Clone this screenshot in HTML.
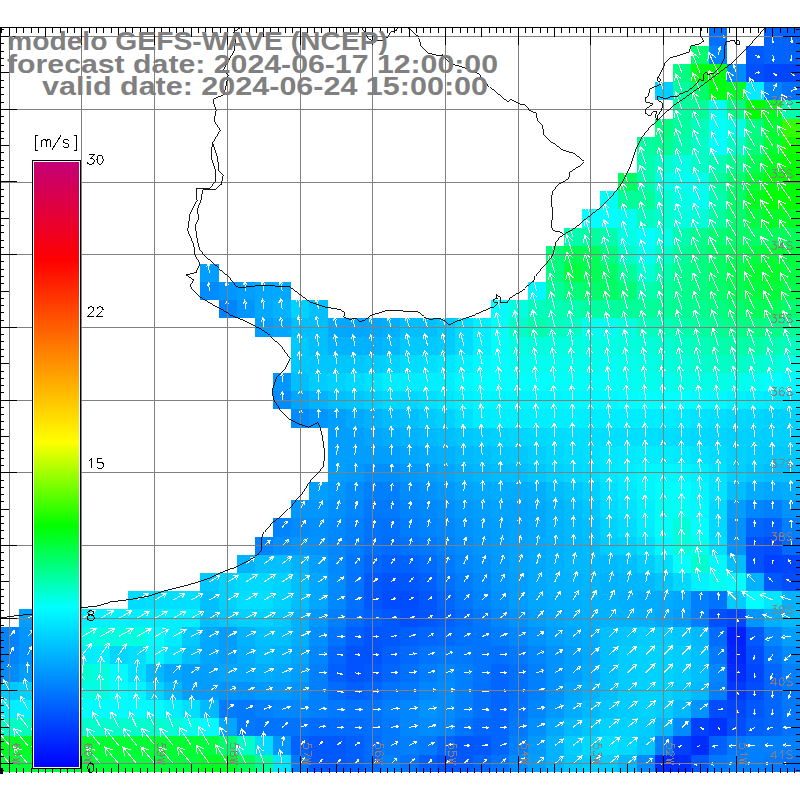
<!DOCTYPE html>
<html><head><meta charset="utf-8"><title>GEFS-WAVE wind</title>
<style>html,body{margin:0;padding:0;background:#fff;}body{width:800px;height:800px;position:relative;overflow:hidden;font-family:"Liberation Sans",sans-serif;}</style>
</head><body>
<svg width="800" height="800" viewBox="0 0 800 800" style="position:absolute;left:0;top:0">
<g shape-rendering="crispEdges">
<rect x="709" y="28" width="18" height="18" fill="#0070ff"/>
<rect x="764" y="28" width="36" height="18" fill="#0063ff"/>
<rect x="691" y="46" width="18" height="18" fill="#00ff6c"/>
<rect x="709" y="46" width="18" height="18" fill="#0083ff"/>
<rect x="746" y="46" width="18" height="18" fill="#0059ff"/>
<rect x="764" y="46" width="36" height="18" fill="#0063ff"/>
<rect x="673" y="64" width="18" height="18" fill="#00ff80"/>
<rect x="691" y="64" width="18" height="18" fill="#00ff13"/>
<rect x="709" y="64" width="18" height="18" fill="#00ff0d"/>
<rect x="727" y="64" width="19" height="18" fill="#008cff"/>
<rect x="746" y="64" width="18" height="18" fill="#0050ff"/>
<rect x="764" y="64" width="36" height="18" fill="#0046ff"/>
<rect x="655" y="82" width="18" height="18" fill="#00cfff"/>
<rect x="673" y="82" width="18" height="18" fill="#00ff9f"/>
<rect x="691" y="82" width="18" height="18" fill="#00ff6c"/>
<rect x="709" y="82" width="18" height="18" fill="#00ff13"/>
<rect x="727" y="82" width="19" height="18" fill="#00ff26"/>
<rect x="746" y="82" width="18" height="18" fill="#00ecff"/>
<rect x="764" y="82" width="18" height="18" fill="#0083ff"/>
<rect x="782" y="82" width="18" height="18" fill="#0070ff"/>
<rect x="673" y="100" width="18" height="19" fill="#00ff9f"/>
<rect x="691" y="100" width="18" height="19" fill="#00ff99"/>
<rect x="709" y="100" width="18" height="19" fill="#00fff2"/>
<rect x="727" y="100" width="19" height="19" fill="#00ff80"/>
<rect x="746" y="100" width="18" height="19" fill="#00ff00"/>
<rect x="764" y="100" width="18" height="19" fill="#00ff20"/>
<rect x="782" y="100" width="18" height="19" fill="#00ffac"/>
<rect x="655" y="119" width="18" height="18" fill="#00ff80"/>
<rect x="673" y="119" width="18" height="18" fill="#00ff9f"/>
<rect x="691" y="119" width="18" height="18" fill="#00ffb9"/>
<rect x="709" y="119" width="18" height="18" fill="#00fff9"/>
<rect x="727" y="119" width="19" height="18" fill="#00ffe5"/>
<rect x="746" y="119" width="18" height="18" fill="#00ff80"/>
<rect x="764" y="119" width="18" height="18" fill="#00ff33"/>
<rect x="782" y="119" width="18" height="18" fill="#33ff00"/>
<rect x="637" y="137" width="18" height="18" fill="#00ff9f"/>
<rect x="655" y="137" width="18" height="18" fill="#00ff93"/>
<rect x="673" y="137" width="18" height="18" fill="#00ffac"/>
<rect x="691" y="137" width="18" height="18" fill="#00ffc6"/>
<rect x="709" y="137" width="18" height="18" fill="#00ffff"/>
<rect x="727" y="137" width="19" height="18" fill="#00ffc6"/>
<rect x="746" y="137" width="18" height="18" fill="#00ff79"/>
<rect x="764" y="137" width="18" height="18" fill="#00ff33"/>
<rect x="782" y="137" width="18" height="18" fill="#13ff00"/>
<rect x="637" y="155" width="18" height="18" fill="#00ffac"/>
<rect x="655" y="155" width="18" height="18" fill="#00ffcc"/>
<rect x="673" y="155" width="18" height="18" fill="#00ffe5"/>
<rect x="691" y="155" width="18" height="18" fill="#00ffc6"/>
<rect x="709" y="155" width="18" height="18" fill="#00ffb3"/>
<rect x="727" y="155" width="19" height="18" fill="#00ff8c"/>
<rect x="746" y="155" width="18" height="18" fill="#00ff53"/>
<rect x="764" y="155" width="18" height="18" fill="#00ff20"/>
<rect x="782" y="155" width="18" height="18" fill="#00ff00"/>
<rect x="618" y="173" width="19" height="18" fill="#00ff60"/>
<rect x="637" y="173" width="18" height="18" fill="#00ffac"/>
<rect x="655" y="173" width="18" height="18" fill="#00ffe5"/>
<rect x="673" y="173" width="18" height="18" fill="#00fff2"/>
<rect x="691" y="173" width="18" height="18" fill="#00ffec"/>
<rect x="709" y="173" width="18" height="18" fill="#00ff9f"/>
<rect x="727" y="173" width="19" height="18" fill="#00ff6c"/>
<rect x="746" y="173" width="18" height="18" fill="#00ff33"/>
<rect x="764" y="173" width="18" height="18" fill="#00ff0d"/>
<rect x="782" y="173" width="18" height="18" fill="#00ff00"/>
<rect x="600" y="191" width="18" height="18" fill="#00fff2"/>
<rect x="618" y="191" width="37" height="18" fill="#00ff99"/>
<rect x="655" y="191" width="18" height="18" fill="#00ffcc"/>
<rect x="673" y="191" width="18" height="18" fill="#00ffe5"/>
<rect x="691" y="191" width="18" height="18" fill="#00fff2"/>
<rect x="709" y="191" width="18" height="18" fill="#00ffac"/>
<rect x="727" y="191" width="19" height="18" fill="#00ff66"/>
<rect x="746" y="191" width="18" height="18" fill="#00ff20"/>
<rect x="764" y="191" width="36" height="18" fill="#00ff00"/>
<rect x="582" y="209" width="36" height="19" fill="#00ffff"/>
<rect x="618" y="209" width="19" height="19" fill="#00fff2"/>
<rect x="637" y="209" width="18" height="19" fill="#00ffbf"/>
<rect x="655" y="209" width="18" height="19" fill="#00ffcc"/>
<rect x="673" y="209" width="18" height="19" fill="#00ffdf"/>
<rect x="691" y="209" width="18" height="19" fill="#00ffd9"/>
<rect x="709" y="209" width="18" height="19" fill="#00ff9f"/>
<rect x="727" y="209" width="19" height="19" fill="#00ff6c"/>
<rect x="746" y="209" width="18" height="19" fill="#00ff40"/>
<rect x="764" y="209" width="36" height="19" fill="#00ff26"/>
<rect x="564" y="228" width="18" height="18" fill="#00ffac"/>
<rect x="582" y="228" width="18" height="18" fill="#00ff9f"/>
<rect x="600" y="228" width="18" height="18" fill="#00ffac"/>
<rect x="618" y="228" width="19" height="18" fill="#00ffe5"/>
<rect x="637" y="228" width="18" height="18" fill="#00ffff"/>
<rect x="655" y="228" width="18" height="18" fill="#00ffe5"/>
<rect x="673" y="228" width="18" height="18" fill="#00ffac"/>
<rect x="691" y="228" width="18" height="18" fill="#00ff8c"/>
<rect x="709" y="228" width="18" height="18" fill="#00ff73"/>
<rect x="727" y="228" width="19" height="18" fill="#00ff66"/>
<rect x="746" y="228" width="18" height="18" fill="#00ff60"/>
<rect x="764" y="228" width="36" height="18" fill="#00ff59"/>
<rect x="546" y="246" width="18" height="18" fill="#00ff79"/>
<rect x="564" y="246" width="18" height="18" fill="#00ff53"/>
<rect x="582" y="246" width="18" height="18" fill="#00ff59"/>
<rect x="600" y="246" width="18" height="18" fill="#00ff80"/>
<rect x="618" y="246" width="19" height="18" fill="#00ffc6"/>
<rect x="637" y="246" width="18" height="18" fill="#00fff2"/>
<rect x="655" y="246" width="18" height="18" fill="#00ffc6"/>
<rect x="673" y="246" width="18" height="18" fill="#00ff99"/>
<rect x="691" y="246" width="18" height="18" fill="#00ff80"/>
<rect x="709" y="246" width="18" height="18" fill="#00ff66"/>
<rect x="727" y="246" width="19" height="18" fill="#00ff53"/>
<rect x="746" y="246" width="18" height="18" fill="#00ff40"/>
<rect x="764" y="246" width="18" height="18" fill="#00ff33"/>
<rect x="782" y="246" width="18" height="18" fill="#00ff40"/>
<rect x="200" y="264" width="19" height="18" fill="#009fff"/>
<rect x="546" y="264" width="18" height="18" fill="#00ff80"/>
<rect x="564" y="264" width="18" height="18" fill="#00ff40"/>
<rect x="582" y="264" width="18" height="18" fill="#00ff53"/>
<rect x="600" y="264" width="18" height="18" fill="#00ff66"/>
<rect x="618" y="264" width="19" height="18" fill="#00ff99"/>
<rect x="637" y="264" width="18" height="18" fill="#00ffd2"/>
<rect x="655" y="264" width="18" height="18" fill="#00ffac"/>
<rect x="673" y="264" width="18" height="18" fill="#00ff8c"/>
<rect x="691" y="264" width="18" height="18" fill="#00ff80"/>
<rect x="709" y="264" width="18" height="18" fill="#00ff66"/>
<rect x="727" y="264" width="19" height="18" fill="#00ff4c"/>
<rect x="746" y="264" width="18" height="18" fill="#00ff33"/>
<rect x="764" y="264" width="18" height="18" fill="#00ff2d"/>
<rect x="782" y="264" width="18" height="18" fill="#00ff40"/>
<rect x="200" y="282" width="19" height="18" fill="#008cff"/>
<rect x="219" y="282" width="18" height="18" fill="#0096ff"/>
<rect x="237" y="282" width="18" height="18" fill="#009fff"/>
<rect x="255" y="282" width="18" height="18" fill="#00a6ff"/>
<rect x="273" y="282" width="18" height="18" fill="#00a9ff"/>
<rect x="528" y="282" width="18" height="18" fill="#00f9ff"/>
<rect x="546" y="282" width="18" height="18" fill="#00ff99"/>
<rect x="564" y="282" width="18" height="18" fill="#00ff79"/>
<rect x="582" y="282" width="18" height="18" fill="#00ff6c"/>
<rect x="600" y="282" width="18" height="18" fill="#00ff66"/>
<rect x="618" y="282" width="19" height="18" fill="#00ff79"/>
<rect x="637" y="282" width="18" height="18" fill="#00ffac"/>
<rect x="655" y="282" width="18" height="18" fill="#00ff9f"/>
<rect x="673" y="282" width="18" height="18" fill="#00ff8c"/>
<rect x="691" y="282" width="18" height="18" fill="#00ff80"/>
<rect x="709" y="282" width="18" height="18" fill="#00ff6c"/>
<rect x="727" y="282" width="19" height="18" fill="#00ff53"/>
<rect x="746" y="282" width="18" height="18" fill="#00ff40"/>
<rect x="764" y="282" width="18" height="18" fill="#00ff39"/>
<rect x="782" y="282" width="18" height="18" fill="#00ff4c"/>
<rect x="219" y="300" width="18" height="18" fill="#0083ff"/>
<rect x="237" y="300" width="18" height="18" fill="#0096ff"/>
<rect x="255" y="300" width="18" height="18" fill="#00a9ff"/>
<rect x="273" y="300" width="18" height="18" fill="#00b2ff"/>
<rect x="291" y="300" width="18" height="18" fill="#00d2ff"/>
<rect x="309" y="300" width="19" height="18" fill="#00bfff"/>
<rect x="491" y="300" width="18" height="18" fill="#00fcff"/>
<rect x="509" y="300" width="19" height="18" fill="#00ffdf"/>
<rect x="528" y="300" width="18" height="18" fill="#00ffbf"/>
<rect x="546" y="300" width="18" height="18" fill="#00ffb3"/>
<rect x="564" y="300" width="18" height="18" fill="#00ffac"/>
<rect x="582" y="300" width="36" height="18" fill="#00ff9f"/>
<rect x="618" y="300" width="55" height="18" fill="#00ff99"/>
<rect x="673" y="300" width="18" height="18" fill="#00ff93"/>
<rect x="691" y="300" width="18" height="18" fill="#00ff8c"/>
<rect x="709" y="300" width="18" height="18" fill="#00ff80"/>
<rect x="727" y="300" width="19" height="18" fill="#00ff6c"/>
<rect x="746" y="300" width="36" height="18" fill="#00ff59"/>
<rect x="782" y="300" width="18" height="18" fill="#00ff6c"/>
<rect x="255" y="318" width="18" height="19" fill="#009fff"/>
<rect x="273" y="318" width="18" height="19" fill="#00a6ff"/>
<rect x="291" y="318" width="37" height="19" fill="#00bfff"/>
<rect x="328" y="318" width="18" height="19" fill="#00a9ff"/>
<rect x="346" y="318" width="18" height="19" fill="#00a6ff"/>
<rect x="364" y="318" width="18" height="19" fill="#00a9ff"/>
<rect x="382" y="318" width="18" height="19" fill="#00afff"/>
<rect x="400" y="318" width="37" height="19" fill="#00bfff"/>
<rect x="437" y="318" width="18" height="19" fill="#00c9ff"/>
<rect x="455" y="318" width="18" height="19" fill="#00dcff"/>
<rect x="473" y="318" width="18" height="19" fill="#00efff"/>
<rect x="491" y="318" width="18" height="19" fill="#00fff9"/>
<rect x="509" y="318" width="19" height="19" fill="#00ffc6"/>
<rect x="528" y="318" width="18" height="19" fill="#00ffac"/>
<rect x="546" y="318" width="18" height="19" fill="#00ffbf"/>
<rect x="564" y="318" width="18" height="19" fill="#00ffc6"/>
<rect x="582" y="318" width="18" height="19" fill="#00ffec"/>
<rect x="600" y="318" width="18" height="19" fill="#00fff2"/>
<rect x="618" y="318" width="19" height="19" fill="#00ffdf"/>
<rect x="637" y="318" width="18" height="19" fill="#00ffbf"/>
<rect x="655" y="318" width="18" height="19" fill="#00ffb9"/>
<rect x="673" y="318" width="18" height="19" fill="#00ffac"/>
<rect x="691" y="318" width="18" height="19" fill="#00ff9f"/>
<rect x="709" y="318" width="18" height="19" fill="#00ff93"/>
<rect x="727" y="318" width="19" height="19" fill="#00ff86"/>
<rect x="746" y="318" width="18" height="19" fill="#00ff80"/>
<rect x="764" y="318" width="18" height="19" fill="#00ff86"/>
<rect x="782" y="318" width="18" height="19" fill="#00ff99"/>
<rect x="291" y="337" width="18" height="18" fill="#00c9ff"/>
<rect x="309" y="337" width="19" height="18" fill="#00bfff"/>
<rect x="328" y="337" width="54" height="18" fill="#00b2ff"/>
<rect x="382" y="337" width="18" height="18" fill="#00b9ff"/>
<rect x="400" y="337" width="37" height="18" fill="#00c9ff"/>
<rect x="437" y="337" width="18" height="18" fill="#00ccff"/>
<rect x="455" y="337" width="18" height="18" fill="#00dcff"/>
<rect x="473" y="337" width="18" height="18" fill="#00efff"/>
<rect x="491" y="337" width="18" height="18" fill="#00fff9"/>
<rect x="509" y="337" width="19" height="18" fill="#00ffe5"/>
<rect x="528" y="337" width="54" height="18" fill="#00ffdf"/>
<rect x="582" y="337" width="36" height="18" fill="#00ffe5"/>
<rect x="618" y="337" width="19" height="18" fill="#00ffdf"/>
<rect x="637" y="337" width="18" height="18" fill="#00ffd9"/>
<rect x="655" y="337" width="18" height="18" fill="#00ffd2"/>
<rect x="673" y="337" width="18" height="18" fill="#00ffc6"/>
<rect x="691" y="337" width="18" height="18" fill="#00ffb9"/>
<rect x="709" y="337" width="18" height="18" fill="#00ffac"/>
<rect x="727" y="337" width="37" height="18" fill="#00ffa6"/>
<rect x="764" y="337" width="18" height="18" fill="#00ffb3"/>
<rect x="782" y="337" width="18" height="18" fill="#00ffbf"/>
<rect x="291" y="355" width="18" height="18" fill="#00c9ff"/>
<rect x="309" y="355" width="55" height="18" fill="#00c6ff"/>
<rect x="364" y="355" width="18" height="18" fill="#00ccff"/>
<rect x="382" y="355" width="18" height="18" fill="#00d2ff"/>
<rect x="400" y="355" width="19" height="18" fill="#00dcff"/>
<rect x="419" y="355" width="18" height="18" fill="#00dfff"/>
<rect x="437" y="355" width="18" height="18" fill="#00e6ff"/>
<rect x="455" y="355" width="18" height="18" fill="#00efff"/>
<rect x="473" y="355" width="18" height="18" fill="#00f9ff"/>
<rect x="491" y="355" width="18" height="18" fill="#00ffff"/>
<rect x="509" y="355" width="19" height="18" fill="#00fff2"/>
<rect x="528" y="355" width="72" height="18" fill="#00ffec"/>
<rect x="600" y="355" width="18" height="18" fill="#00fff2"/>
<rect x="618" y="355" width="19" height="18" fill="#00ffec"/>
<rect x="637" y="355" width="18" height="18" fill="#00ffe5"/>
<rect x="655" y="355" width="18" height="18" fill="#00ffdf"/>
<rect x="673" y="355" width="18" height="18" fill="#00ffd9"/>
<rect x="691" y="355" width="18" height="18" fill="#00ffcc"/>
<rect x="709" y="355" width="37" height="18" fill="#00ffc6"/>
<rect x="746" y="355" width="18" height="18" fill="#00ffcc"/>
<rect x="764" y="355" width="18" height="18" fill="#00ffd9"/>
<rect x="782" y="355" width="18" height="18" fill="#00ffe5"/>
<rect x="273" y="373" width="18" height="18" fill="#0096ff"/>
<rect x="291" y="373" width="18" height="18" fill="#00bfff"/>
<rect x="309" y="373" width="19" height="18" fill="#00ccff"/>
<rect x="328" y="373" width="18" height="18" fill="#00d2ff"/>
<rect x="346" y="373" width="18" height="18" fill="#00d9ff"/>
<rect x="364" y="373" width="18" height="18" fill="#00e2ff"/>
<rect x="382" y="373" width="37" height="18" fill="#00ecff"/>
<rect x="419" y="373" width="36" height="18" fill="#00efff"/>
<rect x="455" y="373" width="18" height="18" fill="#00f9ff"/>
<rect x="473" y="373" width="73" height="18" fill="#00ffff"/>
<rect x="546" y="373" width="72" height="18" fill="#00fff9"/>
<rect x="618" y="373" width="19" height="18" fill="#00fff2"/>
<rect x="637" y="373" width="36" height="18" fill="#00ffec"/>
<rect x="673" y="373" width="54" height="18" fill="#00ffe5"/>
<rect x="727" y="373" width="19" height="18" fill="#00ffec"/>
<rect x="746" y="373" width="18" height="18" fill="#00fff2"/>
<rect x="764" y="373" width="18" height="18" fill="#00ffff"/>
<rect x="782" y="373" width="18" height="18" fill="#00f9ff"/>
<rect x="273" y="391" width="18" height="18" fill="#008cff"/>
<rect x="291" y="391" width="18" height="18" fill="#00a6ff"/>
<rect x="309" y="391" width="19" height="18" fill="#00b2ff"/>
<rect x="328" y="391" width="18" height="18" fill="#00bfff"/>
<rect x="346" y="391" width="18" height="18" fill="#00c6ff"/>
<rect x="364" y="391" width="18" height="18" fill="#00cfff"/>
<rect x="382" y="391" width="18" height="18" fill="#00d9ff"/>
<rect x="400" y="391" width="19" height="18" fill="#00d6ff"/>
<rect x="419" y="391" width="18" height="18" fill="#00dfff"/>
<rect x="437" y="391" width="18" height="18" fill="#00e6ff"/>
<rect x="455" y="391" width="18" height="18" fill="#00efff"/>
<rect x="473" y="391" width="91" height="18" fill="#00f5ff"/>
<rect x="564" y="391" width="54" height="18" fill="#00f9ff"/>
<rect x="618" y="391" width="19" height="18" fill="#00fcff"/>
<rect x="637" y="391" width="54" height="18" fill="#00ffff"/>
<rect x="691" y="391" width="18" height="18" fill="#00fcff"/>
<rect x="709" y="391" width="18" height="18" fill="#00f9ff"/>
<rect x="727" y="391" width="19" height="18" fill="#00f2ff"/>
<rect x="746" y="391" width="18" height="18" fill="#00efff"/>
<rect x="764" y="391" width="18" height="18" fill="#00e9ff"/>
<rect x="782" y="391" width="18" height="18" fill="#00e6ff"/>
<rect x="291" y="409" width="18" height="19" fill="#008cff"/>
<rect x="309" y="409" width="19" height="19" fill="#0096ff"/>
<rect x="328" y="409" width="18" height="19" fill="#009fff"/>
<rect x="346" y="409" width="18" height="19" fill="#00a9ff"/>
<rect x="364" y="409" width="18" height="19" fill="#00b2ff"/>
<rect x="382" y="409" width="18" height="19" fill="#00bcff"/>
<rect x="400" y="409" width="19" height="19" fill="#00bfff"/>
<rect x="419" y="409" width="18" height="19" fill="#00c9ff"/>
<rect x="437" y="409" width="18" height="19" fill="#00d2ff"/>
<rect x="455" y="409" width="18" height="19" fill="#00dfff"/>
<rect x="473" y="409" width="18" height="19" fill="#00ecff"/>
<rect x="491" y="409" width="91" height="19" fill="#00efff"/>
<rect x="582" y="409" width="91" height="19" fill="#00ecff"/>
<rect x="673" y="409" width="18" height="19" fill="#00e9ff"/>
<rect x="691" y="409" width="18" height="19" fill="#00e2ff"/>
<rect x="709" y="409" width="18" height="19" fill="#00dfff"/>
<rect x="727" y="409" width="19" height="19" fill="#00d9ff"/>
<rect x="746" y="409" width="18" height="19" fill="#00d6ff"/>
<rect x="764" y="409" width="36" height="19" fill="#00d2ff"/>
<rect x="328" y="428" width="36" height="18" fill="#009fff"/>
<rect x="364" y="428" width="18" height="18" fill="#00a6ff"/>
<rect x="382" y="428" width="18" height="18" fill="#00acff"/>
<rect x="400" y="428" width="19" height="18" fill="#00b2ff"/>
<rect x="419" y="428" width="18" height="18" fill="#00b9ff"/>
<rect x="437" y="428" width="18" height="18" fill="#00bfff"/>
<rect x="455" y="428" width="18" height="18" fill="#00c6ff"/>
<rect x="473" y="428" width="18" height="18" fill="#00ccff"/>
<rect x="491" y="428" width="18" height="18" fill="#00d2ff"/>
<rect x="509" y="428" width="19" height="18" fill="#00d6ff"/>
<rect x="528" y="428" width="18" height="18" fill="#00d9ff"/>
<rect x="546" y="428" width="18" height="18" fill="#00dcff"/>
<rect x="564" y="428" width="109" height="18" fill="#00dfff"/>
<rect x="673" y="428" width="18" height="18" fill="#00dcff"/>
<rect x="691" y="428" width="18" height="18" fill="#00d9ff"/>
<rect x="709" y="428" width="18" height="18" fill="#00d6ff"/>
<rect x="727" y="428" width="19" height="18" fill="#00d2ff"/>
<rect x="746" y="428" width="54" height="18" fill="#00cfff"/>
<rect x="328" y="446" width="72" height="18" fill="#009fff"/>
<rect x="400" y="446" width="19" height="18" fill="#00a6ff"/>
<rect x="419" y="446" width="18" height="18" fill="#00acff"/>
<rect x="437" y="446" width="18" height="18" fill="#00b2ff"/>
<rect x="455" y="446" width="18" height="18" fill="#00b9ff"/>
<rect x="473" y="446" width="18" height="18" fill="#00bfff"/>
<rect x="491" y="446" width="18" height="18" fill="#00c6ff"/>
<rect x="509" y="446" width="19" height="18" fill="#00c9ff"/>
<rect x="528" y="446" width="18" height="18" fill="#00cfff"/>
<rect x="546" y="446" width="18" height="18" fill="#00d6ff"/>
<rect x="564" y="446" width="18" height="18" fill="#00dcff"/>
<rect x="582" y="446" width="18" height="18" fill="#00dfff"/>
<rect x="600" y="446" width="18" height="18" fill="#00e6ff"/>
<rect x="618" y="446" width="19" height="18" fill="#00e9ff"/>
<rect x="637" y="446" width="36" height="18" fill="#00ecff"/>
<rect x="673" y="446" width="18" height="18" fill="#00e9ff"/>
<rect x="691" y="446" width="18" height="18" fill="#00e2ff"/>
<rect x="709" y="446" width="18" height="18" fill="#00dcff"/>
<rect x="727" y="446" width="19" height="18" fill="#00d2ff"/>
<rect x="746" y="446" width="18" height="18" fill="#00ccff"/>
<rect x="764" y="446" width="36" height="18" fill="#00c9ff"/>
<rect x="328" y="464" width="18" height="18" fill="#009fff"/>
<rect x="346" y="464" width="18" height="18" fill="#0099ff"/>
<rect x="364" y="464" width="36" height="18" fill="#008fff"/>
<rect x="400" y="464" width="19" height="18" fill="#0099ff"/>
<rect x="419" y="464" width="18" height="18" fill="#009fff"/>
<rect x="437" y="464" width="18" height="18" fill="#00a6ff"/>
<rect x="455" y="464" width="18" height="18" fill="#00afff"/>
<rect x="473" y="464" width="18" height="18" fill="#00b6ff"/>
<rect x="491" y="464" width="18" height="18" fill="#00bcff"/>
<rect x="509" y="464" width="19" height="18" fill="#00bfff"/>
<rect x="528" y="464" width="18" height="18" fill="#00c6ff"/>
<rect x="546" y="464" width="18" height="18" fill="#00cfff"/>
<rect x="564" y="464" width="18" height="18" fill="#00d6ff"/>
<rect x="582" y="464" width="18" height="18" fill="#00dcff"/>
<rect x="600" y="464" width="18" height="18" fill="#00e6ff"/>
<rect x="618" y="464" width="19" height="18" fill="#00ecff"/>
<rect x="637" y="464" width="18" height="18" fill="#00f5ff"/>
<rect x="655" y="464" width="18" height="18" fill="#00f9ff"/>
<rect x="673" y="464" width="18" height="18" fill="#00f5ff"/>
<rect x="691" y="464" width="18" height="18" fill="#00efff"/>
<rect x="709" y="464" width="18" height="18" fill="#00e2ff"/>
<rect x="727" y="464" width="19" height="18" fill="#00cfff"/>
<rect x="746" y="464" width="18" height="18" fill="#00c6ff"/>
<rect x="764" y="464" width="36" height="18" fill="#00bfff"/>
<rect x="309" y="482" width="19" height="18" fill="#009fff"/>
<rect x="328" y="482" width="18" height="18" fill="#0096ff"/>
<rect x="346" y="482" width="18" height="18" fill="#008cff"/>
<rect x="364" y="482" width="36" height="18" fill="#0080ff"/>
<rect x="400" y="482" width="19" height="18" fill="#008cff"/>
<rect x="419" y="482" width="18" height="18" fill="#0093ff"/>
<rect x="437" y="482" width="18" height="18" fill="#0099ff"/>
<rect x="455" y="482" width="18" height="18" fill="#00a3ff"/>
<rect x="473" y="482" width="18" height="18" fill="#00a9ff"/>
<rect x="491" y="482" width="37" height="18" fill="#00acff"/>
<rect x="528" y="482" width="18" height="18" fill="#00afff"/>
<rect x="546" y="482" width="18" height="18" fill="#00bcff"/>
<rect x="564" y="482" width="18" height="18" fill="#00c6ff"/>
<rect x="582" y="482" width="18" height="18" fill="#00cfff"/>
<rect x="600" y="482" width="18" height="18" fill="#00dfff"/>
<rect x="618" y="482" width="19" height="18" fill="#00e9ff"/>
<rect x="637" y="482" width="18" height="18" fill="#00f5ff"/>
<rect x="655" y="482" width="18" height="18" fill="#00fff9"/>
<rect x="673" y="482" width="18" height="18" fill="#00ffff"/>
<rect x="691" y="482" width="18" height="18" fill="#00f5ff"/>
<rect x="709" y="482" width="18" height="18" fill="#00e2ff"/>
<rect x="727" y="482" width="19" height="18" fill="#00bfff"/>
<rect x="746" y="482" width="18" height="18" fill="#00acff"/>
<rect x="764" y="482" width="18" height="18" fill="#00a6ff"/>
<rect x="782" y="482" width="18" height="18" fill="#00acff"/>
<rect x="291" y="500" width="37" height="18" fill="#0096ff"/>
<rect x="328" y="500" width="18" height="18" fill="#008fff"/>
<rect x="346" y="500" width="18" height="18" fill="#0086ff"/>
<rect x="364" y="500" width="36" height="18" fill="#0079ff"/>
<rect x="400" y="500" width="19" height="18" fill="#0083ff"/>
<rect x="419" y="500" width="18" height="18" fill="#0089ff"/>
<rect x="437" y="500" width="18" height="18" fill="#008fff"/>
<rect x="455" y="500" width="18" height="18" fill="#0099ff"/>
<rect x="473" y="500" width="18" height="18" fill="#009fff"/>
<rect x="491" y="500" width="37" height="18" fill="#00a3ff"/>
<rect x="528" y="500" width="18" height="18" fill="#00a9ff"/>
<rect x="546" y="500" width="18" height="18" fill="#00b2ff"/>
<rect x="564" y="500" width="18" height="18" fill="#00bcff"/>
<rect x="582" y="500" width="18" height="18" fill="#00c6ff"/>
<rect x="600" y="500" width="18" height="18" fill="#00d9ff"/>
<rect x="618" y="500" width="19" height="18" fill="#00e2ff"/>
<rect x="637" y="500" width="18" height="18" fill="#00efff"/>
<rect x="655" y="500" width="36" height="18" fill="#00fff2"/>
<rect x="691" y="500" width="18" height="18" fill="#00f9ff"/>
<rect x="709" y="500" width="18" height="18" fill="#00d9ff"/>
<rect x="727" y="500" width="19" height="18" fill="#009fff"/>
<rect x="746" y="500" width="18" height="18" fill="#0086ff"/>
<rect x="764" y="500" width="18" height="18" fill="#0080ff"/>
<rect x="782" y="500" width="18" height="18" fill="#0093ff"/>
<rect x="273" y="518" width="18" height="19" fill="#0083ff"/>
<rect x="291" y="518" width="18" height="19" fill="#008cff"/>
<rect x="309" y="518" width="19" height="19" fill="#008fff"/>
<rect x="328" y="518" width="18" height="19" fill="#0089ff"/>
<rect x="346" y="518" width="18" height="19" fill="#0080ff"/>
<rect x="364" y="518" width="18" height="19" fill="#0073ff"/>
<rect x="382" y="518" width="18" height="19" fill="#0070ff"/>
<rect x="400" y="518" width="19" height="19" fill="#007cff"/>
<rect x="419" y="518" width="18" height="19" fill="#0083ff"/>
<rect x="437" y="518" width="18" height="19" fill="#0089ff"/>
<rect x="455" y="518" width="18" height="19" fill="#0093ff"/>
<rect x="473" y="518" width="18" height="19" fill="#0099ff"/>
<rect x="491" y="518" width="18" height="19" fill="#009fff"/>
<rect x="509" y="518" width="19" height="19" fill="#00a3ff"/>
<rect x="528" y="518" width="18" height="19" fill="#00a9ff"/>
<rect x="546" y="518" width="18" height="19" fill="#00b2ff"/>
<rect x="564" y="518" width="18" height="19" fill="#00b9ff"/>
<rect x="582" y="518" width="18" height="19" fill="#00bfff"/>
<rect x="600" y="518" width="18" height="19" fill="#00d2ff"/>
<rect x="618" y="518" width="19" height="19" fill="#00dcff"/>
<rect x="637" y="518" width="18" height="19" fill="#00ecff"/>
<rect x="655" y="518" width="18" height="19" fill="#00fff9"/>
<rect x="673" y="518" width="18" height="19" fill="#00ffd9"/>
<rect x="691" y="518" width="18" height="19" fill="#00ffff"/>
<rect x="709" y="518" width="18" height="19" fill="#00d9ff"/>
<rect x="727" y="518" width="19" height="19" fill="#0093ff"/>
<rect x="746" y="518" width="18" height="19" fill="#0066ff"/>
<rect x="764" y="518" width="18" height="19" fill="#0060ff"/>
<rect x="782" y="518" width="18" height="19" fill="#0080ff"/>
<rect x="255" y="537" width="18" height="18" fill="#0083ff"/>
<rect x="273" y="537" width="18" height="18" fill="#008fff"/>
<rect x="291" y="537" width="18" height="18" fill="#0096ff"/>
<rect x="309" y="537" width="19" height="18" fill="#0093ff"/>
<rect x="328" y="537" width="18" height="18" fill="#0086ff"/>
<rect x="346" y="537" width="18" height="18" fill="#007cff"/>
<rect x="364" y="537" width="18" height="18" fill="#0070ff"/>
<rect x="382" y="537" width="18" height="18" fill="#006cff"/>
<rect x="400" y="537" width="19" height="18" fill="#0073ff"/>
<rect x="419" y="537" width="18" height="18" fill="#0079ff"/>
<rect x="437" y="537" width="18" height="18" fill="#0083ff"/>
<rect x="455" y="537" width="18" height="18" fill="#008cff"/>
<rect x="473" y="537" width="18" height="18" fill="#0096ff"/>
<rect x="491" y="537" width="18" height="18" fill="#009cff"/>
<rect x="509" y="537" width="19" height="18" fill="#00a3ff"/>
<rect x="528" y="537" width="18" height="18" fill="#00a9ff"/>
<rect x="546" y="537" width="18" height="18" fill="#00afff"/>
<rect x="564" y="537" width="18" height="18" fill="#00b6ff"/>
<rect x="582" y="537" width="18" height="18" fill="#00bcff"/>
<rect x="600" y="537" width="18" height="18" fill="#00ccff"/>
<rect x="618" y="537" width="19" height="18" fill="#00d2ff"/>
<rect x="637" y="537" width="18" height="18" fill="#00dfff"/>
<rect x="655" y="537" width="18" height="18" fill="#00f9ff"/>
<rect x="673" y="537" width="18" height="18" fill="#00ffd9"/>
<rect x="691" y="537" width="18" height="18" fill="#00ffec"/>
<rect x="709" y="537" width="18" height="18" fill="#00dfff"/>
<rect x="727" y="537" width="19" height="18" fill="#0093ff"/>
<rect x="746" y="537" width="18" height="18" fill="#0053ff"/>
<rect x="764" y="537" width="18" height="18" fill="#004cff"/>
<rect x="782" y="537" width="18" height="18" fill="#006cff"/>
<rect x="237" y="555" width="18" height="18" fill="#00b2ff"/>
<rect x="255" y="555" width="36" height="18" fill="#00bfff"/>
<rect x="291" y="555" width="18" height="18" fill="#00b2ff"/>
<rect x="309" y="555" width="19" height="18" fill="#009fff"/>
<rect x="328" y="555" width="18" height="18" fill="#0089ff"/>
<rect x="346" y="555" width="18" height="18" fill="#0076ff"/>
<rect x="364" y="555" width="18" height="18" fill="#0066ff"/>
<rect x="382" y="555" width="18" height="18" fill="#0060ff"/>
<rect x="400" y="555" width="19" height="18" fill="#0063ff"/>
<rect x="419" y="555" width="18" height="18" fill="#006cff"/>
<rect x="437" y="555" width="18" height="18" fill="#0079ff"/>
<rect x="455" y="555" width="18" height="18" fill="#0086ff"/>
<rect x="473" y="555" width="18" height="18" fill="#008fff"/>
<rect x="491" y="555" width="18" height="18" fill="#0099ff"/>
<rect x="509" y="555" width="19" height="18" fill="#00a3ff"/>
<rect x="528" y="555" width="18" height="18" fill="#00a9ff"/>
<rect x="546" y="555" width="18" height="18" fill="#00afff"/>
<rect x="564" y="555" width="18" height="18" fill="#00b6ff"/>
<rect x="582" y="555" width="36" height="18" fill="#00b9ff"/>
<rect x="618" y="555" width="19" height="18" fill="#00bfff"/>
<rect x="637" y="555" width="18" height="18" fill="#00ccff"/>
<rect x="655" y="555" width="18" height="18" fill="#00dfff"/>
<rect x="673" y="555" width="18" height="18" fill="#00ffff"/>
<rect x="691" y="555" width="18" height="18" fill="#00ffcc"/>
<rect x="709" y="555" width="18" height="18" fill="#00f9ff"/>
<rect x="727" y="555" width="19" height="18" fill="#00bfff"/>
<rect x="746" y="555" width="18" height="18" fill="#0053ff"/>
<rect x="764" y="555" width="18" height="18" fill="#0040ff"/>
<rect x="782" y="555" width="18" height="18" fill="#0046ff"/>
<rect x="200" y="573" width="19" height="18" fill="#00c9ff"/>
<rect x="219" y="573" width="18" height="18" fill="#00d2ff"/>
<rect x="237" y="573" width="36" height="18" fill="#00d9ff"/>
<rect x="273" y="573" width="18" height="18" fill="#00d2ff"/>
<rect x="291" y="573" width="18" height="18" fill="#00bfff"/>
<rect x="309" y="573" width="19" height="18" fill="#00a6ff"/>
<rect x="328" y="573" width="18" height="18" fill="#008cff"/>
<rect x="346" y="573" width="18" height="18" fill="#0073ff"/>
<rect x="364" y="573" width="18" height="18" fill="#0059ff"/>
<rect x="382" y="573" width="18" height="18" fill="#0053ff"/>
<rect x="400" y="573" width="19" height="18" fill="#0056ff"/>
<rect x="419" y="573" width="18" height="18" fill="#0060ff"/>
<rect x="437" y="573" width="18" height="18" fill="#0070ff"/>
<rect x="455" y="573" width="18" height="18" fill="#007cff"/>
<rect x="473" y="573" width="18" height="18" fill="#0089ff"/>
<rect x="491" y="573" width="18" height="18" fill="#0096ff"/>
<rect x="509" y="573" width="19" height="18" fill="#009fff"/>
<rect x="528" y="573" width="18" height="18" fill="#00a9ff"/>
<rect x="546" y="573" width="18" height="18" fill="#00afff"/>
<rect x="564" y="573" width="18" height="18" fill="#00b2ff"/>
<rect x="582" y="573" width="18" height="18" fill="#00b6ff"/>
<rect x="600" y="573" width="18" height="18" fill="#00b2ff"/>
<rect x="618" y="573" width="19" height="18" fill="#00b6ff"/>
<rect x="637" y="573" width="18" height="18" fill="#00b9ff"/>
<rect x="655" y="573" width="18" height="18" fill="#00c6ff"/>
<rect x="673" y="573" width="18" height="18" fill="#00d9ff"/>
<rect x="691" y="573" width="18" height="18" fill="#00f2ff"/>
<rect x="709" y="573" width="18" height="18" fill="#00fff2"/>
<rect x="727" y="573" width="19" height="18" fill="#00ffff"/>
<rect x="746" y="573" width="18" height="18" fill="#00b2ff"/>
<rect x="764" y="573" width="18" height="18" fill="#0059ff"/>
<rect x="782" y="573" width="18" height="18" fill="#004cff"/>
<rect x="128" y="591" width="18" height="18" fill="#00dcff"/>
<rect x="146" y="591" width="54" height="18" fill="#00dfff"/>
<rect x="200" y="591" width="19" height="18" fill="#00bfff"/>
<rect x="219" y="591" width="18" height="18" fill="#00d2ff"/>
<rect x="237" y="591" width="36" height="18" fill="#00dfff"/>
<rect x="273" y="591" width="18" height="18" fill="#00d2ff"/>
<rect x="291" y="591" width="18" height="18" fill="#00bfff"/>
<rect x="309" y="591" width="19" height="18" fill="#00a6ff"/>
<rect x="328" y="591" width="18" height="18" fill="#0089ff"/>
<rect x="346" y="591" width="18" height="18" fill="#0070ff"/>
<rect x="364" y="591" width="18" height="18" fill="#0056ff"/>
<rect x="382" y="591" width="37" height="18" fill="#004cff"/>
<rect x="419" y="591" width="18" height="18" fill="#0056ff"/>
<rect x="437" y="591" width="18" height="18" fill="#0066ff"/>
<rect x="455" y="591" width="18" height="18" fill="#0076ff"/>
<rect x="473" y="591" width="18" height="18" fill="#0083ff"/>
<rect x="491" y="591" width="18" height="18" fill="#008fff"/>
<rect x="509" y="591" width="19" height="18" fill="#009cff"/>
<rect x="528" y="591" width="18" height="18" fill="#00a6ff"/>
<rect x="546" y="591" width="18" height="18" fill="#00acff"/>
<rect x="564" y="591" width="18" height="18" fill="#00afff"/>
<rect x="582" y="591" width="36" height="18" fill="#00b2ff"/>
<rect x="618" y="591" width="19" height="18" fill="#00afff"/>
<rect x="637" y="591" width="36" height="18" fill="#00acff"/>
<rect x="673" y="591" width="18" height="18" fill="#00a6ff"/>
<rect x="691" y="591" width="18" height="18" fill="#0080ff"/>
<rect x="709" y="591" width="18" height="18" fill="#0073ff"/>
<rect x="727" y="591" width="19" height="18" fill="#00ccff"/>
<rect x="746" y="591" width="18" height="18" fill="#00ffff"/>
<rect x="764" y="591" width="18" height="18" fill="#00e6ff"/>
<rect x="782" y="591" width="18" height="18" fill="#00b2ff"/>
<rect x="19" y="609" width="18" height="18" fill="#009fff"/>
<rect x="37" y="609" width="18" height="18" fill="#00bfff"/>
<rect x="55" y="609" width="18" height="18" fill="#00dfff"/>
<rect x="73" y="609" width="55" height="18" fill="#00f2ff"/>
<rect x="128" y="609" width="72" height="18" fill="#00efff"/>
<rect x="200" y="609" width="19" height="18" fill="#00bfff"/>
<rect x="219" y="609" width="18" height="18" fill="#00c9ff"/>
<rect x="237" y="609" width="18" height="18" fill="#00cfff"/>
<rect x="255" y="609" width="18" height="18" fill="#00d2ff"/>
<rect x="273" y="609" width="18" height="18" fill="#00c9ff"/>
<rect x="291" y="609" width="18" height="18" fill="#00b2ff"/>
<rect x="309" y="609" width="19" height="18" fill="#0099ff"/>
<rect x="328" y="609" width="18" height="18" fill="#0080ff"/>
<rect x="346" y="609" width="18" height="18" fill="#006cff"/>
<rect x="364" y="609" width="18" height="18" fill="#0060ff"/>
<rect x="382" y="609" width="18" height="18" fill="#0059ff"/>
<rect x="400" y="609" width="19" height="18" fill="#0050ff"/>
<rect x="419" y="609" width="18" height="18" fill="#0056ff"/>
<rect x="437" y="609" width="18" height="18" fill="#0060ff"/>
<rect x="455" y="609" width="18" height="18" fill="#006cff"/>
<rect x="473" y="609" width="18" height="18" fill="#0079ff"/>
<rect x="491" y="609" width="18" height="18" fill="#0086ff"/>
<rect x="509" y="609" width="19" height="18" fill="#0093ff"/>
<rect x="528" y="609" width="18" height="18" fill="#009fff"/>
<rect x="546" y="609" width="18" height="18" fill="#00a6ff"/>
<rect x="564" y="609" width="18" height="18" fill="#00acff"/>
<rect x="582" y="609" width="18" height="18" fill="#00afff"/>
<rect x="600" y="609" width="37" height="18" fill="#00b2ff"/>
<rect x="637" y="609" width="18" height="18" fill="#00afff"/>
<rect x="655" y="609" width="18" height="18" fill="#00a9ff"/>
<rect x="673" y="609" width="18" height="18" fill="#009cff"/>
<rect x="691" y="609" width="18" height="18" fill="#0080ff"/>
<rect x="709" y="609" width="18" height="18" fill="#0050ff"/>
<rect x="727" y="609" width="19" height="18" fill="#0046ff"/>
<rect x="746" y="609" width="18" height="18" fill="#0096ff"/>
<rect x="764" y="609" width="18" height="18" fill="#00afff"/>
<rect x="782" y="609" width="18" height="18" fill="#00b9ff"/>
<rect x="0" y="627" width="19" height="19" fill="#0083ff"/>
<rect x="19" y="627" width="18" height="19" fill="#0096ff"/>
<rect x="37" y="627" width="18" height="19" fill="#00bfff"/>
<rect x="55" y="627" width="18" height="19" fill="#00efff"/>
<rect x="73" y="627" width="18" height="19" fill="#00ffe5"/>
<rect x="91" y="627" width="55" height="19" fill="#00ffdf"/>
<rect x="146" y="627" width="18" height="19" fill="#00fcff"/>
<rect x="164" y="627" width="18" height="19" fill="#00ecff"/>
<rect x="182" y="627" width="18" height="19" fill="#00c9ff"/>
<rect x="200" y="627" width="19" height="19" fill="#00a9ff"/>
<rect x="219" y="627" width="18" height="19" fill="#009fff"/>
<rect x="237" y="627" width="18" height="19" fill="#00b2ff"/>
<rect x="255" y="627" width="36" height="19" fill="#00bfff"/>
<rect x="291" y="627" width="18" height="19" fill="#00afff"/>
<rect x="309" y="627" width="19" height="19" fill="#008fff"/>
<rect x="328" y="627" width="18" height="19" fill="#0073ff"/>
<rect x="346" y="627" width="18" height="19" fill="#0060ff"/>
<rect x="364" y="627" width="18" height="19" fill="#0053ff"/>
<rect x="382" y="627" width="18" height="19" fill="#0059ff"/>
<rect x="400" y="627" width="19" height="19" fill="#0060ff"/>
<rect x="419" y="627" width="18" height="19" fill="#0066ff"/>
<rect x="437" y="627" width="18" height="19" fill="#0069ff"/>
<rect x="455" y="627" width="18" height="19" fill="#0070ff"/>
<rect x="473" y="627" width="18" height="19" fill="#0076ff"/>
<rect x="491" y="627" width="18" height="19" fill="#007cff"/>
<rect x="509" y="627" width="19" height="19" fill="#0086ff"/>
<rect x="528" y="627" width="18" height="19" fill="#0093ff"/>
<rect x="546" y="627" width="18" height="19" fill="#009fff"/>
<rect x="564" y="627" width="18" height="19" fill="#00a6ff"/>
<rect x="582" y="627" width="18" height="19" fill="#00acff"/>
<rect x="600" y="627" width="18" height="19" fill="#00bfff"/>
<rect x="618" y="627" width="19" height="19" fill="#00c6ff"/>
<rect x="637" y="627" width="36" height="19" fill="#00ccff"/>
<rect x="673" y="627" width="18" height="19" fill="#00c6ff"/>
<rect x="691" y="627" width="18" height="19" fill="#00b9ff"/>
<rect x="709" y="627" width="18" height="19" fill="#006cff"/>
<rect x="727" y="627" width="19" height="19" fill="#0020ff"/>
<rect x="746" y="627" width="18" height="19" fill="#0059ff"/>
<rect x="764" y="627" width="18" height="19" fill="#0086ff"/>
<rect x="782" y="627" width="18" height="19" fill="#009fff"/>
<rect x="0" y="646" width="19" height="18" fill="#0083ff"/>
<rect x="19" y="646" width="18" height="18" fill="#0093ff"/>
<rect x="37" y="646" width="18" height="18" fill="#00afff"/>
<rect x="55" y="646" width="18" height="18" fill="#00cfff"/>
<rect x="73" y="646" width="18" height="18" fill="#00ecff"/>
<rect x="91" y="646" width="19" height="18" fill="#00efff"/>
<rect x="110" y="646" width="18" height="18" fill="#00d6ff"/>
<rect x="128" y="646" width="18" height="18" fill="#00dfff"/>
<rect x="146" y="646" width="18" height="18" fill="#00f5ff"/>
<rect x="164" y="646" width="18" height="18" fill="#00dfff"/>
<rect x="182" y="646" width="18" height="18" fill="#00bfff"/>
<rect x="200" y="646" width="19" height="18" fill="#00a6ff"/>
<rect x="219" y="646" width="18" height="18" fill="#009fff"/>
<rect x="237" y="646" width="18" height="18" fill="#00acff"/>
<rect x="255" y="646" width="18" height="18" fill="#00b9ff"/>
<rect x="273" y="646" width="18" height="18" fill="#00b2ff"/>
<rect x="291" y="646" width="18" height="18" fill="#00a6ff"/>
<rect x="309" y="646" width="19" height="18" fill="#0086ff"/>
<rect x="328" y="646" width="18" height="18" fill="#0066ff"/>
<rect x="346" y="646" width="36" height="18" fill="#0053ff"/>
<rect x="382" y="646" width="18" height="18" fill="#0060ff"/>
<rect x="400" y="646" width="19" height="18" fill="#0069ff"/>
<rect x="419" y="646" width="18" height="18" fill="#0073ff"/>
<rect x="437" y="646" width="36" height="18" fill="#0079ff"/>
<rect x="473" y="646" width="18" height="18" fill="#0073ff"/>
<rect x="491" y="646" width="18" height="18" fill="#0070ff"/>
<rect x="509" y="646" width="19" height="18" fill="#0079ff"/>
<rect x="528" y="646" width="18" height="18" fill="#0086ff"/>
<rect x="546" y="646" width="18" height="18" fill="#0093ff"/>
<rect x="564" y="646" width="18" height="18" fill="#009fff"/>
<rect x="582" y="646" width="18" height="18" fill="#00a9ff"/>
<rect x="600" y="646" width="18" height="18" fill="#00bfff"/>
<rect x="618" y="646" width="19" height="18" fill="#00ccff"/>
<rect x="637" y="646" width="36" height="18" fill="#00d2ff"/>
<rect x="673" y="646" width="18" height="18" fill="#00ccff"/>
<rect x="691" y="646" width="18" height="18" fill="#00bfff"/>
<rect x="709" y="646" width="18" height="18" fill="#0079ff"/>
<rect x="727" y="646" width="19" height="18" fill="#0026ff"/>
<rect x="746" y="646" width="18" height="18" fill="#004cff"/>
<rect x="764" y="646" width="18" height="18" fill="#0073ff"/>
<rect x="782" y="646" width="18" height="18" fill="#008cff"/>
<rect x="0" y="664" width="19" height="18" fill="#008cff"/>
<rect x="19" y="664" width="18" height="18" fill="#009fff"/>
<rect x="37" y="664" width="18" height="18" fill="#00bfff"/>
<rect x="55" y="664" width="18" height="18" fill="#00efff"/>
<rect x="73" y="664" width="18" height="18" fill="#00ffd2"/>
<rect x="91" y="664" width="19" height="18" fill="#00ffdf"/>
<rect x="110" y="664" width="18" height="18" fill="#00fcff"/>
<rect x="128" y="664" width="18" height="18" fill="#00dfff"/>
<rect x="146" y="664" width="18" height="18" fill="#00b9ff"/>
<rect x="164" y="664" width="18" height="18" fill="#00a6ff"/>
<rect x="182" y="664" width="37" height="18" fill="#009fff"/>
<rect x="219" y="664" width="36" height="18" fill="#00a6ff"/>
<rect x="255" y="664" width="18" height="18" fill="#00acff"/>
<rect x="273" y="664" width="18" height="18" fill="#00a9ff"/>
<rect x="291" y="664" width="18" height="18" fill="#009fff"/>
<rect x="309" y="664" width="19" height="18" fill="#0080ff"/>
<rect x="328" y="664" width="18" height="18" fill="#0060ff"/>
<rect x="346" y="664" width="18" height="18" fill="#0053ff"/>
<rect x="364" y="664" width="18" height="18" fill="#0059ff"/>
<rect x="382" y="664" width="18" height="18" fill="#0066ff"/>
<rect x="400" y="664" width="19" height="18" fill="#0070ff"/>
<rect x="419" y="664" width="18" height="18" fill="#007cff"/>
<rect x="437" y="664" width="18" height="18" fill="#0086ff"/>
<rect x="455" y="664" width="18" height="18" fill="#0080ff"/>
<rect x="473" y="664" width="18" height="18" fill="#0073ff"/>
<rect x="491" y="664" width="18" height="18" fill="#0066ff"/>
<rect x="509" y="664" width="19" height="18" fill="#0070ff"/>
<rect x="528" y="664" width="18" height="18" fill="#0080ff"/>
<rect x="546" y="664" width="18" height="18" fill="#0093ff"/>
<rect x="564" y="664" width="18" height="18" fill="#009fff"/>
<rect x="582" y="664" width="18" height="18" fill="#00acff"/>
<rect x="600" y="664" width="18" height="18" fill="#00bfff"/>
<rect x="618" y="664" width="19" height="18" fill="#00ccff"/>
<rect x="637" y="664" width="36" height="18" fill="#00d2ff"/>
<rect x="673" y="664" width="18" height="18" fill="#00ccff"/>
<rect x="691" y="664" width="18" height="18" fill="#00bfff"/>
<rect x="709" y="664" width="18" height="18" fill="#0086ff"/>
<rect x="727" y="664" width="19" height="18" fill="#002dff"/>
<rect x="746" y="664" width="18" height="18" fill="#0046ff"/>
<rect x="764" y="664" width="18" height="18" fill="#0066ff"/>
<rect x="782" y="664" width="18" height="18" fill="#0080ff"/>
<rect x="0" y="682" width="19" height="18" fill="#00c9ff"/>
<rect x="19" y="682" width="18" height="18" fill="#00d2ff"/>
<rect x="37" y="682" width="18" height="18" fill="#00dfff"/>
<rect x="55" y="682" width="18" height="18" fill="#00f2ff"/>
<rect x="73" y="682" width="18" height="18" fill="#00ffe5"/>
<rect x="91" y="682" width="19" height="18" fill="#00ffdf"/>
<rect x="110" y="682" width="18" height="18" fill="#00ffff"/>
<rect x="128" y="682" width="18" height="18" fill="#00f5ff"/>
<rect x="146" y="682" width="18" height="18" fill="#00d6ff"/>
<rect x="164" y="682" width="18" height="18" fill="#00b9ff"/>
<rect x="182" y="682" width="18" height="18" fill="#009fff"/>
<rect x="200" y="682" width="19" height="18" fill="#009cff"/>
<rect x="219" y="682" width="18" height="18" fill="#0096ff"/>
<rect x="237" y="682" width="18" height="18" fill="#0093ff"/>
<rect x="255" y="682" width="36" height="18" fill="#0099ff"/>
<rect x="291" y="682" width="18" height="18" fill="#0093ff"/>
<rect x="309" y="682" width="19" height="18" fill="#0080ff"/>
<rect x="328" y="682" width="18" height="18" fill="#006cff"/>
<rect x="346" y="682" width="18" height="18" fill="#0060ff"/>
<rect x="364" y="682" width="18" height="18" fill="#0066ff"/>
<rect x="382" y="682" width="18" height="18" fill="#0073ff"/>
<rect x="400" y="682" width="19" height="18" fill="#0079ff"/>
<rect x="419" y="682" width="18" height="18" fill="#0086ff"/>
<rect x="437" y="682" width="18" height="18" fill="#008cff"/>
<rect x="455" y="682" width="18" height="18" fill="#0080ff"/>
<rect x="473" y="682" width="18" height="18" fill="#0070ff"/>
<rect x="491" y="682" width="18" height="18" fill="#0066ff"/>
<rect x="509" y="682" width="19" height="18" fill="#0070ff"/>
<rect x="528" y="682" width="18" height="18" fill="#0080ff"/>
<rect x="546" y="682" width="18" height="18" fill="#0093ff"/>
<rect x="564" y="682" width="18" height="18" fill="#00a6ff"/>
<rect x="582" y="682" width="18" height="18" fill="#00b2ff"/>
<rect x="600" y="682" width="18" height="18" fill="#00bfff"/>
<rect x="618" y="682" width="19" height="18" fill="#00ccff"/>
<rect x="637" y="682" width="36" height="18" fill="#00d2ff"/>
<rect x="673" y="682" width="18" height="18" fill="#00c9ff"/>
<rect x="691" y="682" width="18" height="18" fill="#00b9ff"/>
<rect x="709" y="682" width="18" height="18" fill="#0080ff"/>
<rect x="727" y="682" width="19" height="18" fill="#0039ff"/>
<rect x="746" y="682" width="18" height="18" fill="#004cff"/>
<rect x="764" y="682" width="18" height="18" fill="#0066ff"/>
<rect x="782" y="682" width="18" height="18" fill="#0079ff"/>
<rect x="0" y="700" width="19" height="18" fill="#00efff"/>
<rect x="19" y="700" width="18" height="18" fill="#00f2ff"/>
<rect x="37" y="700" width="18" height="18" fill="#00f9ff"/>
<rect x="55" y="700" width="36" height="18" fill="#00ffff"/>
<rect x="91" y="700" width="73" height="18" fill="#00fcff"/>
<rect x="164" y="700" width="18" height="18" fill="#00efff"/>
<rect x="182" y="700" width="18" height="18" fill="#00dfff"/>
<rect x="200" y="700" width="19" height="18" fill="#00b9ff"/>
<rect x="219" y="700" width="18" height="18" fill="#007cff"/>
<rect x="237" y="700" width="18" height="18" fill="#0079ff"/>
<rect x="255" y="700" width="18" height="18" fill="#0080ff"/>
<rect x="273" y="700" width="36" height="18" fill="#0086ff"/>
<rect x="309" y="700" width="19" height="18" fill="#0080ff"/>
<rect x="328" y="700" width="18" height="18" fill="#0079ff"/>
<rect x="346" y="700" width="36" height="18" fill="#0073ff"/>
<rect x="382" y="700" width="18" height="18" fill="#0080ff"/>
<rect x="400" y="700" width="19" height="18" fill="#0086ff"/>
<rect x="419" y="700" width="18" height="18" fill="#0093ff"/>
<rect x="437" y="700" width="18" height="18" fill="#008cff"/>
<rect x="455" y="700" width="18" height="18" fill="#0080ff"/>
<rect x="473" y="700" width="18" height="18" fill="#0070ff"/>
<rect x="491" y="700" width="18" height="18" fill="#0066ff"/>
<rect x="509" y="700" width="19" height="18" fill="#0073ff"/>
<rect x="528" y="700" width="18" height="18" fill="#0086ff"/>
<rect x="546" y="700" width="18" height="18" fill="#0099ff"/>
<rect x="564" y="700" width="18" height="18" fill="#00acff"/>
<rect x="582" y="700" width="18" height="18" fill="#00b9ff"/>
<rect x="600" y="700" width="18" height="18" fill="#00c6ff"/>
<rect x="618" y="700" width="19" height="18" fill="#00ccff"/>
<rect x="637" y="700" width="18" height="18" fill="#00d2ff"/>
<rect x="655" y="700" width="18" height="18" fill="#00ccff"/>
<rect x="673" y="700" width="18" height="18" fill="#00b9ff"/>
<rect x="691" y="700" width="18" height="18" fill="#0093ff"/>
<rect x="709" y="700" width="18" height="18" fill="#004cff"/>
<rect x="727" y="700" width="19" height="18" fill="#0046ff"/>
<rect x="746" y="700" width="18" height="18" fill="#0059ff"/>
<rect x="764" y="700" width="18" height="18" fill="#0066ff"/>
<rect x="782" y="700" width="18" height="18" fill="#0079ff"/>
<rect x="0" y="718" width="19" height="18" fill="#00ffc6"/>
<rect x="19" y="718" width="36" height="18" fill="#00ffbf"/>
<rect x="55" y="718" width="18" height="18" fill="#00ffc6"/>
<rect x="73" y="718" width="91" height="18" fill="#00ffcc"/>
<rect x="164" y="718" width="18" height="18" fill="#00ffd9"/>
<rect x="182" y="718" width="18" height="18" fill="#00ffec"/>
<rect x="200" y="718" width="19" height="18" fill="#00fcff"/>
<rect x="219" y="718" width="18" height="18" fill="#00a6ff"/>
<rect x="237" y="718" width="18" height="18" fill="#0079ff"/>
<rect x="255" y="718" width="54" height="18" fill="#0073ff"/>
<rect x="309" y="718" width="55" height="18" fill="#006cff"/>
<rect x="364" y="718" width="18" height="18" fill="#0070ff"/>
<rect x="382" y="718" width="18" height="18" fill="#0079ff"/>
<rect x="400" y="718" width="19" height="18" fill="#0086ff"/>
<rect x="419" y="718" width="18" height="18" fill="#008cff"/>
<rect x="437" y="718" width="18" height="18" fill="#0086ff"/>
<rect x="455" y="718" width="18" height="18" fill="#0073ff"/>
<rect x="473" y="718" width="36" height="18" fill="#0066ff"/>
<rect x="509" y="718" width="19" height="18" fill="#0079ff"/>
<rect x="528" y="718" width="18" height="18" fill="#008fff"/>
<rect x="546" y="718" width="18" height="18" fill="#00a6ff"/>
<rect x="564" y="718" width="18" height="18" fill="#00b9ff"/>
<rect x="582" y="718" width="18" height="18" fill="#00c6ff"/>
<rect x="600" y="718" width="37" height="18" fill="#00d2ff"/>
<rect x="637" y="718" width="18" height="18" fill="#00ccff"/>
<rect x="655" y="718" width="18" height="18" fill="#00b9ff"/>
<rect x="673" y="718" width="18" height="18" fill="#008cff"/>
<rect x="691" y="718" width="18" height="18" fill="#0040ff"/>
<rect x="709" y="718" width="18" height="18" fill="#0033ff"/>
<rect x="727" y="718" width="19" height="18" fill="#004cff"/>
<rect x="746" y="718" width="18" height="18" fill="#0060ff"/>
<rect x="764" y="718" width="18" height="18" fill="#0066ff"/>
<rect x="782" y="718" width="18" height="18" fill="#0073ff"/>
<rect x="0" y="736" width="55" height="19" fill="#00ff26"/>
<rect x="55" y="736" width="36" height="19" fill="#00ff2d"/>
<rect x="91" y="736" width="109" height="19" fill="#00ff33"/>
<rect x="200" y="736" width="19" height="19" fill="#00ff40"/>
<rect x="219" y="736" width="18" height="19" fill="#00ff6c"/>
<rect x="237" y="736" width="18" height="19" fill="#00ffc6"/>
<rect x="255" y="736" width="18" height="19" fill="#00dcff"/>
<rect x="273" y="736" width="18" height="19" fill="#0096ff"/>
<rect x="291" y="736" width="18" height="19" fill="#0063ff"/>
<rect x="309" y="736" width="37" height="19" fill="#0059ff"/>
<rect x="346" y="736" width="18" height="19" fill="#0060ff"/>
<rect x="364" y="736" width="18" height="19" fill="#006cff"/>
<rect x="382" y="736" width="18" height="19" fill="#0079ff"/>
<rect x="400" y="736" width="19" height="19" fill="#0080ff"/>
<rect x="419" y="736" width="18" height="19" fill="#0079ff"/>
<rect x="437" y="736" width="18" height="19" fill="#0066ff"/>
<rect x="455" y="736" width="36" height="19" fill="#0059ff"/>
<rect x="491" y="736" width="18" height="19" fill="#0066ff"/>
<rect x="509" y="736" width="19" height="19" fill="#0080ff"/>
<rect x="528" y="736" width="18" height="19" fill="#0099ff"/>
<rect x="546" y="736" width="18" height="19" fill="#00b2ff"/>
<rect x="564" y="736" width="18" height="19" fill="#00ccff"/>
<rect x="582" y="736" width="18" height="19" fill="#00d9ff"/>
<rect x="600" y="736" width="18" height="19" fill="#00dfff"/>
<rect x="618" y="736" width="19" height="19" fill="#00d9ff"/>
<rect x="637" y="736" width="18" height="19" fill="#00c6ff"/>
<rect x="655" y="736" width="18" height="19" fill="#0080ff"/>
<rect x="673" y="736" width="18" height="19" fill="#0040ff"/>
<rect x="691" y="736" width="18" height="19" fill="#002dff"/>
<rect x="709" y="736" width="18" height="19" fill="#0060ff"/>
<rect x="727" y="736" width="19" height="19" fill="#0079ff"/>
<rect x="746" y="736" width="54" height="19" fill="#0080ff"/>
<rect x="0" y="755" width="19" height="17" fill="#00ff33"/>
<rect x="19" y="755" width="181" height="17" fill="#00ff39"/>
<rect x="200" y="755" width="19" height="17" fill="#00ff20"/>
<rect x="219" y="755" width="18" height="17" fill="#00ff26"/>
<rect x="237" y="755" width="18" height="17" fill="#00ff59"/>
<rect x="255" y="755" width="18" height="17" fill="#00ff99"/>
<rect x="273" y="755" width="18" height="17" fill="#00e6ff"/>
<rect x="291" y="755" width="18" height="17" fill="#0079ff"/>
<rect x="309" y="755" width="37" height="17" fill="#0059ff"/>
<rect x="346" y="755" width="18" height="17" fill="#0060ff"/>
<rect x="364" y="755" width="18" height="17" fill="#006cff"/>
<rect x="382" y="755" width="18" height="17" fill="#0080ff"/>
<rect x="400" y="755" width="19" height="17" fill="#0073ff"/>
<rect x="419" y="755" width="18" height="17" fill="#0060ff"/>
<rect x="437" y="755" width="18" height="17" fill="#0053ff"/>
<rect x="455" y="755" width="18" height="17" fill="#0059ff"/>
<rect x="473" y="755" width="18" height="17" fill="#0066ff"/>
<rect x="491" y="755" width="18" height="17" fill="#0073ff"/>
<rect x="509" y="755" width="19" height="17" fill="#008cff"/>
<rect x="528" y="755" width="18" height="17" fill="#009fff"/>
<rect x="546" y="755" width="18" height="17" fill="#00b2ff"/>
<rect x="564" y="755" width="18" height="17" fill="#00c6ff"/>
<rect x="582" y="755" width="36" height="17" fill="#00ccff"/>
<rect x="618" y="755" width="19" height="17" fill="#00b9ff"/>
<rect x="637" y="755" width="18" height="17" fill="#008cff"/>
<rect x="655" y="755" width="36" height="17" fill="#002dff"/>
<rect x="691" y="755" width="18" height="17" fill="#0059ff"/>
<rect x="709" y="755" width="18" height="17" fill="#0079ff"/>
<rect x="727" y="755" width="37" height="17" fill="#0080ff"/>
<rect x="764" y="755" width="18" height="17" fill="#0079ff"/>
<rect x="782" y="755" width="18" height="17" fill="#0073ff"/>
</g>
<clipPath id="pc"><rect x="0" y="28" width="800" height="744"/></clipPath>
<path clip-path="url(#pc)" d="M718.3 36.8L725.2 36.8M722.8 35.4L725.2 36.8L722.8 38.2M772.9 36.8L772.9 42.9M774.1 40.8L772.9 42.9L771.7 40.8M791.0 36.8L792.1 42.8M792.9 40.5L792.1 42.8L790.5 40.9M700.2 55.0L693.3 36.1M691.9 44.0L693.3 36.1L699.5 41.3M718.3 55.0L720.4 47.3M718.2 49.5L720.4 47.3L721.2 50.3M754.7 55.0L759.6 57.3M758.4 55.5L759.6 57.3L757.5 57.5M772.9 55.0L773.4 61.0M774.4 58.8L773.4 61.0L772.0 59.0M791.0 55.0L791.0 61.0M792.2 58.9L791.0 61.0L789.8 58.9M682.0 73.2L675.3 54.8M674.0 62.5L675.3 54.8L681.3 59.8M700.2 73.2L691.6 52.0M690.4 61.0L691.6 52.0L698.8 57.6M718.3 73.2L708.6 52.3M707.8 61.5L708.6 52.3L716.2 57.6M736.5 73.2L733.6 65.1M733.0 68.5L733.6 65.1L736.2 67.3M754.7 73.2L759.5 72.3M757.7 71.6L759.5 72.3L758.0 73.6M772.9 73.2L776.7 75.0M775.8 73.6L776.7 75.0L775.0 75.1M791.0 73.2L794.3 75.9M793.7 74.3L794.3 75.9L792.6 75.6M663.8 91.3L659.5 79.4M658.6 84.4L659.5 79.4L663.4 82.7M682.0 91.3L675.7 73.9M674.4 81.2L675.7 73.9L681.3 78.7M700.2 91.3L692.6 72.7M691.5 80.7L692.6 72.7L699.0 77.6M718.3 91.3L709.1 70.5M708.1 79.6L709.1 70.5L716.4 75.8M736.5 91.3L727.1 71.2M726.3 80.0L727.1 71.2L734.4 76.3M754.7 91.3L749.8 77.8M748.8 83.4L749.8 77.8L754.2 81.5M772.9 91.3L776.2 84.1M773.6 85.9L776.2 84.1L776.5 87.3M791.0 91.3L796.9 87.9M794.2 87.9L796.9 87.9L795.6 90.3M682.0 109.5L675.5 92.1M674.3 99.4L675.5 92.1L681.2 96.9M700.2 109.5L692.9 92.3M691.9 99.7L692.9 92.3L698.8 96.8M718.3 109.5L711.5 95.1M711.0 101.4L711.5 95.1L716.7 98.7M736.5 109.5L727.4 92.3M727.1 100.1L727.4 92.3L734.0 96.4M754.7 109.5L743.1 89.2M743.0 98.5L743.1 89.2L751.2 93.9M772.9 109.5L761.1 90.4M761.4 99.3L761.1 90.4L769.0 94.7M791.0 109.5L781.1 94.3M781.5 101.6L781.1 94.3L787.6 97.6M663.8 127.7L657.8 109.1M656.2 116.7L657.8 109.1L663.6 114.3M682.0 127.7L675.5 110.3M674.3 117.6L675.5 110.3L681.2 115.0M700.2 127.7L693.2 111.4M692.3 118.4L693.2 111.4L698.9 115.6M718.3 127.7L711.4 113.5M711.0 119.8L711.4 113.5L716.7 117.0M736.5 127.7L728.7 113.3M728.5 119.8L728.7 113.3L734.3 116.7M754.7 127.7L744.9 110.8M744.9 118.6L744.9 110.8L751.6 114.7M772.9 127.7L761.3 109.1M761.6 117.9L761.3 109.1L769.0 113.2M791.0 127.7L777.2 106.9M777.8 116.9L777.2 106.9L786.1 111.3M645.7 145.8L639.9 128.2M638.4 135.5L639.9 128.2L645.4 133.2M663.8 145.8L658.0 127.8M656.4 135.2L658.0 127.8L663.6 132.9M682.0 145.8L675.6 128.9M674.4 136.0L675.6 128.9L681.2 133.5M700.2 145.8L693.3 129.9M692.5 136.8L693.3 129.9L698.8 134.1M718.3 145.8L711.4 131.8M711.0 138.1L711.4 131.8L716.6 135.3M736.5 145.8L728.1 130.7M728.0 137.6L728.1 130.7L734.1 134.2M754.7 145.8L744.6 128.9M744.7 136.8L744.6 128.9L751.5 132.8M772.9 145.8L761.1 127.4M761.5 136.1L761.1 127.4L768.9 131.5M791.0 145.8L777.5 126.0M778.2 135.6L777.5 126.0L786.2 130.2M645.7 164.0L640.1 146.8M638.5 153.9L640.1 146.8L645.4 151.6M663.8 164.0L658.5 147.7M657.1 154.4L658.5 147.7L663.6 152.3M682.0 164.0L676.2 148.7M675.1 155.2L676.2 148.7L681.2 152.8M700.2 164.0L693.2 148.1M692.4 155.0L693.2 148.1L698.8 152.2M718.3 164.0L710.3 148.0M709.9 155.1L710.3 148.0L716.3 151.9M736.5 164.0L727.1 147.4M727.0 155.0L727.1 147.4L733.7 151.3M754.7 164.0L743.9 146.2M744.0 154.5L743.9 146.2L751.2 150.2M772.9 164.0L760.6 145.2M761.1 154.2L760.6 145.2L768.6 149.3M791.0 164.0L777.7 144.8M778.5 154.1L777.7 144.8L786.2 148.8M627.5 182.2L621.2 162.7M619.5 170.7L621.2 162.7L627.2 168.2M645.7 182.2L640.1 164.9M638.5 172.0L640.1 164.9L645.4 169.8M663.8 182.2L658.8 166.6M657.4 173.0L658.8 166.6L663.6 171.0M682.0 182.2L676.3 167.3M675.3 173.6L676.3 167.3L681.2 171.3M700.2 182.2L693.6 167.4M692.9 173.8L693.6 167.4L698.8 171.2M718.3 182.2L709.9 165.7M709.5 173.1L709.9 165.7L716.1 169.7M736.5 182.2L726.5 164.8M726.5 172.8L726.5 164.8L733.4 168.8M754.7 182.2L743.2 163.6M743.5 172.3L743.2 163.6L750.9 167.7M772.9 182.2L760.2 163.0M760.7 172.2L760.2 163.0L768.4 167.1M791.0 182.2L777.5 163.1M778.4 172.4L777.5 163.1L786.0 167.0M609.3 200.4L604.4 185.1M603.0 191.4L604.4 185.1L609.1 189.4M627.5 200.4L621.7 182.6M620.1 189.9L621.7 182.6L627.3 187.6M645.7 200.4L639.9 182.6M638.3 189.9L639.9 182.6L645.4 187.6M663.8 200.4L658.5 184.0M657.1 190.7L658.5 184.0L663.6 188.6M682.0 200.4L676.1 185.1M675.1 191.5L676.1 185.1L681.2 189.2M700.2 200.4L693.7 185.7M693.0 192.1L693.7 185.7L698.8 189.5M718.3 200.4L710.1 184.2M709.7 191.4L710.1 184.2L716.2 188.1M736.5 200.4L726.4 182.8M726.4 190.9L726.4 182.8L733.4 186.8M754.7 200.4L742.9 181.3M743.2 190.3L742.9 181.3L750.8 185.5M772.9 200.4L759.9 180.8M760.5 190.2L759.9 180.8L768.3 185.0M791.0 200.4L777.5 181.2M778.4 190.6L777.5 181.2L786.0 185.2M591.1 218.5L586.3 203.7M585.0 209.8L586.3 203.7L591.0 207.9M609.3 218.5L604.5 203.7M603.2 209.8L604.5 203.7L609.1 207.9M627.5 218.5L622.5 203.3M621.2 209.6L622.5 203.3L627.3 207.6M645.7 218.5L640.2 201.8M638.8 208.7L640.2 201.8L645.4 206.5M663.8 218.5L658.5 202.2M657.1 208.9L658.5 202.2L663.6 206.8M682.0 218.5L676.1 203.1M675.0 209.6L676.1 203.1L681.2 207.2M700.2 218.5L693.4 203.2M692.6 209.9L693.4 203.2L698.8 207.1M718.3 218.5L709.9 202.0M709.5 209.4L709.9 202.0L716.1 206.1M736.5 218.5L726.5 201.1M726.5 209.2L726.5 201.1L733.4 205.1M754.7 218.5L743.4 200.3M743.7 208.9L743.4 200.3L751.0 204.3M772.9 218.5L760.6 200.0M761.1 208.9L760.6 200.0L768.5 204.0M791.0 218.5L778.2 200.4M779.0 209.2L778.2 200.4L786.3 204.1M573.0 236.7L567.4 219.4M565.9 226.5L567.4 219.4L572.8 224.3M591.1 236.7L585.4 219.1M583.9 226.3L585.4 219.1L590.9 224.0M609.3 236.7L603.7 219.5M602.2 226.5L603.7 219.5L609.1 224.3M627.5 236.7L622.4 221.1M621.1 227.5L622.4 221.1L627.3 225.5M645.7 236.7L640.8 221.9M639.5 228.0L640.8 221.9L645.5 226.0M663.8 236.7L658.8 221.1M657.4 227.5L658.8 221.1L663.6 225.5M682.0 236.7L675.5 219.8M674.4 226.9L675.5 219.8L681.1 224.3M700.2 236.7L692.4 219.2M691.6 226.8L692.4 219.2L698.6 223.7M718.3 236.7L709.3 219.0M708.9 226.9L709.3 219.0L716.0 223.3M736.5 236.7L726.4 219.1M726.4 227.2L726.4 219.1L733.4 223.2M754.7 236.7L743.9 219.3M744.2 227.5L743.9 219.3L751.1 223.2M772.9 236.7L761.5 219.5M762.0 227.7L761.5 219.5L768.9 223.2M791.0 236.7L779.1 219.8M779.9 228.1L779.1 219.8L786.6 223.3M554.8 254.9L549.0 236.0M547.3 243.7L549.0 236.0L554.8 241.4M573.0 254.9L566.7 235.0M564.9 243.1L566.7 235.0L572.8 240.6M591.1 254.9L584.8 235.2M583.0 243.3L584.8 235.2L590.9 240.7M609.3 254.9L603.3 236.3M601.7 244.0L603.3 236.3L609.1 241.5M627.5 254.9L622.1 238.4M620.7 245.2L622.1 238.4L627.3 243.0M645.7 254.9L640.7 239.7M639.4 245.9L640.7 239.7L645.5 243.9M663.8 254.9L658.5 238.4M657.0 245.2L658.5 238.4L663.6 243.0M682.0 254.9L675.3 237.4M674.1 244.8L675.3 237.4L681.1 242.1M700.2 254.9L692.2 237.1M691.4 244.8L692.2 237.1L698.6 241.6M718.3 254.9L709.1 236.8M708.7 244.9L709.1 236.8L715.9 241.2M736.5 254.9L726.1 236.8M726.1 245.1L726.1 236.8L733.3 241.0M754.7 254.9L743.4 236.6M743.7 245.2L743.4 236.6L751.0 240.7M772.9 254.9L760.8 236.7M761.3 245.4L760.8 236.7L768.6 240.6M791.0 254.9L778.7 237.4M779.4 245.9L778.7 237.4L786.4 240.9M209.5 273.0L208.0 263.4M206.6 267.0L208.0 263.4L210.5 266.4M554.8 273.0L549.4 254.3M547.5 261.9L549.4 254.3L555.0 259.7M573.0 273.0L567.0 252.4M564.9 260.8L567.0 252.4L573.2 258.4M591.1 273.0L585.2 253.0M583.3 261.2L585.2 253.0L591.3 258.8M609.3 273.0L603.5 253.6M601.6 261.5L603.5 253.6L609.4 259.2M627.5 273.0L622.0 255.1M620.3 262.4L622.0 255.1L627.5 260.2M645.7 273.0L640.7 256.8M639.2 263.4L640.7 256.8L645.6 261.4M663.8 273.0L658.5 255.7M656.8 262.8L658.5 255.7L663.8 260.6M682.0 273.0L675.5 255.1M674.1 262.6L675.5 255.1L681.3 260.0M700.2 273.0L692.7 255.0M691.7 262.8L692.7 255.0L698.9 259.8M718.3 273.0L709.7 254.7M709.0 262.8L709.7 254.7L716.3 259.3M736.5 273.0L726.6 254.4M726.3 262.9L726.6 254.4L733.8 258.9M754.7 273.0L743.9 254.0M743.8 262.8L743.9 254.0L751.4 258.5M772.9 273.0L761.5 254.2M761.6 263.0L761.5 254.2L769.2 258.4M791.0 273.0L779.4 255.0M779.8 263.6L779.4 255.0L787.1 258.9M209.5 291.2L208.4 282.7M207.1 285.9L208.4 282.7L210.5 285.4M227.7 291.2L226.5 282.1M225.1 285.5L226.5 282.1L228.7 285.0M245.9 291.2L244.5 281.6M243.0 285.2L244.5 281.6L246.9 284.6M264.0 291.2L262.5 281.2M261.0 285.0L262.5 281.2L265.0 284.4M282.2 291.2L280.5 281.0M279.1 284.9L280.5 281.0L283.2 284.2M536.6 291.2L532.7 276.5M531.1 282.4L532.7 276.5L537.0 280.8M554.8 291.2L550.0 273.1M548.0 280.4L550.0 273.1L555.2 278.4M573.0 291.2L567.9 272.2M565.8 279.8L567.9 272.2L573.4 277.8M591.1 291.2L585.9 271.8M583.9 279.6L585.9 271.8L591.6 277.5M609.3 291.2L603.9 271.7M601.9 279.5L603.9 271.7L609.7 277.4M627.5 291.2L622.1 272.3M620.2 279.9L622.1 272.3L627.8 277.8M645.7 291.2L640.6 273.8M638.9 280.8L640.6 273.8L645.8 278.8M663.8 291.2L658.6 273.5M656.8 280.7L658.6 273.5L663.9 278.6M682.0 291.2L675.8 273.1M674.3 280.6L675.8 273.1L681.6 278.2M700.2 291.2L693.1 273.0M691.9 280.7L693.1 273.0L699.2 277.9M718.3 291.2L710.3 272.8M709.4 280.8L710.3 272.8L716.8 277.6M736.5 291.2L727.4 272.5M726.8 280.8L727.4 272.5L734.3 277.1M754.7 291.2L744.8 272.2M744.4 280.7L744.8 272.2L752.1 276.8M772.9 291.2L762.4 272.2M762.3 280.9L762.4 272.2L769.9 276.7M791.0 291.2L780.5 273.0M780.5 281.4L780.5 273.0L787.8 277.2M227.7 309.4L226.8 301.4M225.5 304.4L226.8 301.4L228.7 304.0M245.9 309.4L244.7 300.3M243.3 303.7L244.7 300.3L246.9 303.2M264.0 309.4L262.6 299.2M261.0 303.0L262.6 299.2L265.1 302.4M282.2 309.4L280.5 298.6M278.9 302.7L280.5 298.6L283.2 302.0M300.4 309.4L298.2 296.7M296.4 301.5L298.2 296.7L301.5 300.7M318.6 309.4L316.3 297.9M314.8 302.3L316.3 297.9L319.4 301.4M500.3 309.4L496.3 294.5M494.7 300.5L496.3 294.5L500.6 298.9M518.5 309.4L514.3 293.3M512.5 299.7L514.3 293.3L518.9 298.1M536.6 309.4L532.3 292.4M530.4 299.1L532.3 292.4L537.2 297.4M554.8 309.4L550.5 292.0M548.5 298.9L550.5 292.0L555.4 297.1M573.0 309.4L568.7 291.8M566.6 298.7L568.7 291.8L573.7 297.0M591.1 309.4L586.8 291.4M584.7 298.5L586.8 291.4L591.9 296.7M609.3 309.4L604.8 291.4M602.8 298.5L604.8 291.4L610.0 296.7M627.5 309.4L622.8 291.3M620.8 298.5L622.8 291.3L628.0 296.6M645.7 309.4L640.8 291.3M638.8 298.6L640.8 291.3L646.1 296.6M663.8 309.4L658.7 291.4M656.9 298.6L658.7 291.4L664.1 296.6M682.0 309.4L676.2 291.4M674.6 298.8L676.2 291.4L681.8 296.5M700.2 309.4L693.7 291.4M692.3 298.9L693.7 291.4L699.5 296.3M718.3 309.4L711.1 291.3M710.0 299.0L711.1 291.3L717.2 296.1M736.5 309.4L728.3 291.0M727.5 299.0L728.3 291.0L734.8 295.8M754.7 309.4L745.9 290.7M745.2 298.9L745.9 290.7L752.7 295.4M772.9 309.4L763.7 290.9M763.2 299.1L763.7 290.9L770.6 295.4M791.0 309.4L781.7 291.6M781.4 299.6L781.7 291.6L788.5 295.9M264.0 327.6L262.8 317.9M261.3 321.5L262.8 317.9L265.1 321.0M282.2 327.6L280.7 317.5M279.2 321.3L280.7 317.5L283.2 320.7M300.4 327.6L298.4 316.0M296.8 320.4L298.4 316.0L301.4 319.6M318.6 327.6L316.3 316.1M314.8 320.5L316.3 316.1L319.4 319.6M336.7 327.6L334.5 317.5M333.3 321.4L334.5 317.5L337.3 320.5M354.9 327.6L352.5 317.7M351.4 321.6L352.5 317.7L355.3 320.6M373.1 327.6L370.4 317.6M369.3 321.6L370.4 317.6L373.3 320.5M391.2 327.6L388.3 317.2M387.3 321.4L388.3 317.2L391.4 320.2M409.4 327.6L406.1 316.3M405.0 320.9L406.1 316.3L409.5 319.6M427.6 327.6L424.1 316.4M423.1 320.9L424.1 316.4L427.6 319.6M445.8 327.6L442.0 315.9M440.9 320.7L442.0 315.9L445.6 319.2M463.9 327.6L460.0 314.7M458.8 319.9L460.0 314.7L463.9 318.4M482.1 327.6L478.1 313.5M476.7 319.2L478.1 313.5L482.3 317.6M500.3 327.6L496.2 312.3M494.6 318.4L496.2 312.3L500.7 316.8M518.5 327.6L514.3 310.7M512.3 317.4L514.3 310.7L519.1 315.7M536.6 327.6L532.4 309.9M530.3 316.9L532.4 309.9L537.4 315.2M554.8 327.6L550.8 310.5M548.8 317.2L550.8 310.5L555.6 315.6M573.0 327.6L569.2 310.6M567.1 317.2L569.2 310.6L573.9 315.7M591.1 327.6L587.8 311.7M585.8 317.9L587.8 311.7L592.1 316.5M609.3 327.6L605.8 312.0M603.9 318.1L605.8 312.0L610.1 316.7M627.5 327.6L623.6 311.4M621.7 317.8L623.6 311.4L628.2 316.3M645.7 327.6L641.3 310.5M639.4 317.3L641.3 310.5L646.2 315.6M663.8 327.6L659.2 310.4M657.4 317.3L659.2 310.4L664.3 315.4M682.0 327.6L676.8 310.2M675.1 317.3L676.8 310.2L682.1 315.2M700.2 327.6L694.3 310.0M692.8 317.3L694.3 310.0L699.8 314.9M718.3 327.6L711.8 309.8M710.5 317.3L711.8 309.8L717.6 314.7M736.5 327.6L729.3 309.7M728.2 317.3L729.3 309.7L735.4 314.4M754.7 327.6L747.1 309.6M746.1 317.3L747.1 309.6L753.3 314.3M772.9 327.6L765.0 309.9M764.2 317.6L765.0 309.9L771.3 314.5M791.0 327.6L783.1 310.6M782.5 318.1L783.1 310.6L789.3 314.9M300.4 345.7L298.8 333.6M296.9 338.1L298.8 333.6L301.8 337.4M318.6 345.7L316.8 334.2M315.1 338.5L316.8 334.2L319.7 337.8M336.7 345.7L334.8 335.0M333.3 339.1L334.8 335.0L337.6 338.3M354.9 345.7L352.8 335.0M351.4 339.2L352.8 335.0L355.7 338.3M373.1 345.7L370.7 335.1M369.4 339.2L370.7 335.1L373.7 338.3M391.2 345.7L388.6 334.7M387.3 339.1L388.6 334.7L391.7 338.0M409.4 345.7L406.4 333.8M405.1 338.6L406.4 333.8L409.8 337.3M427.6 345.7L424.4 333.9M423.1 338.6L424.4 333.9L427.9 337.3M445.8 345.7L442.3 333.7M441.1 338.6L442.3 333.7L445.9 337.2M463.9 345.7L460.5 332.7M459.1 337.9L460.5 332.7L464.3 336.5M482.1 345.7L478.6 331.5M477.0 337.2L478.6 331.5L482.6 335.7M500.3 345.7L496.7 330.3M494.9 336.4L496.7 330.3L501.0 335.0M518.5 345.7L515.0 329.7M513.0 335.9L515.0 329.7L519.4 334.6M536.6 345.7L533.3 329.5M531.2 335.8L533.3 329.5L537.7 334.5M554.8 345.7L551.6 329.5M549.5 335.7L551.6 329.5L556.0 334.5M573.0 345.7L569.9 329.4M567.7 335.7L569.9 329.4L574.2 334.5M591.1 345.7L588.2 329.6M586.0 335.8L588.2 329.6L592.5 334.6M609.3 345.7L606.2 329.6M604.1 335.8L606.2 329.6L610.5 334.6M627.5 345.7L624.2 329.5M622.1 335.8L624.2 329.5L628.6 334.5M645.7 345.7L642.1 329.3M640.1 335.7L642.1 329.3L646.6 334.3M663.8 345.7L660.1 329.2M658.1 335.7L660.1 329.2L664.7 334.2M682.0 345.7L677.7 328.9M675.8 335.6L677.7 328.9L682.6 333.9M700.2 345.7L695.3 328.7M693.6 335.5L695.3 328.7L700.4 333.6M718.3 345.7L712.9 328.4M711.3 335.5L712.9 328.4L718.3 333.3M736.5 345.7L730.5 328.4M729.1 335.6L730.5 328.4L736.1 333.2M754.7 345.7L748.5 328.5M747.2 335.7L748.5 328.5L754.1 333.2M772.9 345.7L766.5 329.0M765.3 336.0L766.5 329.0L772.1 333.5M791.0 345.7L784.6 329.4M783.5 336.4L784.6 329.4L790.1 333.8M300.4 363.9L299.3 351.7M297.2 356.1L299.3 351.7L302.1 355.7M318.6 363.9L317.2 351.9M315.3 356.3L317.2 351.9L320.1 355.8M336.7 363.9L335.2 351.9M333.3 356.4L335.2 351.9L338.1 355.8M354.9 363.9L353.1 352.0M351.3 356.5L353.1 352.0L356.1 355.7M373.1 363.9L370.9 351.6M369.2 356.3L370.9 351.6L374.1 355.4M391.2 363.9L388.8 351.3M387.1 356.1L388.8 351.3L392.2 355.2M409.4 363.9L406.6 350.7M405.0 355.9L406.6 350.7L410.2 354.7M427.6 363.9L424.5 350.6M422.9 355.8L424.5 350.6L428.2 354.6M445.8 363.9L442.4 350.3M440.8 355.7L442.4 350.3L446.3 354.3M463.9 363.9L460.6 349.7M458.9 355.2L460.6 349.7L464.6 353.9M482.1 363.9L478.9 349.0M477.1 354.8L478.9 349.0L483.0 353.5M500.3 363.9L497.3 348.6M495.3 354.5L497.3 348.6L501.4 353.3M518.5 363.9L515.7 348.2M513.5 354.2L515.7 348.2L519.8 353.1M536.6 363.9L533.9 347.9M531.7 354.0L533.9 347.9L538.0 352.9M554.8 363.9L552.2 347.9M549.9 354.0L552.2 347.9L556.3 352.9M573.0 363.9L570.5 347.9M568.1 353.9L570.5 347.9L574.5 353.0M591.1 363.9L588.7 347.9M586.4 353.9L588.7 347.9L592.8 353.0M609.3 363.9L606.8 348.1M604.5 354.1L606.8 348.1L610.8 353.1M627.5 363.9L624.8 347.9M622.5 354.0L624.8 347.9L628.9 352.9M645.7 363.9L642.8 347.8M640.6 353.9L642.8 347.8L647.0 352.8M663.8 363.9L660.8 347.6M658.6 353.9L660.8 347.6L665.1 352.6M682.0 363.9L678.6 347.5M676.5 353.9L678.6 347.5L683.0 352.5M700.2 363.9L696.2 347.2M694.3 353.8L696.2 347.2L700.9 352.2M718.3 363.9L714.0 347.1M712.1 353.8L714.0 347.1L718.8 352.1M736.5 363.9L731.7 347.2M730.1 354.0L731.7 347.2L736.7 352.0M754.7 363.9L749.7 347.5M748.2 354.2L749.7 347.5L754.7 352.2M772.9 363.9L767.8 347.9M766.4 354.5L767.8 347.9L772.8 352.4M791.0 363.9L785.9 348.3M784.6 354.8L785.9 348.3L790.8 352.7M282.2 382.1L281.9 372.9M280.2 376.2L281.9 372.9L283.8 376.0M300.4 382.1L299.9 370.4M297.7 374.5L299.9 370.4L302.4 374.3M318.6 382.1L317.7 369.6M315.5 374.1L317.7 369.6L320.5 373.8M336.7 382.1L335.6 369.3M333.4 373.9L335.6 369.3L338.6 373.5M354.9 382.1L353.5 368.9M351.3 373.7L353.5 368.9L356.6 373.2M373.1 382.1L371.3 368.3M369.2 373.5L371.3 368.3L374.6 372.7M391.2 382.1L389.1 367.8M387.0 373.2L389.1 367.8L392.7 372.3M409.4 382.1L407.0 367.9M405.0 373.3L407.0 367.9L410.7 372.3M427.6 382.1L424.8 367.7M422.9 373.2L424.8 367.7L428.7 372.1M445.8 382.1L442.7 367.8M440.9 373.3L442.7 367.8L446.6 372.1M463.9 382.1L461.0 367.1M459.1 372.9L461.0 367.1L465.0 371.7M482.1 382.1L479.4 366.7M477.3 372.6L479.4 366.7L483.4 371.5M500.3 382.1L497.8 366.7M495.6 372.5L497.8 366.7L501.8 371.5M518.5 382.1L516.3 366.6M513.9 372.4L516.3 366.6L520.1 371.5M536.6 382.1L534.5 366.6M532.2 372.4L534.5 366.6L538.4 371.6M554.8 382.1L552.8 366.4M550.3 372.2L552.8 366.4L556.6 371.4M573.0 382.1L571.0 366.4M568.6 372.2L571.0 366.4L574.8 371.4M591.1 382.1L589.3 366.4M586.8 372.2L589.3 366.4L593.1 371.5M609.3 382.1L607.4 366.4M604.9 372.2L607.4 366.4L611.2 371.4M627.5 382.1L625.4 366.2M622.9 372.1L625.4 366.2L629.3 371.3M645.7 382.1L643.4 366.0M641.0 372.0L643.4 366.0L647.4 371.2M663.8 382.1L661.5 366.1M659.1 372.1L661.5 366.1L665.5 371.1M682.0 382.1L679.3 365.9M677.0 372.0L679.3 365.9L683.5 371.0M700.2 382.1L697.2 366.0M695.0 372.2L697.2 366.0L701.4 370.9M718.3 382.1L715.0 366.0M712.9 372.3L715.0 366.0L719.4 370.9M736.5 382.1L732.9 366.3M731.0 372.5L732.9 366.3L737.3 371.0M754.7 382.1L750.9 366.5M749.1 372.7L750.9 366.5L755.3 371.2M772.9 382.1L769.0 367.0M767.3 373.0L769.0 367.0L773.4 371.4M791.0 382.1L787.1 367.4M785.5 373.2L787.1 367.4L791.4 371.7M282.2 400.2L282.2 391.7M280.5 394.6L282.2 391.7L283.9 394.6M300.4 400.2L300.4 390.1M298.4 393.6L300.4 390.1L302.4 393.6M318.6 400.2L318.3 389.3M316.2 393.2L318.3 389.3L320.6 393.1M336.7 400.2L336.2 388.6M334.1 392.7L336.2 388.6L338.7 392.5M354.9 400.2L354.1 388.2M352.0 392.5L354.1 388.2L356.8 392.2M373.1 400.2L372.0 387.6M369.8 392.2L372.0 387.6L374.9 391.8M391.2 400.2L389.8 387.1M387.7 391.9L389.8 387.1L392.9 391.3M409.4 400.2L407.7 387.3M405.7 392.1L407.7 387.3L410.9 391.4M427.6 400.2L425.5 386.8M423.5 391.8L425.5 386.8L428.9 391.0M445.8 400.2L443.3 386.4M441.4 391.7L443.3 386.4L446.9 390.7M463.9 400.2L461.6 385.8M459.6 391.3L461.6 385.8L465.3 390.3M482.1 400.2L480.0 385.4M477.8 390.9L480.0 385.4L483.7 390.1M500.3 400.2L498.5 385.3M496.1 390.9L498.5 385.3L502.1 390.1M518.5 400.2L516.9 385.3M514.4 390.8L516.9 385.3L520.4 390.2M536.6 400.2L535.1 385.3M532.7 390.8L535.1 385.3L538.6 390.2M554.8 400.2L553.4 385.3M550.9 390.8L553.4 385.3L556.8 390.2M573.0 400.2L571.6 385.1M569.0 390.6L571.6 385.1L575.1 390.1M591.1 400.2L589.8 385.1M587.2 390.6L589.8 385.1L593.3 390.1M609.3 400.2L607.9 385.1M605.4 390.6L607.9 385.1L611.4 390.1M627.5 400.2L626.0 384.9M623.5 390.5L626.0 384.9L629.6 389.9M645.7 400.2L644.1 384.7M641.5 390.4L644.1 384.7L647.7 389.8M663.8 400.2L662.2 384.7M659.7 390.4L662.2 384.7L665.9 389.8M682.0 400.2L680.1 384.8M677.7 390.5L680.1 384.8L683.9 389.7M700.2 400.2L698.0 385.0M695.7 390.7L698.0 385.0L701.8 389.8M718.3 400.2L716.0 385.2M713.8 390.9L716.0 385.2L719.8 390.0M736.5 400.2L733.9 385.7M731.9 391.2L733.9 385.7L737.8 390.2M754.7 400.2L752.0 385.9M750.1 391.4L752.0 385.9L755.8 390.3M772.9 400.2L770.1 386.3M768.3 391.7L770.1 386.3L773.9 390.6M791.0 400.2L788.2 386.5M786.5 391.8L788.2 386.5L792.0 390.7M300.4 418.4L300.8 409.8M298.9 412.7L300.8 409.8L302.3 412.9M318.6 418.4L318.8 409.3M316.9 412.4L318.8 409.3L320.5 412.5M336.7 418.4L336.7 408.7M334.8 412.0L336.7 408.7L338.7 412.0M354.9 418.4L354.7 408.1M352.7 411.7L354.7 408.1L356.8 411.6M373.1 418.4L372.6 407.5M370.6 411.4L372.6 407.5L374.9 411.2M391.2 418.4L390.5 406.9M388.5 411.1L390.5 406.9L393.1 410.8M409.4 418.4L408.4 406.8M406.4 411.0L408.4 406.8L411.1 410.6M427.6 418.4L426.3 406.2M424.3 410.7L426.3 406.2L429.2 410.2M445.8 418.4L444.1 405.7M442.1 410.4L444.1 405.7L447.2 409.7M463.9 418.4L462.3 404.9M460.2 409.9L462.3 404.9L465.6 409.2M482.1 418.4L480.6 404.1M478.3 409.3L480.6 404.1L484.0 408.7M500.3 418.4L498.9 403.9M496.5 409.2L498.9 403.9L502.3 408.6M518.5 418.4L517.3 403.8M514.8 409.1L517.3 403.8L520.6 408.7M536.6 418.4L535.5 403.8M533.0 409.1L535.5 403.8L538.8 408.7M554.8 418.4L553.7 403.8M551.2 409.1L553.7 403.8L557.0 408.7M573.0 418.4L572.0 403.8M569.4 409.1L572.0 403.8L575.2 408.7M591.1 418.4L590.2 404.0M587.6 409.2L590.2 404.0L593.4 408.8M609.3 418.4L608.3 404.0M605.8 409.2L608.3 404.0L611.5 408.8M627.5 418.4L626.4 404.0M623.9 409.2L626.4 404.0L629.6 408.8M645.7 418.4L644.5 404.0M642.0 409.3L644.5 404.0L647.8 408.8M663.8 418.4L662.6 404.0M660.1 409.3L662.6 404.0L665.9 408.8M682.0 418.4L680.6 404.3M678.2 409.4L680.6 404.3L683.9 408.9M700.2 418.4L698.6 404.7M696.4 409.7L698.6 404.7L701.9 409.1M718.3 418.4L716.6 404.9M714.5 409.9L716.6 404.9L719.9 409.2M736.5 418.4L734.7 405.3M732.7 410.2L734.7 405.3L737.9 409.5M754.7 418.4L752.8 405.5M750.9 410.4L752.8 405.5L756.0 409.6M772.9 418.4L770.9 405.7M769.0 410.5L770.9 405.7L774.1 409.7M791.0 418.4L789.0 405.7M787.2 410.5L789.0 405.7L792.2 409.7M336.7 436.6L337.2 426.8M335.1 430.1L337.2 426.8L339.0 430.3M354.9 436.6L355.1 426.8M353.1 430.2L355.1 426.8L357.0 430.3M373.1 436.6L373.1 426.5M371.0 430.0L373.1 426.5L375.1 430.0M391.2 436.6L391.0 426.1M389.0 429.8L391.0 426.1L393.2 429.7M409.4 436.6L408.9 425.7M406.9 429.6L408.9 425.7L411.3 429.4M427.6 436.6L426.9 425.3M424.9 429.4L426.9 425.3L429.4 429.1M445.8 436.6L444.7 424.9M442.8 429.2L444.7 424.9L447.4 428.8M463.9 436.6L463.0 424.5M460.9 428.9L463.0 424.5L465.7 428.5M482.1 436.6L481.2 424.1M479.0 428.6L481.2 424.1L484.0 428.3M500.3 436.6L499.5 423.7M497.2 428.4L499.5 423.7L502.3 428.0M518.5 436.6L517.8 423.5M515.4 428.2L517.8 423.5L520.6 427.9M536.6 436.6L536.0 423.3M533.5 428.1L536.0 423.3L538.8 427.8M554.8 436.6L554.2 423.2M551.7 427.9L554.2 423.2L557.1 427.7M573.0 436.6L572.3 423.0M569.8 427.8L572.3 423.0L575.3 427.6M591.1 436.6L590.5 423.0M588.0 427.8L590.5 423.0L593.5 427.6M609.3 436.6L608.6 423.0M606.1 427.8L608.6 423.0L611.6 427.5M627.5 436.6L626.7 423.0M624.3 427.8L626.7 423.0L629.7 427.5M645.7 436.6L644.8 423.0M642.4 427.9L644.8 423.0L647.8 427.5M663.8 436.6L662.9 423.0M660.5 427.9L662.9 423.0L665.9 427.5M682.0 436.6L680.9 423.2M678.6 428.0L680.9 423.2L684.0 427.6M700.2 436.6L699.0 423.4M696.8 428.2L699.0 423.4L702.1 427.7M718.3 436.6L717.1 423.6M714.9 428.3L717.1 423.6L720.1 427.8M736.5 436.6L735.2 423.8M733.1 428.5L735.2 423.8L738.2 428.0M754.7 436.6L753.3 424.0M751.3 428.6L753.3 424.0L756.3 428.1M772.9 436.6L771.4 424.0M769.4 428.6L771.4 424.0L774.4 428.1M791.0 436.6L789.5 424.0M787.5 428.7L789.5 424.0L792.6 428.1M336.7 454.8L337.6 445.0M335.3 448.2L337.6 445.0L339.2 448.6M354.9 454.8L355.5 445.0M353.4 448.3L355.5 445.0L357.3 448.5M373.1 454.8L373.5 445.0M371.4 448.3L373.5 445.0L375.3 448.5M391.2 454.8L391.5 445.0M389.4 448.3L391.5 445.0L393.3 448.4M409.4 454.8L409.4 444.6M407.4 448.1L409.4 444.6L411.4 448.1M427.6 454.8L427.4 444.2M425.3 447.9L427.4 444.2L429.5 447.8M445.8 454.8L445.3 443.9M443.3 447.7L445.3 443.9L447.6 447.5M463.9 454.8L463.5 443.5M461.4 447.5L463.5 443.5L465.9 447.3M482.1 454.8L481.7 443.1M479.5 447.2L481.7 443.1L484.2 447.0M500.3 454.8L499.9 442.7M497.6 446.9L499.9 442.7L502.5 446.8M518.5 454.8L518.1 442.5M515.8 446.8L518.1 442.5L520.7 446.7M536.6 454.8L536.3 442.1M533.9 446.5L536.3 442.1L539.0 446.4M554.8 454.8L554.5 441.7M552.0 446.3L554.5 441.7L557.2 446.2M573.0 454.8L572.7 441.3M570.1 446.0L572.7 441.3L575.5 445.9M591.1 454.8L590.8 441.1M588.2 445.9L590.8 441.1L593.7 445.8M609.3 454.8L608.9 440.7M606.2 445.7L608.9 440.7L611.8 445.5M627.5 454.8L627.0 440.5M624.3 445.6L627.0 440.5L630.0 445.4M645.7 454.8L645.0 440.3M642.4 445.5L645.0 440.3L648.1 445.2M663.8 454.8L663.1 440.4M660.5 445.5L663.1 440.4L666.2 445.2M682.0 454.8L681.2 440.5M678.6 445.6L681.2 440.5L684.3 445.3M700.2 454.8L699.3 440.9M696.9 445.9L699.3 440.9L702.4 445.6M718.3 454.8L717.5 441.3M715.1 446.2L717.5 441.3L720.5 445.8M736.5 454.8L735.6 441.9M733.4 446.6L735.6 441.9L738.5 446.2M754.7 454.8L753.8 442.3M751.6 446.8L753.8 442.3L756.6 446.4M772.9 454.8L772.0 442.5M769.8 446.9L772.0 442.5L774.7 446.6M791.0 454.8L790.1 442.5M788.0 446.9L790.1 442.5L792.9 446.6M336.7 472.9L338.0 463.3M335.6 466.4L338.0 463.3L339.5 466.9M354.9 472.9L355.9 463.6M353.7 466.6L355.9 463.6L357.4 467.1M373.1 472.9L373.8 464.2M371.8 467.1L373.8 464.2L375.3 467.4M391.2 472.9L391.8 464.2M389.9 467.1L391.8 464.2L393.4 467.3M409.4 472.9L409.8 463.6M407.8 466.7L409.8 463.6L411.6 466.9M427.6 472.9L427.8 463.2M425.8 466.5L427.8 463.2L429.7 466.6M445.8 472.9L445.8 462.8M443.7 466.3L445.8 462.8L447.8 466.3M463.9 472.9L463.9 462.2M461.8 465.9L463.9 462.2L466.1 465.9M482.1 472.9L482.1 461.8M479.9 465.7L482.1 461.8L484.3 465.7M500.3 472.9L500.3 461.4M498.0 465.4L500.3 461.4L502.6 465.4M518.5 472.9L518.5 461.2M516.1 465.3L518.5 461.2L520.8 465.3M536.6 472.9L536.6 460.8M534.2 465.0L536.6 460.8L539.0 465.0M554.8 472.9L554.8 460.3M552.3 464.6L554.8 460.3L557.3 464.6M573.0 472.9L573.0 459.9M570.4 464.4L573.0 459.9L575.6 464.4M591.1 472.9L591.1 459.5M588.4 464.1L591.1 459.5L593.8 464.1M609.3 472.9L609.2 458.9M606.4 463.8L609.2 458.9L612.0 463.7M627.5 472.9L627.2 458.5M624.4 463.6L627.2 458.5L630.2 463.5M645.7 472.9L645.3 457.9M642.4 463.2L645.3 457.9L648.4 463.0M663.8 472.9L663.3 457.7M660.4 463.1L663.3 457.7L666.5 462.9M682.0 472.9L681.5 457.9M678.7 463.2L681.5 457.9L684.7 463.0M700.2 472.9L699.7 458.3M696.9 463.5L699.7 458.3L702.8 463.3M718.3 472.9L717.9 459.1M715.3 464.0L717.9 459.1L720.8 463.8M736.5 472.9L736.1 460.3M733.7 464.7L736.1 460.3L738.8 464.6M754.7 472.9L754.3 460.9M752.0 465.1L754.3 460.9L756.8 465.0M772.9 472.9L772.5 461.2M770.3 465.4L772.5 461.2L774.9 465.2M791.0 472.9L790.6 461.2M788.4 465.4L790.6 461.2L793.1 465.2M318.6 491.1L321.3 481.7M318.4 484.4L321.3 481.7L322.2 485.5M336.7 491.1L338.9 482.2M336.4 484.9L338.9 482.2L339.9 485.7M354.9 491.1L356.6 482.7M354.3 485.3L356.6 482.7L357.7 485.9M373.1 491.1L374.3 483.4M372.3 485.8L374.3 483.4L375.4 486.3M391.2 491.1L392.3 483.4M390.4 485.8L392.3 483.4L393.5 486.3M409.4 491.1L410.4 482.6M408.3 485.3L410.4 482.6L411.7 485.7M427.6 491.1L428.4 482.2M426.3 485.1L428.4 482.2L429.9 485.4M445.8 491.1L446.4 481.8M444.3 484.9L446.4 481.8L448.0 485.1M463.9 491.1L464.6 481.2M462.4 484.5L464.6 481.2L466.3 484.7M482.1 491.1L482.7 480.8M480.4 484.2L482.7 480.8L484.6 484.5M500.3 491.1L500.9 480.6M498.6 484.1L500.9 480.6L502.8 484.4M518.5 491.1L519.0 480.6M516.7 484.1L519.0 480.6L520.9 484.3M536.6 491.1L537.1 480.4M534.8 484.0L537.1 480.4L539.1 484.2M554.8 491.1L555.1 479.6M552.7 483.5L555.1 479.6L557.3 483.7M573.0 491.1L573.2 479.0M570.7 483.2L573.2 479.0L575.5 483.3M591.1 491.1L591.3 478.4M588.7 482.8L591.3 478.4L593.7 482.8M609.3 491.1L609.2 477.5M606.5 482.2L609.2 477.5L612.0 482.2M627.5 491.1L627.2 476.9M624.5 481.9L627.2 476.9L630.1 481.7M645.7 491.1L645.1 476.1M642.3 481.4L645.1 476.1L648.3 481.2M663.8 491.1L663.1 475.3M660.2 480.9L663.1 475.3L666.5 480.6M682.0 491.1L681.3 475.5M678.4 481.1L681.3 475.5L684.7 480.8M700.2 491.1L699.6 476.1M696.8 481.4L699.6 476.1L702.8 481.2M718.3 491.1L717.9 477.3M715.3 482.1L717.9 477.3L720.8 482.0M736.5 491.1L736.2 479.4M734.0 483.5L736.2 479.4L738.7 483.4M754.7 491.1L754.4 480.6M752.4 484.3L754.4 480.6L756.6 484.2M772.9 491.1L772.6 481.0M770.7 484.5L772.6 481.0L774.7 484.4M791.0 491.1L790.8 480.6M788.7 484.3L790.8 480.6L793.0 484.2M300.4 509.3L304.6 501.1M301.5 503.1L304.6 501.1L304.8 504.8M318.6 509.3L322.2 500.9M319.3 503.1L322.2 500.9L322.6 504.5M336.7 509.3L339.7 501.0M337.0 503.3L339.7 501.0L340.3 504.5M354.9 509.3L357.2 501.4M354.8 503.7L357.2 501.4L358.0 504.6M373.1 509.3L374.7 502.0M372.7 504.2L374.7 502.0L375.6 504.9M391.2 509.3L392.7 502.0M390.7 504.2L392.7 502.0L393.6 504.8M409.4 509.3L410.8 501.4M408.8 503.9L410.8 501.4L411.9 504.4M427.6 509.3L428.9 501.0M426.8 503.6L428.9 501.0L430.1 504.1M445.8 509.3L446.9 500.6M444.8 503.4L446.9 500.6L448.3 503.8M463.9 509.3L465.1 500.0M462.8 503.0L465.1 500.0L466.6 503.4M482.1 509.3L483.3 499.6M480.9 502.7L483.3 499.6L484.8 503.2M500.3 509.3L501.4 499.4M499.0 502.6L501.4 499.4L503.0 503.0M518.5 509.3L519.5 499.4M517.2 502.6L519.5 499.4L521.1 503.0M536.6 509.3L537.5 499.0M535.1 502.4L537.5 499.0L539.2 502.7M554.8 509.3L555.5 498.4M553.1 502.0L555.5 498.4L557.4 502.3M573.0 509.3L573.4 497.8M571.0 501.7L573.4 497.8L575.6 501.9M591.1 509.3L591.4 497.2M588.9 501.3L591.4 497.2L593.7 501.4M609.3 509.3L609.3 496.0M606.6 500.6L609.3 496.0L611.9 500.6M627.5 509.3L627.2 495.4M624.5 500.3L627.2 495.4L630.1 500.2M645.7 509.3L645.0 494.7M642.3 499.8L645.0 494.7L648.2 499.6M663.8 509.3L662.9 493.3M660.0 499.0L662.9 493.3L666.4 498.7M682.0 509.3L681.2 493.3M678.3 499.0L681.2 493.3L684.7 498.7M700.2 509.3L699.6 494.1M696.7 499.5L699.6 494.1L702.8 499.2M718.3 509.3L718.0 496.0M715.4 500.7L718.0 496.0L720.7 500.5M736.5 509.3L736.3 499.5M734.5 502.9L736.3 499.5L738.4 502.9M754.7 509.3L754.5 501.1M753.0 504.0L754.5 501.1L756.2 503.9M772.9 509.3L772.7 501.5M771.2 504.2L772.7 501.5L774.3 504.2M791.0 509.3L790.9 500.3M789.1 503.4L790.9 500.3L792.7 503.4M282.2 527.5L287.3 521.3M284.3 522.4L287.3 521.3L286.8 524.4M300.4 527.5L305.5 520.5M302.3 521.9L305.5 520.5L305.1 524.0M318.6 527.5L323.1 520.0M320.0 521.6L323.1 520.0L323.0 523.5M336.7 527.5L340.4 519.9M337.6 521.8L340.4 519.9L340.7 523.3M354.9 527.5L357.7 520.2M355.3 522.1L357.7 520.2L358.2 523.3M373.1 527.5L375.0 520.7M373.0 522.7L375.0 520.7L375.7 523.4M391.2 527.5L393.0 520.9M391.1 522.8L393.0 520.9L393.7 523.5M409.4 527.5L411.2 520.1M409.1 522.3L411.2 520.1L412.1 523.0M427.6 527.5L429.3 519.6M427.2 522.0L429.3 519.6L430.3 522.7M445.8 527.5L447.4 519.2M445.2 521.7L447.4 519.2L448.5 522.4M463.9 527.5L465.6 518.6M463.3 521.4L465.6 518.6L466.8 522.0M482.1 527.5L483.8 518.2M481.3 521.1L483.8 518.2L485.0 521.8M500.3 527.5L501.9 517.8M499.4 520.8L501.9 517.8L503.3 521.5M518.5 527.5L520.0 517.6M517.5 520.7L520.0 517.6L521.4 521.3M536.6 527.5L537.9 517.2M535.4 520.5L537.9 517.2L539.5 521.0M554.8 527.5L555.8 516.6M553.3 520.1L555.8 516.6L557.6 520.5M573.0 527.5L573.6 516.2M571.1 519.9L573.6 516.2L575.7 520.2M591.1 527.5L591.4 515.8M589.0 519.7L591.4 515.8L593.7 519.9M609.3 527.5L609.3 514.6M606.7 519.0L609.3 514.6L611.9 519.0M627.5 527.5L627.2 514.0M624.6 518.7L627.2 514.0L630.0 518.6M645.7 527.5L644.9 513.0M642.3 518.2L644.9 513.0L648.1 517.9M663.8 527.5L662.7 511.7M659.9 517.4L662.7 511.7L666.2 516.9M682.0 527.5L681.0 510.7M678.0 516.7L681.0 510.7L684.7 516.3M700.2 527.5L699.5 511.9M696.6 517.4L699.5 511.9L702.9 517.1M718.3 527.5L718.0 514.2M715.5 518.9L718.0 514.2L720.8 518.7M736.5 527.5L736.4 518.5M734.7 521.6L736.4 518.5L738.3 521.6M754.7 527.5L754.6 521.2M753.4 523.4L754.6 521.2L755.9 523.4M772.9 527.5L772.8 521.6M771.7 523.6L772.8 521.6L774.0 523.6M791.0 527.5L791.0 519.7M789.4 522.4L791.0 519.7L792.5 522.3M264.0 545.6L270.2 540.5M267.0 541.0L270.2 540.5L269.1 543.5M282.2 545.6L288.7 539.7M285.3 540.5L288.7 539.7L287.6 543.0M300.4 545.6L306.9 539.1M303.3 540.1L306.9 539.1L305.9 542.7M318.6 545.6L324.2 538.6M320.8 539.9L324.2 538.6L323.6 542.2M336.7 545.6L341.1 538.7M338.2 540.2L341.1 538.7L341.0 542.0M354.9 545.6L358.3 538.8M355.7 540.5L358.3 538.8L358.5 541.8M373.1 545.6L375.4 539.2M373.3 541.0L375.4 539.2L375.9 541.9M391.2 545.6L393.4 539.3M391.4 541.1L393.4 539.3L393.9 541.9M409.4 545.6L411.5 538.9M409.5 540.8L411.5 538.9L412.1 541.7M427.6 545.6L429.7 538.5M427.5 540.6L429.7 538.5L430.4 541.4M445.8 545.6L447.8 537.9M445.6 540.2L447.8 537.9L448.7 541.0M463.9 545.6L466.0 537.3M463.7 539.8L466.0 537.3L467.0 540.6M482.1 545.6L484.2 536.7M481.7 539.4L484.2 536.7L485.3 540.2M500.3 545.6L502.4 536.3M499.8 539.1L502.4 536.3L503.5 540.0M518.5 545.6L520.5 535.9M517.9 538.9L520.5 535.9L521.7 539.7M536.6 545.6L538.3 535.4M535.7 538.6L538.3 535.4L539.8 539.3M554.8 545.6L556.1 535.0M553.5 538.4L556.1 535.0L557.8 538.9M573.0 545.6L573.8 534.5M571.3 538.2L573.8 534.5L575.8 538.6M591.1 545.6L591.5 534.1M589.1 538.0L591.5 534.1L593.7 538.2M609.3 545.6L609.4 533.1M606.9 537.5L609.4 533.1L611.8 537.5M627.5 545.6L627.1 532.8M624.7 537.3L627.1 532.8L629.8 537.1M645.7 545.6L644.9 532.0M642.4 536.9L644.9 532.0L647.9 536.6M663.8 545.6L662.5 530.5M659.9 536.0L662.5 530.5L666.0 535.5M682.0 545.6L680.9 528.9M677.9 534.9L680.9 528.9L684.6 534.5M700.2 545.6L699.5 529.5M696.5 535.2L699.5 529.5L702.9 534.9M718.3 545.6L718.0 532.0M715.4 536.8L718.0 532.0L720.9 536.6M736.5 545.6L736.5 536.7M734.7 539.8L736.5 536.7L738.3 539.8M754.7 545.6L754.7 540.6M753.7 542.3L754.7 540.6L755.7 542.3M772.9 545.6L772.9 540.9M771.9 542.6L772.9 540.9L773.8 542.6M791.0 545.6L791.0 539.0M789.7 541.3L791.0 539.0L792.4 541.3M245.9 563.8L254.8 557.5M250.4 557.9L254.8 557.5L253.0 561.5M264.0 563.8L273.4 556.8M268.8 557.3L273.4 556.8L271.6 561.1M282.2 563.8L291.4 556.5M286.7 557.2L291.4 556.5L289.7 560.9M300.4 563.8L308.7 556.8M304.4 557.5L308.7 556.8L307.3 560.9M318.6 563.8L325.6 557.1M321.8 558.0L325.6 557.1L324.5 560.8M336.7 563.8L342.4 557.6M339.2 558.6L342.4 557.6L341.7 560.9M354.9 563.8L359.4 558.2M356.7 559.2L359.4 558.2L359.0 561.0M373.1 563.8L376.6 558.7M374.4 559.7L376.6 558.7L376.4 561.2M391.2 563.8L394.4 558.8M392.3 559.9L394.4 558.8L394.3 561.2M409.4 563.8L412.4 558.5M410.3 559.8L412.4 558.5L412.4 561.0M427.6 563.8L430.6 557.9M428.4 559.3L430.6 557.9L430.7 560.5M445.8 563.8L448.9 557.1M446.4 558.8L448.9 557.1L449.1 560.0M463.9 563.8L467.2 556.3M464.6 558.2L467.2 556.3L467.6 559.5M482.1 563.8L485.4 555.7M482.7 557.8L485.4 555.7L485.9 559.2M500.3 563.8L503.7 555.1M500.7 557.4L503.7 555.1L504.2 558.8M518.5 563.8L521.9 554.5M518.8 557.0L521.9 554.5L522.6 558.4M536.6 563.8L539.7 553.9M536.7 556.7L539.7 553.9L540.6 558.0M554.8 563.8L557.6 553.4M554.5 556.5L557.6 553.4L558.7 557.6M573.0 563.8L575.4 552.9M572.4 556.2L575.4 552.9L576.7 557.2M591.1 563.8L593.1 552.7M590.2 556.1L593.1 552.7L594.7 556.9M609.3 563.8L610.9 552.6M608.1 556.2L610.9 552.6L612.6 556.8M627.5 563.8L628.8 552.2M626.0 555.9L628.8 552.2L630.7 556.5M645.7 563.8L646.7 551.4M643.9 555.5L646.7 551.4L648.8 555.9M663.8 563.8L664.6 550.2M661.6 554.7L664.6 550.2L667.0 555.0M682.0 563.8L681.7 548.2M678.7 553.7L681.7 548.2L684.9 553.5M700.2 563.8L697.2 546.9M694.8 553.3L697.2 546.9L701.6 552.2M718.3 563.8L713.1 549.5M712.1 555.5L713.1 549.5L717.8 553.4M736.5 563.8L731.0 553.5M730.9 558.1L731.0 553.5L735.0 555.9M754.7 563.8L754.2 558.7M753.4 560.6L754.2 558.7L755.4 560.4M772.9 563.8L772.9 559.9M772.1 561.2L772.9 559.9L773.6 561.2M791.0 563.8L788.9 560.1M788.9 561.8L788.9 560.1L790.4 560.9M209.5 582.0L219.9 575.4M215.0 575.6L219.9 575.4L217.6 579.7M227.7 582.0L238.6 575.1M233.4 575.3L238.6 575.1L236.2 579.6M245.9 582.0L257.0 574.7M251.7 575.0L257.0 574.7L254.6 579.5M264.0 582.0L275.1 574.6M269.8 574.9L275.1 574.6L272.7 579.4M282.2 582.0L292.8 574.7M287.7 575.1L292.8 574.7L290.6 579.3M300.4 582.0L310.0 575.3M305.3 575.7L310.0 575.3L308.0 579.5M318.6 582.0L326.8 576.1M322.8 576.5L326.8 576.1L325.1 579.8M336.7 582.0L343.7 576.9M340.2 577.3L343.7 576.9L342.3 580.0M354.9 582.0L360.5 577.8M357.7 578.1L360.5 577.8L359.4 580.3M373.1 582.0L377.4 578.6M375.2 578.9L377.4 578.6L376.6 580.7M391.2 582.0L395.0 578.6M393.0 579.0L395.0 578.6L394.4 580.5M409.4 582.0L413.0 578.1M411.0 578.7L413.0 578.1L412.5 580.2M427.6 582.0L431.3 577.4M429.1 578.3L431.3 577.4L430.9 579.7M445.8 582.0L449.7 576.4M447.2 577.5L449.7 576.4L449.4 579.1M463.9 582.0L468.1 575.6M465.4 577.0L468.1 575.6L467.9 578.7M482.1 582.0L486.5 574.8M483.6 576.4L486.5 574.8L486.4 578.2M500.3 582.0L504.9 574.0M501.7 575.9L504.9 574.0L504.9 577.7M518.5 582.0L523.1 573.4M519.8 575.4L523.1 573.4L523.2 577.3M536.6 582.0L541.2 572.7M537.7 575.0L541.2 572.7L541.4 576.8M554.8 582.0L559.1 572.1M555.6 574.7L559.1 572.1L559.6 576.4M573.0 582.0L576.9 571.8M573.5 574.5L576.9 571.8L577.6 576.1M591.1 582.0L594.7 571.4M591.3 574.4L594.7 571.4L595.6 575.8M609.3 582.0L612.5 571.5M609.3 574.5L612.5 571.5L613.5 575.8M627.5 582.0L630.4 571.2M627.2 574.4L630.4 571.2L631.5 575.5M645.7 582.0L648.2 571.0M645.1 574.3L648.2 571.0L649.6 575.3M663.8 582.0L666.2 570.1M663.0 573.7L666.2 570.1L667.8 574.7M682.0 582.0L682.5 568.7M679.6 573.2L682.5 568.7L684.9 573.4M700.2 582.0L696.3 567.7M694.8 573.4L696.3 567.7L700.5 571.8M718.3 582.0L710.8 567.8M710.6 574.2L710.8 567.8L716.3 571.2M736.5 582.0L726.9 569.7M727.8 575.9L726.9 569.7L732.7 572.0M754.7 582.0L747.0 574.2M748.1 578.5L747.0 574.2L751.2 575.4M772.9 582.0L769.0 578.1M769.6 580.2L769.0 578.1L771.1 578.7M791.0 582.0L787.0 579.6M787.9 581.2L787.0 579.6L788.9 579.6M136.8 600.1L148.3 593.2M143.0 593.3L148.3 593.2L145.8 597.9M155.0 600.1L166.7 593.1M161.2 593.2L166.7 593.1L164.1 597.8M173.2 600.1L184.9 593.1M179.4 593.2L184.9 593.1L182.2 597.8M191.4 600.1L203.0 593.1M197.6 593.2L203.0 593.1L200.4 597.8M209.5 600.1L219.5 594.1M214.9 594.2L219.5 594.1L217.3 598.2M227.7 600.1L238.7 593.5M233.6 593.6L238.7 593.5L236.2 598.0M245.9 600.1L257.6 593.1M252.1 593.2L257.6 593.1L254.9 597.9M264.0 600.1L275.8 593.2M270.3 593.2L275.8 593.2L273.1 597.9M282.2 600.1L293.3 593.6M288.2 593.7L293.3 593.6L290.8 598.1M300.4 600.1L310.5 594.3M305.8 594.3L310.5 594.3L308.2 598.3M318.6 600.1L327.5 595.4M323.5 595.3L327.5 595.4L325.4 598.9M336.7 600.1L344.3 596.6M341.0 596.3L344.3 596.6L342.4 599.3M354.9 600.1L361.2 597.5M358.5 597.2L361.2 597.5L359.5 599.7M373.1 600.1L378.0 598.4M376.0 598.0L378.0 598.4L376.7 600.0M391.2 600.1L395.4 598.1M393.6 597.9L395.4 598.1L394.4 599.6M409.4 600.1L413.4 597.6M411.5 597.7L413.4 597.6L412.5 599.3M427.6 600.1L431.7 596.8M429.6 597.2L431.7 596.8L430.9 598.8M445.8 600.1L450.2 595.7M447.8 596.4L450.2 595.7L449.5 598.2M463.9 600.1L468.9 594.9M466.1 595.7L468.9 594.9L468.2 597.7M482.1 600.1L487.4 594.1M484.3 595.1L487.4 594.1L486.7 597.3M500.3 600.1L505.8 593.3M502.5 594.6L505.8 593.3L505.3 596.8M518.5 600.1L524.2 592.5M520.7 594.0L524.2 592.5L523.7 596.3M536.6 600.1L542.4 591.8M538.7 593.5L542.4 591.8L542.0 595.8M554.8 600.1L560.4 591.2M556.6 593.2L560.4 591.2L560.2 595.4M573.0 600.1L578.2 590.8M574.5 593.0L578.2 590.8L578.3 595.1M591.1 600.1L596.1 590.4M592.4 592.8L596.1 590.4L596.3 594.8M609.3 600.1L614.0 590.3M610.4 592.7L614.0 590.3L614.3 594.6M627.5 600.1L631.7 590.3M628.3 592.9L631.7 590.3L632.2 594.6M645.7 600.1L649.5 590.4M646.2 593.0L649.5 590.4L650.2 594.5M663.8 600.1L667.4 590.2M664.2 592.9L667.4 590.2L668.2 594.4M682.0 600.1L683.0 590.0M680.6 593.3L683.0 590.0L684.6 593.7M700.2 600.1L701.5 592.5M699.5 594.8L701.5 592.5L702.6 595.4M718.3 600.1L718.3 593.1M716.9 595.5L718.3 593.1L719.7 595.5M736.5 600.1L727.7 591.3M729.0 596.1L727.7 591.3L732.5 592.6M754.7 600.1L741.9 591.2M744.5 596.8L741.9 591.2L748.1 591.7M772.9 600.1L760.1 594.2M763.4 598.8L760.1 594.2L765.7 593.7M791.0 600.1L780.8 596.4M783.6 599.7L780.8 596.4L785.1 595.6M27.8 618.3L36.3 613.4M32.4 613.4L36.3 613.4L34.3 616.8M46.0 618.3L56.1 612.5M51.4 612.5L56.1 612.5L53.8 616.5M64.2 618.3L76.0 611.5M70.5 611.5L76.0 611.5L73.2 616.2M82.3 618.3L95.2 610.9M89.2 610.9L95.2 610.9L92.2 616.0M100.5 618.3L113.3 610.9M107.4 610.9L113.3 610.9L110.4 616.0M118.7 618.3L131.5 610.9M125.6 610.9L131.5 610.9L128.5 616.0M136.8 618.3L149.5 611.0M143.7 611.0L149.5 611.0L146.6 616.1M155.0 618.3L167.7 611.0M161.8 611.0L167.7 611.0L164.8 616.1M173.2 618.3L185.8 611.0M180.0 611.0L185.8 611.0L182.9 616.1M191.4 618.3L204.0 611.0M198.2 611.0L204.0 611.0L201.1 616.1M209.5 618.3L219.7 612.5M215.0 612.5L219.7 612.5L217.3 616.5M227.7 618.3L238.3 612.2M233.4 612.2L238.3 612.2L235.9 616.4M245.9 618.3L257.0 612.2M251.9 612.1L257.0 612.2L254.4 616.5M264.0 618.3L275.5 612.4M270.3 612.1L275.5 612.4L272.7 616.7M282.2 618.3L293.2 612.9M288.3 612.6L293.2 612.9L290.5 617.0M300.4 618.3L310.3 613.7M305.9 613.3L310.3 613.7L307.8 617.3M318.6 618.3L327.4 615.1M323.7 614.5L327.4 615.1L324.9 618.0M336.7 618.3L344.3 616.3M341.3 615.5L344.3 616.3L342.1 618.5M354.9 618.3L361.4 617.2M358.9 616.3L361.4 617.2L359.4 618.9M373.1 618.3L378.9 617.8M376.8 616.8L378.9 617.8L377.0 619.1M391.2 618.3L396.6 617.1M394.5 616.5L396.6 617.1L395.0 618.6M409.4 618.3L414.0 616.6M412.1 616.3L414.0 616.6L412.7 618.1M427.6 618.3L432.3 615.9M430.2 615.8L432.3 615.9L431.1 617.6M445.8 618.3L450.6 615.0M448.2 615.2L450.6 615.0L449.6 617.1M463.9 618.3L469.2 614.3M466.6 614.6L469.2 614.3L468.2 616.7M482.1 618.3L487.8 613.5M484.9 614.1L487.8 613.5L486.8 616.3M500.3 618.3L506.3 612.8M503.1 613.5L506.3 612.8L505.3 615.9M518.5 618.3L524.8 612.0M521.3 612.9L524.8 612.0L523.9 615.4M536.6 618.3L543.2 611.1M539.5 612.3L543.2 611.1L542.4 614.9M554.8 618.3L561.3 610.5M557.5 611.9L561.3 610.5L560.6 614.5M573.0 618.3L579.4 610.0M575.5 611.6L579.4 610.0L578.8 614.1M591.1 618.3L597.3 609.5M593.4 611.3L597.3 609.5L596.9 613.8M609.3 618.3L615.3 609.2M611.4 611.1L615.3 609.2L615.1 613.5M627.5 618.3L633.2 609.0M629.4 611.1L633.2 609.0L633.1 613.4M645.7 618.3L651.0 609.0M647.3 611.2L651.0 609.0L651.0 613.3M663.8 618.3L668.7 609.2M665.2 611.4L668.7 609.2L668.8 613.3M682.0 618.3L683.5 608.9M681.1 611.8L683.5 608.9L684.9 612.5M700.2 618.3L702.8 611.0M700.4 613.0L702.8 611.0L703.4 614.1M718.3 618.3L718.3 613.4M717.4 615.1L718.3 613.4L719.3 615.1M736.5 618.3L738.7 622.0M738.7 620.3L738.7 622.0L737.2 621.2M754.7 618.3L745.7 616.7M748.5 619.1L745.7 616.7L749.1 615.5M772.9 618.3L762.8 614.6M765.5 617.9L762.8 614.6L767.0 613.9M791.0 618.3L780.8 613.5M783.4 617.2L780.8 613.5L785.3 613.1M9.6 636.5L14.8 630.4M11.8 631.5L14.8 630.4L14.2 633.5M27.8 636.5L33.7 629.5M30.3 630.7L33.7 629.5L33.1 633.1M46.0 636.5L54.5 628.5M49.9 629.5L54.5 628.5L53.1 632.9M64.2 636.5L75.9 627.7M70.1 628.4L75.9 627.7L73.6 633.1M82.3 636.5L96.5 628.3M90.0 628.3L96.5 628.3L93.2 634.0M100.5 636.5L114.9 628.3M108.3 628.2L114.9 628.3L111.5 634.0M118.7 636.5L133.1 628.4M126.5 628.3L133.1 628.4L129.7 634.1M136.8 636.5L151.3 628.4M144.7 628.3L151.3 628.4L147.9 634.1M155.0 636.5L168.5 629.1M162.4 628.9L168.5 629.1L165.3 634.4M173.2 636.5L185.9 629.6M180.1 629.5L185.9 629.6L182.9 634.5M191.4 636.5L202.2 630.7M197.3 630.5L202.2 630.7L199.6 634.9M209.5 636.5L218.7 631.7M214.6 631.5L218.7 631.7L216.5 635.2M227.7 636.5L236.4 632.0M232.5 631.8L236.4 632.0L234.3 635.3M245.9 636.5L255.6 631.5M251.2 631.3L255.6 631.5L253.2 635.2M264.0 636.5L274.5 631.2M269.8 631.0L274.5 631.2L271.9 635.1M282.2 636.5L292.7 631.3M288.0 631.0L292.7 631.3L290.1 635.2M300.4 636.5L310.0 631.8M305.7 631.5L310.0 631.8L307.6 635.3M318.6 636.5L327.2 635.0M323.9 633.8L327.2 635.0L324.5 637.2M336.7 636.5L343.8 636.5M341.3 635.1L343.8 636.5L341.3 637.9M354.9 636.5L360.7 637.0M358.8 635.6L360.7 637.0L358.6 638.0M373.1 636.5L378.1 636.5M376.4 635.5L378.1 636.5L376.4 637.5M391.2 636.5L396.6 635.5M394.6 634.8L396.6 635.5L395.0 636.9M409.4 636.5L414.9 634.5M412.6 634.1L414.9 634.5L413.4 636.3M427.6 636.5L433.3 633.9M430.8 633.7L433.3 633.9L431.8 636.0M445.8 636.5L451.4 633.5M448.9 633.4L451.4 633.5L450.1 635.6M463.9 636.5L470.2 633.7M467.5 633.4L470.2 633.7L468.6 635.9M482.1 636.5L488.9 634.0M486.0 633.5L488.9 634.0L487.0 636.2M500.3 636.5L507.2 633.3M504.1 633.0L507.2 633.3L505.4 635.8M518.5 636.5L525.5 632.4M522.3 632.4L525.5 632.4L523.9 635.2M536.6 636.5L544.0 631.3M540.4 631.6L544.0 631.3L542.5 634.6M554.8 636.5L562.3 630.2M558.4 630.9L562.3 630.2L560.9 633.9M573.0 636.5L580.6 629.8M576.7 630.6L580.6 629.8L579.3 633.7M591.1 636.5L599.0 629.5M594.9 630.3L599.0 629.5L597.7 633.5M609.3 636.5L617.9 628.6M613.4 629.6L617.9 628.6L616.5 633.0M627.5 636.5L636.3 628.2M631.6 629.3L636.3 628.2L634.9 632.8M645.7 636.5L654.6 627.8M649.8 629.0L654.6 627.8L653.2 632.6M663.8 636.5L672.6 627.6M667.8 628.9L672.6 627.6L671.4 632.5M682.0 636.5L690.4 627.8M685.7 629.1L690.4 627.8L689.2 632.5M700.2 636.5L707.4 627.8M703.2 629.4L707.4 627.8L706.7 632.3M718.3 636.5L723.0 631.8M720.5 632.5L723.0 631.8L722.3 634.4M736.5 636.5L739.5 636.5M738.5 635.9L739.5 636.5L738.5 637.1M754.7 636.5L750.2 639.6M752.4 639.4L750.2 639.6L751.1 637.6M772.9 636.5L765.4 639.9M768.7 640.2L765.4 639.9L767.3 637.3M791.0 636.5L781.3 637.3M784.9 639.0L781.3 637.3L784.5 635.1M9.6 654.7L13.0 647.4M10.4 649.2L13.0 647.4L13.3 650.6M27.8 654.7L31.6 646.5M28.7 648.6L31.6 646.5L31.9 650.1M46.0 654.7L51.3 645.4M47.6 647.5L51.3 645.4L51.3 649.7M64.2 654.7L71.4 644.3M66.8 646.4L71.4 644.3L71.0 649.3M82.3 654.7L91.6 643.6M86.2 645.6L91.6 643.6L90.6 649.3M100.5 654.7L109.4 643.1M104.0 645.3L109.4 643.1L108.6 648.9M118.7 654.7L126.2 644.0M121.4 646.2L126.2 644.0L125.7 649.2M136.8 654.7L148.0 646.8M142.6 647.3L148.0 646.8L145.7 651.8M155.0 654.7L168.0 647.1M162.0 647.1L168.0 647.1L165.0 652.3M173.2 654.7L185.2 648.2M179.8 648.1L185.2 648.2L182.3 652.9M191.4 654.7L201.9 649.5M197.2 649.2L201.9 649.5L199.3 653.4M209.5 654.7L218.7 650.2M214.6 649.9L218.7 650.2L216.4 653.6M227.7 654.7L236.5 650.4M232.6 650.1L236.5 650.4L234.3 653.7M245.9 654.7L255.4 650.1M251.2 649.8L255.4 650.1L253.0 653.6M264.0 654.7L274.3 649.8M269.8 649.4L274.3 649.8L271.7 653.5M282.2 654.7L292.1 650.0M287.7 649.6L292.1 650.0L289.6 653.6M300.4 654.7L309.6 650.4M305.5 650.0L309.6 650.4L307.3 653.7M318.6 654.7L326.7 653.9M323.7 652.6L326.7 653.9L324.0 655.8M336.7 654.7L342.9 655.2M340.9 653.8L342.9 655.2L340.7 656.3M354.9 654.7L360.0 654.9M358.3 653.8L360.0 654.9L358.2 655.8M373.1 654.7L378.1 654.7M376.4 653.6L378.1 654.7L376.4 655.7M391.2 654.7L397.1 654.1M395.0 653.2L397.1 654.1L395.2 655.5M409.4 654.7L415.8 653.5M413.3 652.7L415.8 653.5L413.8 655.2M427.6 654.7L434.4 652.8M431.7 652.1L434.4 652.8L432.4 654.8M445.8 654.7L452.7 652.1M449.8 651.6L452.7 652.1L450.8 654.4M463.9 654.7L471.2 653.1M468.3 652.2L471.2 653.1L469.0 655.1M482.1 654.7L489.1 654.0M486.6 652.9L489.1 654.0L486.8 655.7M500.3 654.7L507.1 654.1M504.6 652.9L507.1 654.1L504.8 655.6M518.5 654.7L525.6 652.7M522.7 652.0L525.6 652.7L523.5 654.8M536.6 654.7L544.0 651.2M540.8 650.9L544.0 651.2L542.2 653.9M554.8 654.7L562.4 649.8M558.8 650.0L562.4 649.8L560.7 653.0M573.0 654.7L580.4 648.4M576.6 649.1L580.4 648.4L579.1 652.1M591.1 654.7L598.9 647.9M594.9 648.7L598.9 647.9L597.6 651.8M609.3 654.7L618.0 646.8M613.4 647.8L618.0 646.8L616.6 651.3M627.5 654.7L636.6 646.1M631.7 647.3L636.6 646.1L635.2 650.9M645.7 654.7L654.9 645.7M649.9 647.0L654.9 645.7L653.5 650.7M663.8 654.7L672.9 645.6M668.0 646.9L672.9 645.6L671.6 650.5M682.0 654.7L690.7 645.7M685.9 647.1L690.7 645.7L689.5 650.5M700.2 654.7L708.0 646.0M703.5 647.4L708.0 646.0L707.0 650.5M718.3 654.7L723.6 649.4M720.7 650.2L723.6 649.4L722.8 652.3M736.5 654.7L739.5 654.7M738.5 654.1L739.5 654.7L738.5 655.3M754.7 654.7L753.9 659.3M755.1 657.8L753.9 659.3L753.2 657.5M772.9 654.7L768.8 660.4M771.4 659.2L768.8 660.4L769.1 657.6M791.0 654.7L784.5 660.2M787.8 659.6L784.5 660.2L785.6 656.9M9.6 672.8L8.9 664.3M7.4 667.4L8.9 664.3L10.9 667.1M27.8 672.8L27.5 663.1M25.6 666.5L27.5 663.1L29.5 666.4M46.0 672.8L46.0 661.1M43.7 665.2L46.0 661.1L48.4 665.2M64.2 672.8L64.8 658.2M61.7 663.1L64.8 658.2L67.5 663.4M82.3 672.8L83.8 655.9M79.9 661.5L83.8 655.9L86.7 662.1M100.5 672.8L101.2 656.3M97.7 661.9L101.2 656.3L104.3 662.1M118.7 672.8L118.7 657.4M115.6 662.8L118.7 657.4L121.7 662.8M136.8 672.8L137.3 659.2M134.4 663.8L137.3 659.2L139.9 664.0M155.0 672.8L159.8 662.6M156.1 665.2L159.8 662.6L160.2 667.1M173.2 672.8L180.4 665.7M176.4 666.7L180.4 665.7L179.3 669.6M191.4 672.8L199.3 667.2M195.5 667.6L199.3 667.2L197.7 670.8M209.5 672.8L218.0 668.0M214.1 668.0L218.0 668.0L216.0 671.3M227.7 672.8L236.9 668.5M232.8 668.2L236.9 668.5L234.6 671.9M245.9 672.8L255.1 668.7M251.1 668.3L255.1 668.7L252.7 672.0M264.0 672.8L273.7 668.6M269.5 668.2L273.7 668.6L271.2 672.0M282.2 672.8L291.7 668.8M287.6 668.3L291.7 668.8L289.2 672.1M300.4 672.8L309.4 669.2M305.6 668.6L309.4 669.2L307.0 672.2M318.6 672.8L326.4 672.8M323.7 671.3L326.4 672.8L323.7 674.4M336.7 672.8L342.4 674.3M340.7 672.7L342.4 674.3L340.1 674.9M354.9 672.8L359.9 673.5M358.3 672.3L359.9 673.5L358.1 674.3M373.1 672.8L378.5 672.8M376.6 671.7L378.5 672.8L376.6 673.9M391.2 672.8L397.5 672.3M395.2 671.2L397.5 672.3L395.4 673.7M409.4 672.8L416.1 671.6M413.6 670.7L416.1 671.6L414.1 673.4M427.6 672.8L434.9 670.9M432.0 670.1L434.9 670.9L432.8 673.0M445.8 672.8L453.5 670.0M450.2 669.5L453.5 670.0L451.4 672.5M463.9 672.8L471.6 671.5M468.7 670.4L471.6 671.5L469.2 673.5M482.1 672.8L489.1 672.8M486.7 671.4L489.1 672.8L486.7 674.2M500.3 672.8L506.5 672.8M504.4 671.6L506.5 672.8L504.4 674.1M518.5 672.8L525.2 671.6M522.6 670.7L525.2 671.6L523.1 673.4M536.6 672.8L544.0 670.2M540.9 669.6L544.0 670.2L541.9 672.5M554.8 672.8L562.6 668.3M559.0 668.3L562.6 668.3L560.8 671.4M573.0 672.8L580.4 666.6M576.6 667.2L580.4 666.6L579.1 670.2M591.1 672.8L599.1 665.9M595.0 666.7L599.1 665.9L597.7 669.9M609.3 672.8L618.0 665.0M613.4 666.0L618.0 665.0L616.6 669.4M627.5 672.8L636.6 664.3M631.7 665.4L636.6 664.3L635.2 669.1M645.7 672.8L654.9 663.9M649.9 665.1L654.9 663.9L653.5 668.8M663.8 672.8L672.9 663.7M668.0 665.1L672.9 663.7L671.6 668.7M682.0 672.8L690.7 663.8M685.9 665.2L690.7 663.8L689.5 668.7M700.2 672.8L708.3 664.4M703.8 665.7L708.3 664.4L707.2 669.0M718.3 672.8L724.4 667.3M721.2 668.0L724.4 667.3L723.4 670.5M736.5 672.8L739.5 672.3M738.3 671.9L739.5 672.3L738.6 673.1M754.7 672.8L754.7 677.1M755.5 675.6L754.7 677.1L753.8 675.6M772.9 672.8L770.7 678.7M772.6 677.1L770.7 678.7L770.3 676.2M791.0 672.8L786.0 678.8M789.0 677.7L786.0 678.8L786.6 675.7M9.6 691.0L3.9 680.2M3.7 685.1L3.9 680.2L8.0 682.8M27.8 691.0L24.5 678.6M23.1 683.5L24.5 678.6L28.1 682.2M46.0 691.0L43.2 677.6M41.5 682.8L43.2 677.6L46.8 681.7M64.2 691.0L62.0 676.3M59.8 681.8L62.0 676.3L65.7 681.0M82.3 691.0L80.9 674.7M78.1 680.6L80.9 674.7L84.7 680.0M100.5 691.0L99.8 674.4M96.7 680.3L99.8 674.4L103.3 680.0M118.7 691.0L118.7 675.4M115.5 680.8L118.7 675.4L121.8 680.8M136.8 691.0L136.8 676.0M133.8 681.2L136.8 676.0L139.8 681.2M155.0 691.0L156.2 678.0M153.2 682.3L156.2 678.0L158.4 682.7M173.2 691.0L176.1 680.1M172.9 683.3L176.1 680.1L177.3 684.4M191.4 691.0L196.2 682.6M192.9 684.5L196.2 682.6L196.2 686.5M209.5 691.0L217.4 685.5M213.5 685.9L217.4 685.5L215.7 689.0M227.7 691.0L236.0 687.1M232.4 686.8L236.0 687.1L233.9 690.1M245.9 691.0L254.1 687.4M250.5 687.0L254.1 687.4L252.0 690.3M264.0 691.0L272.7 687.4M269.0 686.9L272.7 687.4L270.4 690.4M282.2 691.0L290.9 687.6M287.2 687.0L290.9 687.6L288.6 690.5M300.4 691.0L308.8 687.9M305.3 687.3L308.8 687.9L306.5 690.7M318.6 691.0L326.3 690.3M323.5 689.0L326.3 690.3L323.8 692.1M336.7 691.0L343.3 692.1M341.2 690.4L343.3 692.1L340.8 693.1M354.9 691.0L360.7 691.5M358.8 690.2L360.7 691.5L358.6 692.5M373.1 691.0L379.3 691.0M377.2 689.8L379.3 691.0L377.2 692.2M391.2 691.0L398.3 690.7M395.8 689.4L398.3 690.7L395.9 692.2M409.4 691.0L416.8 690.4M414.1 689.1L416.8 690.4L414.4 692.1M427.6 691.0L435.7 689.9M432.7 688.7L435.7 689.9L433.1 691.9M445.8 691.0L454.2 689.5M451.0 688.3L454.2 689.5L451.6 691.7M463.9 691.0L471.7 690.3M468.9 689.0L471.7 690.3L469.2 692.1M482.1 691.0L488.9 691.0M486.6 689.6L488.9 691.0L486.6 692.4M500.3 691.0L506.5 690.6M504.3 689.5L506.5 690.6L504.4 692.0M518.5 691.0L525.2 690.0M522.7 689.0L525.2 690.0L523.1 691.7M536.6 691.0L544.0 688.5M540.9 687.9L544.0 688.5L542.0 690.8M554.8 691.0L562.6 686.5M559.0 686.5L562.6 686.5L560.8 689.6M573.0 691.0L581.3 685.2M577.2 685.5L581.3 685.2L579.6 688.9M591.1 691.0L599.5 684.0M595.2 684.7L599.5 684.0L598.0 688.1M609.3 691.0L618.2 683.4M613.6 684.2L618.2 683.4L616.6 687.8M627.5 691.0L636.8 682.7M631.9 683.7L636.8 682.7L635.2 687.4M645.7 691.0L655.2 682.3M650.1 683.4L655.2 682.3L653.6 687.2M663.8 691.0L673.2 682.2M668.2 683.4L673.2 682.2L671.7 687.1M682.0 691.0L690.8 682.5M686.1 683.7L690.8 682.5L689.5 687.2M700.2 691.0L708.8 683.7M704.4 684.5L708.8 683.7L707.3 688.0M718.3 691.0L725.1 687.1M722.0 687.1L725.1 687.1L723.5 689.8M736.5 691.0L738.3 694.0M738.3 692.6L738.3 694.0L737.1 693.3M754.7 691.0L754.7 695.7M755.6 694.1L754.7 695.7L753.8 694.1M772.9 691.0L772.3 697.2M773.7 695.2L772.3 697.2L771.3 695.0M791.0 691.0L788.5 698.0M790.8 696.1L788.5 698.0L788.0 695.0M9.6 709.2L1.2 697.2M1.8 703.0L1.2 697.2L6.5 699.7M27.8 709.2L20.4 696.3M20.4 702.3L20.4 696.3L25.5 699.3M46.0 709.2L39.6 695.4M39.0 701.4L39.6 695.4L44.5 698.9M64.2 709.2L58.8 694.5M57.7 700.7L58.8 694.5L63.6 698.5M82.3 709.2L78.3 694.1M76.7 700.1L78.3 694.1L82.7 698.5M100.5 709.2L97.8 694.0M95.7 699.8L97.8 694.0L101.8 698.7M118.7 709.2L117.3 693.8M114.7 699.4L117.3 693.8L120.9 698.9M136.8 709.2L135.8 693.8M133.1 699.3L135.8 693.8L139.2 698.9M155.0 709.2L154.2 693.8M151.4 699.3L154.2 693.8L157.6 699.0M173.2 709.2L172.7 694.6M169.9 699.7L172.7 694.6L175.8 699.5M191.4 709.2L191.8 695.5M188.9 700.2L191.8 695.5L194.4 700.3M209.5 709.2L212.5 698.2M209.3 701.4L212.5 698.2L213.6 702.6M227.7 709.2L233.5 704.3M230.5 704.8L233.5 704.3L232.5 707.1M245.9 709.2L252.6 706.0M249.6 705.8L252.6 706.0L250.9 708.5M264.0 709.2L271.3 706.3M268.2 705.8L271.3 706.3L269.4 708.7M282.2 709.2L290.0 706.6M286.8 705.9L290.0 706.6L287.8 709.0M300.4 709.2L308.3 707.1M305.1 706.2L308.3 707.1L306.0 709.4M318.6 709.2L326.3 708.5M323.5 707.2L326.3 708.5L323.8 710.3M336.7 709.2L344.1 709.8M341.7 708.1L344.1 709.8L341.4 711.1M354.9 709.2L361.9 709.5M359.5 708.0L361.9 709.5L359.4 710.8M373.1 709.2L380.1 709.2M377.7 707.8L380.1 709.2L377.7 710.6M391.2 709.2L399.0 708.5M396.2 707.2L399.0 708.5L396.5 710.3M409.4 709.2L417.5 707.7M414.4 706.6L417.5 707.7L415.0 709.9M427.6 709.2L436.5 707.8M433.1 706.5L436.5 707.8L433.7 710.0M445.8 709.2L454.3 708.0M451.1 706.7L454.3 708.0L451.6 710.1M463.9 709.2L471.7 709.0M469.0 707.5L471.7 709.0L469.1 710.6M482.1 709.2L488.9 709.8M486.7 708.2L488.9 709.8L486.4 710.9M500.3 709.2L506.5 709.7M504.5 708.3L506.5 709.7L504.2 710.8M518.5 709.2L525.4 708.6M522.9 707.4L525.4 708.6L523.1 710.2M536.6 709.2L544.5 707.1M541.4 706.2L544.5 707.1L542.2 709.4M554.8 709.2L563.3 705.2M559.5 704.9L563.3 705.2L561.1 708.3M573.0 709.2L581.6 703.1M577.4 703.5L581.6 703.1L579.8 706.9M591.1 709.2L600.2 702.5M595.7 703.0L600.2 702.5L598.4 706.6M609.3 709.2L618.9 701.8M614.1 702.4L618.9 701.8L617.0 706.2M627.5 709.2L637.2 701.3M632.2 702.1L637.2 701.3L635.4 705.9M645.7 709.2L655.4 700.8M650.4 701.7L655.4 700.8L653.7 705.7M663.8 709.2L673.1 700.8M668.2 701.9L673.1 700.8L671.6 705.6M682.0 709.2L690.9 702.1M686.4 702.8L690.9 702.1L689.2 706.3M700.2 709.2L707.5 704.0M703.9 704.3L707.5 704.0L706.0 707.3M718.3 709.2L723.0 709.2M721.4 708.2L723.0 709.2L721.4 710.1M736.5 709.2L738.0 713.2M738.3 711.5L738.0 713.2L736.7 712.1M754.7 709.2L754.5 714.6M755.7 712.8L754.5 714.6L753.5 712.7M772.9 709.2L772.0 715.3M773.5 713.4L772.0 715.3L771.1 713.0M791.0 709.2L787.9 715.9M790.3 714.2L787.9 715.9L787.6 712.9M9.6 727.3L-1.5 714.0M-0.3 720.9L-1.5 714.0L5.0 716.4M27.8 727.3L17.2 713.3M18.1 720.3L17.2 713.3L23.7 716.1M46.0 727.3L36.2 712.8M36.7 719.8L36.2 712.8L42.5 715.9M64.2 727.3L55.2 712.5M55.3 719.4L55.2 712.5L61.3 715.8M82.3 727.3L74.3 712.2M74.0 719.1L74.3 712.2L80.1 715.8M100.5 727.3L92.6 712.1M92.3 718.9L92.6 712.1L98.4 715.8M118.7 727.3L111.0 712.0M110.6 718.8L111.0 712.0L116.7 715.8M136.8 727.3L129.4 711.9M128.9 718.7L129.4 711.9L135.1 715.7M155.0 727.3L147.8 711.8M147.2 718.6L147.8 711.8L153.4 715.7M173.2 727.3L166.8 711.8M165.9 718.5L166.8 711.8L172.1 715.9M191.4 727.3L185.8 712.1M184.7 718.5L185.8 712.1L190.8 716.3M209.5 727.3L205.5 712.5M203.9 718.4L205.5 712.5L209.9 716.8M227.7 727.3L225.9 717.4M224.6 721.2L225.9 717.4L228.5 720.5M245.9 727.3L248.4 720.4M246.1 722.3L248.4 720.4L248.9 723.3M264.0 727.3L268.1 721.6M265.5 722.8L268.1 721.6L267.8 724.4M282.2 727.3L287.6 722.8M284.8 723.3L287.6 722.8L286.6 725.5M300.4 727.3L307.0 724.9M304.2 724.5L307.0 724.9L305.2 727.1M318.6 727.3L325.1 726.2M322.6 725.3L325.1 726.2L323.1 727.9M336.7 727.3L343.4 727.3M341.1 726.0L343.4 727.3L341.1 728.7M354.9 727.3L361.5 727.9M359.3 726.4L361.5 727.9L359.1 729.0M373.1 727.3L379.9 727.0M377.5 725.8L379.9 727.0L377.6 728.5M391.2 727.3L398.5 726.1M395.8 725.0L398.5 726.1L396.3 728.0M409.4 727.3L417.4 725.6M414.3 724.6L417.4 725.6L415.0 727.8M427.6 727.3L435.9 725.1M432.6 724.2L435.9 725.1L433.5 727.5M445.8 727.3L453.9 726.6M451.0 725.2L453.9 726.6L451.2 728.5M463.9 727.3L470.9 728.0M468.6 726.3L470.9 728.0L468.4 729.1M482.1 727.3L488.3 727.6M486.2 726.3L488.3 727.6L486.1 728.8M500.3 727.3L506.5 727.3M504.4 726.1L506.5 727.3L504.4 728.6M518.5 727.3L525.7 725.7M522.9 724.8L525.7 725.7L523.5 727.7M536.6 727.3L544.6 723.6M541.1 723.3L544.6 723.6L542.6 726.5M554.8 727.3L563.4 722.0M559.4 722.2L563.4 722.0L561.5 725.6M573.0 727.3L581.9 720.4M577.4 721.0L581.9 720.4L580.2 724.6M591.1 727.3L600.6 719.8M595.8 720.5L600.6 719.8L598.8 724.3M609.3 727.3L619.2 719.1M614.2 720.0L619.2 719.1L617.4 724.0M627.5 727.3L637.3 719.0M632.2 719.9L637.3 719.0L635.6 723.9M645.7 727.3L655.0 719.1M650.1 720.1L655.0 719.1L653.4 723.8M663.8 727.3L672.2 719.8M667.8 720.7L672.2 719.8L670.8 724.1M682.0 727.3L688.1 721.3M684.8 722.2L688.1 721.3L687.2 724.6M700.2 727.3L703.5 729.3M702.8 727.9L703.5 729.3L702.0 729.3M718.3 727.3L719.9 730.0M719.9 728.8L719.9 730.0L718.8 729.4M736.5 727.3L732.7 730.0M734.5 729.9L732.7 730.0L733.5 728.3M754.7 727.3L749.9 730.7M752.2 730.5L749.9 730.7L750.9 728.6M772.9 727.3L766.8 729.0M769.2 729.6L766.8 729.0L768.6 727.2M791.0 727.3L784.0 727.3M786.4 728.7L784.0 727.3L786.4 725.9M9.6 745.5L-4.7 728.5M-3.1 737.2L-4.7 728.5L3.7 731.5M27.8 745.5L13.6 728.4M15.1 737.2L13.6 728.4L21.9 731.5M46.0 745.5L31.8 728.4M33.3 737.1L31.8 728.4L40.2 731.5M64.2 745.5L50.2 728.5M51.6 737.2L50.2 728.5L58.4 731.6M82.3 745.5L68.4 728.4M69.8 737.1L68.4 728.4L76.7 731.6M100.5 745.5L86.8 728.5M88.1 737.1L86.8 728.5L94.9 731.7M118.7 745.5L105.0 728.5M106.3 737.1L105.0 728.5L113.2 731.6M136.8 745.5L123.3 728.4M124.5 737.0L123.3 728.4L131.4 731.6M155.0 745.5L141.5 728.4M142.7 737.0L141.5 728.4L149.6 731.6M173.2 745.5L159.7 728.3M161.0 737.0L159.7 728.3L167.8 731.6M191.4 745.5L179.1 727.4M179.8 736.1L179.1 727.4L187.0 731.2M209.5 745.5L198.8 726.9M198.8 735.5L198.8 726.9L206.2 731.2M227.7 745.5L220.0 727.0M219.0 734.9L220.0 727.0L226.4 731.8M245.9 745.5L241.4 728.8M239.6 735.5L241.4 728.8L246.3 733.7M264.0 745.5L263.5 732.1M261.0 736.8L263.5 732.1L266.3 736.6M282.2 745.5L283.8 736.5M281.5 739.3L283.8 736.5L285.1 739.9M300.4 745.5L304.3 740.9M302.0 741.7L304.3 740.9L303.9 743.3M318.6 745.5L322.4 741.7M320.3 742.2L322.4 741.7L321.9 743.8M336.7 745.5L340.9 742.0M338.8 742.4L340.9 742.0L340.2 744.1M354.9 745.5L359.7 742.2M357.4 742.4L359.7 742.2L358.7 744.3M373.1 745.5L378.8 742.2M376.2 742.2L378.8 742.2L377.5 744.5M391.2 745.5L397.8 742.0M394.8 741.9L397.8 742.0L396.2 744.5M409.4 745.5L416.4 742.0M413.3 741.8L416.4 742.0L414.7 744.6M427.6 745.5L434.3 742.4M431.4 742.1L434.3 742.4L432.6 744.8M445.8 745.5L451.9 744.4M449.6 743.6L451.9 744.4L450.0 746.0M463.9 745.5L469.4 745.5M467.5 744.4L469.4 745.5L467.5 746.6M482.1 745.5L487.5 745.0M485.6 744.1L487.5 745.0L485.8 746.3M500.3 745.5L506.1 743.4M503.7 742.9L506.1 743.4L504.5 745.3M518.5 745.5L524.8 741.0M521.7 741.3L524.8 741.0L523.5 743.9M536.6 745.5L544.2 740.1M540.5 740.4L544.2 740.1L542.7 743.5M554.8 745.5L563.6 739.0M559.2 739.5L563.6 739.0L561.8 743.0M573.0 745.5L582.9 738.0M578.0 738.6L582.9 738.0L581.0 742.6M591.1 745.5L601.6 737.4M596.4 738.1L601.6 737.4L599.6 742.3M609.3 745.5L620.0 737.0M614.6 737.8L620.0 737.0L618.0 742.1M627.5 745.5L637.7 737.1M632.5 738.0L637.7 737.1L635.9 742.1M645.7 745.5L654.9 737.7M650.2 738.6L654.9 737.7L653.3 742.3M663.8 745.5L668.8 739.5M665.9 740.6L668.8 739.5L668.3 742.6M682.0 745.5L678.3 746.8M679.9 747.1L678.3 746.8L679.3 745.7M700.2 745.5L697.4 746.5M698.5 746.7L697.4 746.5L698.1 745.6M718.3 745.5L712.6 746.5M714.8 747.3L712.6 746.5L714.4 745.0M736.5 745.5L729.1 746.2M731.8 747.4L729.1 746.2L731.6 744.5M754.7 745.5L746.9 745.5M749.6 747.1L746.9 745.5L749.6 744.0M772.9 745.5L765.1 745.2M767.7 746.9L765.1 745.2L767.8 743.7M791.0 745.5L783.3 744.8M785.8 746.6L783.3 744.8L786.1 743.5M9.6 763.7L-4.4 747.0M-2.9 755.6L-4.4 747.0L3.8 749.9M27.8 763.7L13.9 747.1M15.4 755.6L13.9 747.1L22.0 750.1M46.0 763.7L32.1 747.1M33.6 755.6L32.1 747.1L40.2 750.1M64.2 763.7L50.2 747.1M51.7 755.6L50.2 747.1L58.4 750.1M82.3 763.7L68.4 747.1M69.9 755.6L68.4 747.1L76.5 750.1M100.5 763.7L86.6 747.1M88.1 755.6L86.6 747.1L94.7 750.1M118.7 763.7L104.8 747.1M106.3 755.6L104.8 747.1L112.9 750.1M136.8 763.7L122.9 747.1M124.4 755.6L122.9 747.1L131.1 750.1M155.0 763.7L141.1 747.1M142.6 755.6L141.1 747.1L149.2 750.1M173.2 763.7L159.3 747.1M160.8 755.6L159.3 747.1L167.4 750.1M191.4 763.7L177.4 747.1M178.9 755.6L177.4 747.1L185.6 750.1M209.5 763.7L196.3 745.5M197.3 754.5L196.3 745.5L204.5 749.2M227.7 763.7L215.9 744.8M216.2 753.7L215.9 744.8L223.8 749.0M245.9 763.7L236.8 745.1M236.2 753.4L236.8 745.1L243.7 749.7M264.0 763.7L257.6 746.1M256.3 753.5L257.6 746.1L263.4 750.9M282.2 763.7L279.8 749.9M277.9 755.1L279.8 749.9L283.4 754.2M300.4 763.7L304.6 757.6M302.0 758.9L304.6 757.6L304.4 760.6M318.6 763.7L322.1 759.5M320.0 760.3L322.1 759.5L321.7 761.7M336.7 763.7L340.4 759.6M338.3 760.3L340.4 759.6L339.9 761.7M354.9 763.7L358.9 759.4M356.7 760.1L358.9 759.4L358.4 761.7M373.1 763.7L377.8 759.0M375.2 759.7L377.8 759.0L377.1 761.6M391.2 763.7L396.8 758.2M393.8 759.0L396.8 758.2L396.0 761.2M409.4 763.7L414.4 758.8M411.7 759.5L414.4 758.8L413.7 761.5M427.6 763.7L431.8 759.6M429.5 760.2L431.8 759.6L431.2 761.9M445.8 763.7L449.4 760.2M447.5 760.7L449.4 760.2L448.9 762.1M463.9 763.7L467.9 759.9M465.8 760.4L467.9 759.9L467.3 762.0M482.1 763.7L486.7 759.4M484.2 760.0L486.7 759.4L485.9 761.8M500.3 763.7L505.5 758.9M502.7 759.6L505.5 758.9L504.6 761.6M518.5 763.7L524.8 757.9M521.5 758.7L524.8 757.9L523.8 761.2M536.6 763.7L543.9 757.2M540.1 758.0L543.9 757.2L542.7 760.9M554.8 763.7L563.0 756.5M558.7 757.3L563.0 756.5L561.6 760.6M573.0 763.7L582.1 755.7M577.3 756.7L582.1 755.7L580.5 760.3M591.1 763.7L600.6 755.5M595.7 756.5L600.6 755.5L599.0 760.3M609.3 763.7L618.8 755.6M613.9 756.5L618.8 755.6L617.1 760.3M627.5 763.7L636.1 756.4M631.7 757.2L636.1 756.4L634.6 760.7M645.7 763.7L652.2 758.2M648.8 758.8L652.2 758.2L651.1 761.4M663.8 763.7L660.8 763.7M661.9 764.3L660.8 763.7L661.9 763.1M682.0 763.7L679.0 763.8M680.1 764.4L679.0 763.8L680.0 763.2M700.2 763.7L694.7 764.2M696.7 765.1L694.7 764.2L696.5 762.9M718.3 763.7L710.9 764.0M713.6 765.4L710.9 764.0L713.4 762.4M736.5 763.7L728.7 763.7M731.4 765.2L728.7 763.7L731.4 762.1M754.7 763.7L746.9 763.5M749.5 765.1L746.9 763.5L749.6 762.0M772.9 763.7L765.5 763.3M767.9 764.9L765.5 763.3L768.1 761.9M791.0 763.7L784.0 763.1M786.3 764.7L784.0 763.1L786.6 761.9" fill="none" stroke="#fff" stroke-width="1" shape-rendering="crispEdges"/>
<path d="M9.5 28V772M81.5 28V772M154.5 28V772M227.5 28V772M300.5 28V772M372.5 28V772M445.5 28V772M518.5 28V772M590.5 28V772M663.5 28V772M736.5 28V772M0 36.5H800M0 109.5H800M0 182.5H800M0 254.5H800M0 327.5H800M0 400.5H800M0 472.5H800M0 545.5H800M0 618.5H800M0 690.5H800M0 763.5H800" stroke="#808080" stroke-width="1" fill="none" shape-rendering="crispEdges"/>
<path d="M240.0 28.0L233.8 32.0L235.5 42.0L233.8 52.0L230.0 58.0L223.8 69.5L228.0 74.5L226.0 84.5L223.8 94.5L213.0 99.5L216.0 109.5L213.8 120.8L220.0 129.5L212.5 142.0L211.0 157.0L216.0 172.0L215.0 182.0L210.0 188.0L196.0 189.0L197.0 199.5L190.0 212.5L187.5 230.0L193.8 245.0L195.0 255.0L200.0 263.8L196.0 272.5L186.0 275.0L193.8 280.0L190.0 286.0L193.8 291.0L201.0 297.5L217.5 307.5L230.0 315.0L242.5 320.0L257.5 327.5L270.0 336.0L282.5 347.5L290.0 357.5L285.0 367.5L276.0 377.5L272.0 390.0L273.8 400.0L280.0 409.5L290.0 419.5L300.0 424.5L307.5 427.0L317.5 422.0L320.0 427.0L322.5 437.0L324.5 452.0L323.8 464.5L317.5 473.0L307.5 484.5L300.0 495.8L292.5 504.5L280.0 517.0L270.0 524.5L263.8 532.0L261.0 539.5L261.0 549.5L257.5 554.5L247.5 560.8L232.5 568.0L220.0 573.0L210.0 578.0L200.0 581.5L185.0 585.8L165.0 590.8L150.0 595.8L130.0 599.5L110.0 602.0L97.5 605.8L82.5 607.5L32.5 614.0L15.0 615.8L0.0 618.0M212.5 142.0L217.5 157.0L218.8 169.5L223.0 174.5L221.0 184.5L216.0 189.0L202.5 189.5L201.0 200.0L197.0 210.0L198.8 217.5L195.0 225.0L197.0 237.5L200.0 250.0L207.5 259.0L218.8 268.8L228.0 276.0L236.0 285.8L238.8 288.0L250.0 286.5L265.0 285.0L280.0 286.5L290.0 287.0L300.0 294.5L310.0 302.0L325.0 307.0L340.0 309.5L345.0 313.0L343.8 317.0L350.0 319.5L356.0 318.0L360.0 321.5L365.0 320.0L372.5 314.5L385.0 310.8L400.0 310.8L417.5 312.0L423.8 317.0L430.0 319.5L437.5 318.0L446.0 322.0L448.8 325.0L457.5 320.8L475.0 314.5L492.5 307.0L497.5 303.0L493.8 302.0L493.0 299.5L497.5 298.0L496.0 294.5L500.0 297.0L500.0 303.0L507.5 302.0L510.0 298.0L517.5 293.0L525.0 288.0L533.8 280.8L535.0 275.8L540.0 269.5L547.5 262.0L552.5 255.8L556.0 242.0L560.0 237.0L563.8 234.5L575.0 228.0L585.0 219.5L600.0 208.0L612.0 196.0L622.0 183.0L630.0 167.0L636.0 149.0L642.0 137.0L650.0 127.0L657.0 121.0L663.0 115.0L674.0 105.0L686.0 97.0L700.0 87.0L716.0 75.0L732.0 63.0L748.0 47.0L765.0 28.0M407.5 28.0L418.8 38.0L421.0 45.8L427.5 53.0L437.5 55.8L442.5 54.5L452.5 64.5L465.0 68.0L480.0 74.5L490.0 87.0L507.5 101.5L511.0 99.5L520.0 104.0L525.0 105.0L530.0 110.8L536.0 113.0L537.5 120.8L542.5 125.8L543.8 134.5L552.5 143.0L561.0 149.5L572.5 153.0L583.8 162.0L580.0 165.8L570.0 172.0L568.8 178.0L557.5 184.5L552.5 190.8L551.0 202.0L553.0 212.0L551.0 227.0L553.8 230.8L560.0 232.0L563.8 234.5M362.0 28.0L368.0 38.0L373.0 41.5L382.5 40.0L388.0 36.0L391.0 32.0L396.0 30.5L398.0 28.0M701.6 28.0L700.0 35.0L703.6 41.0L699.0 44.0L691.0 46.0L689.0 52.0L680.0 55.0L670.0 58.0L665.0 63.0L664.0 66.0L660.0 74.0L658.0 77.0L661.0 80.0L659.0 82.0L657.0 79.0L658.0 77.0M661.0 84.0L650.0 89.0L648.0 96.0L645.0 98.0L646.0 102.0L653.0 104.0L646.0 109.0L645.0 113.0L650.0 116.0L653.0 112.0L657.0 111.0L655.0 116.0L657.0 120.0M736.6 28.0L737.0 40.0L740.0 42.0L739.0 45.0L736.6 44.6L734.0 40.0L726.0 42.0L724.0 47.0L725.0 57.0L720.0 67.0L714.0 73.0L708.0 74.6L706.0 72.0L703.0 75.0L703.0 81.0L700.0 79.4L694.0 86.0L688.0 91.0L680.0 94.0L677.0 97.0L673.0 96.0L665.0 99.0L658.0 96.0L657.0 99.0L663.0 104.0L661.0 111.0L658.0 115.0L657.0 120.6" fill="none" stroke="#000" stroke-width="0.9" shape-rendering="crispEdges"/>
<path d="M0.5 27V773M0 27.5H800M0 768h2v5h-2zM1.5 27v6M1.5 773v-5M9.5 27v18M9.5 773v-17M16.5 27v6M16.5 773v-5M23.5 27v6M23.5 773v-5M31.5 27v6M31.5 773v-5M38.5 27v6M38.5 773v-5M45.5 27v10M45.5 773v-9M52.5 27v6M52.5 773v-5M60.5 27v6M60.5 773v-5M67.5 27v6M67.5 773v-5M74.5 27v6M74.5 773v-5M81.5 27v18M81.5 773v-17M89.5 27v6M89.5 773v-5M96.5 27v6M96.5 773v-5M103.5 27v6M103.5 773v-5M111.5 27v6M111.5 773v-5M118.5 27v10M118.5 773v-9M125.5 27v6M125.5 773v-5M132.5 27v6M132.5 773v-5M140.5 27v6M140.5 773v-5M147.5 27v6M147.5 773v-5M154.5 27v18M154.5 773v-17M161.5 27v6M161.5 773v-5M169.5 27v6M169.5 773v-5M176.5 27v6M176.5 773v-5M183.5 27v6M183.5 773v-5M191.5 27v10M191.5 773v-9M198.5 27v6M198.5 773v-5M205.5 27v6M205.5 773v-5M212.5 27v6M212.5 773v-5M220.5 27v6M220.5 773v-5M227.5 27v18M227.5 773v-17M234.5 27v6M234.5 773v-5M241.5 27v6M241.5 773v-5M249.5 27v6M249.5 773v-5M256.5 27v6M256.5 773v-5M263.5 27v10M263.5 773v-9M270.5 27v6M270.5 773v-5M278.5 27v6M278.5 773v-5M285.5 27v6M285.5 773v-5M292.5 27v6M292.5 773v-5M300.5 27v18M300.5 773v-17M307.5 27v6M307.5 773v-5M314.5 27v6M314.5 773v-5M321.5 27v6M321.5 773v-5M329.5 27v6M329.5 773v-5M336.5 27v10M336.5 773v-9M343.5 27v6M343.5 773v-5M350.5 27v6M350.5 773v-5M358.5 27v6M358.5 773v-5M365.5 27v6M365.5 773v-5M372.5 27v18M372.5 773v-17M380.5 27v6M380.5 773v-5M387.5 27v6M387.5 773v-5M394.5 27v6M394.5 773v-5M401.5 27v6M401.5 773v-5M409.5 27v10M409.5 773v-9M416.5 27v6M416.5 773v-5M423.5 27v6M423.5 773v-5M430.5 27v6M430.5 773v-5M438.5 27v6M438.5 773v-5M445.5 27v18M445.5 773v-17M452.5 27v6M452.5 773v-5M460.5 27v6M460.5 773v-5M467.5 27v6M467.5 773v-5M474.5 27v6M474.5 773v-5M481.5 27v10M481.5 773v-9M489.5 27v6M489.5 773v-5M496.5 27v6M496.5 773v-5M503.5 27v6M503.5 773v-5M510.5 27v6M510.5 773v-5M518.5 27v18M518.5 773v-17M525.5 27v6M525.5 773v-5M532.5 27v6M532.5 773v-5M540.5 27v6M540.5 773v-5M547.5 27v6M547.5 773v-5M554.5 27v10M554.5 773v-9M561.5 27v6M561.5 773v-5M569.5 27v6M569.5 773v-5M576.5 27v6M576.5 773v-5M583.5 27v6M583.5 773v-5M590.5 27v18M590.5 773v-17M598.5 27v6M598.5 773v-5M605.5 27v6M605.5 773v-5M612.5 27v6M612.5 773v-5M620.5 27v6M620.5 773v-5M627.5 27v10M627.5 773v-9M634.5 27v6M634.5 773v-5M641.5 27v6M641.5 773v-5M649.5 27v6M649.5 773v-5M656.5 27v6M656.5 773v-5M663.5 27v18M663.5 773v-17M670.5 27v6M670.5 773v-5M678.5 27v6M678.5 773v-5M685.5 27v6M685.5 773v-5M692.5 27v6M692.5 773v-5M700.5 27v10M700.5 773v-9M707.5 27v6M707.5 773v-5M714.5 27v6M714.5 773v-5M721.5 27v6M721.5 773v-5M729.5 27v6M729.5 773v-5M736.5 27v18M736.5 773v-17M743.5 27v6M743.5 773v-5M750.5 27v6M750.5 773v-5M758.5 27v6M758.5 773v-5M765.5 27v6M765.5 773v-5M772.5 27v10M772.5 773v-9M780.5 27v6M780.5 773v-5M787.5 27v6M787.5 773v-5M794.5 27v6M794.5 773v-5M0 29.5h4M800 29.5h-4M0 36.5h17M800 36.5h-17M0 43.5h4M800 43.5h-4M0 51.5h4M800 51.5h-4M0 58.5h4M800 58.5h-4M0 65.5h4M800 65.5h-4M0 72.5h9M800 72.5h-9M0 80.5h4M800 80.5h-4M0 87.5h4M800 87.5h-4M0 94.5h4M800 94.5h-4M0 102.5h4M800 102.5h-4M0 109.5h17M800 109.5h-17M0 116.5h4M800 116.5h-4M0 123.5h4M800 123.5h-4M0 131.5h4M800 131.5h-4M0 138.5h4M800 138.5h-4M0 145.5h9M800 145.5h-9M0 152.5h4M800 152.5h-4M0 160.5h4M800 160.5h-4M0 167.5h4M800 167.5h-4M0 174.5h4M800 174.5h-4M0 181.5h17M800 181.5h-17M0 189.5h4M800 189.5h-4M0 196.5h4M800 196.5h-4M0 203.5h4M800 203.5h-4M0 211.5h4M800 211.5h-4M0 218.5h9M800 218.5h-9M0 225.5h4M800 225.5h-4M0 232.5h4M800 232.5h-4M0 240.5h4M800 240.5h-4M0 247.5h4M800 247.5h-4M0 254.5h17M800 254.5h-17M0 261.5h4M800 261.5h-4M0 269.5h4M800 269.5h-4M0 276.5h4M800 276.5h-4M0 283.5h4M800 283.5h-4M0 291.5h9M800 291.5h-9M0 298.5h4M800 298.5h-4M0 305.5h4M800 305.5h-4M0 312.5h4M800 312.5h-4M0 320.5h4M800 320.5h-4M0 327.5h17M800 327.5h-17M0 334.5h4M800 334.5h-4M0 341.5h4M800 341.5h-4M0 349.5h4M800 349.5h-4M0 356.5h4M800 356.5h-4M0 363.5h9M800 363.5h-9M0 371.5h4M800 371.5h-4M0 378.5h4M800 378.5h-4M0 385.5h4M800 385.5h-4M0 392.5h4M800 392.5h-4M0 400.5h17M800 400.5h-17M0 407.5h4M800 407.5h-4M0 414.5h4M800 414.5h-4M0 421.5h4M800 421.5h-4M0 429.5h4M800 429.5h-4M0 436.5h9M800 436.5h-9M0 443.5h4M800 443.5h-4M0 450.5h4M800 450.5h-4M0 458.5h4M800 458.5h-4M0 465.5h4M800 465.5h-4M0 472.5h17M800 472.5h-17M0 480.5h4M800 480.5h-4M0 487.5h4M800 487.5h-4M0 494.5h4M800 494.5h-4M0 501.5h4M800 501.5h-4M0 509.5h9M800 509.5h-9M0 516.5h4M800 516.5h-4M0 523.5h4M800 523.5h-4M0 530.5h4M800 530.5h-4M0 538.5h4M800 538.5h-4M0 545.5h17M800 545.5h-17M0 552.5h4M800 552.5h-4M0 560.5h4M800 560.5h-4M0 567.5h4M800 567.5h-4M0 574.5h4M800 574.5h-4M0 581.5h9M800 581.5h-9M0 589.5h4M800 589.5h-4M0 596.5h4M800 596.5h-4M0 603.5h4M800 603.5h-4M0 610.5h4M800 610.5h-4M0 618.5h17M800 618.5h-17M0 625.5h4M800 625.5h-4M0 632.5h4M800 632.5h-4M0 640.5h4M800 640.5h-4M0 647.5h4M800 647.5h-4M0 654.5h9M800 654.5h-9M0 661.5h4M800 661.5h-4M0 669.5h4M800 669.5h-4M0 676.5h4M800 676.5h-4M0 683.5h4M800 683.5h-4M0 690.5h17M800 690.5h-17M0 698.5h4M800 698.5h-4M0 705.5h4M800 705.5h-4M0 712.5h4M800 712.5h-4M0 719.5h4M800 719.5h-4M0 727.5h9M800 727.5h-9M0 734.5h4M800 734.5h-4M0 741.5h4M800 741.5h-4M0 749.5h4M800 749.5h-4M0 756.5h4M800 756.5h-4M0 763.5h17M800 763.5h-17M0 770.5h4M800 770.5h-4" stroke="#000" stroke-width="1" fill="none" shape-rendering="crispEdges"/>
<path d="M772.0 96.9L776.1 96.9L773.9 99.8L775.0 99.8L775.8 100.2L776.1 100.5L776.5 101.6L776.5 102.3L776.1 103.4L775.4 104.2L774.2 104.5L773.1 104.5L772.0 104.2L771.6 103.7L771.2 103.1M779.5 98.7L779.5 98.3L779.8 97.7L780.3 97.2L781.0 96.9L782.5 96.9L783.3 97.2L783.6 97.7L784.0 98.3L784.0 99.1L783.6 99.8L782.8 100.9L779.1 104.5L784.4 104.5M792.2 98.0L791.4 97.2L790.3 96.9L788.8 96.9L787.7 97.2L786.9 98.0L786.9 98.7L787.3 99.4L787.7 99.8L788.4 100.2L790.7 100.9L791.4 101.2L791.8 101.6L792.2 102.3L792.2 103.4L791.4 104.2L790.3 104.5L788.8 104.5L787.7 104.2L786.9 103.4M772.0 169.9L776.1 169.9L773.9 172.8L775.0 172.8L775.8 173.2L776.1 173.5L776.5 174.6L776.5 175.3L776.1 176.4L775.4 177.2L774.2 177.5L773.1 177.5L772.0 177.2L771.6 176.7L771.2 176.1M779.8 169.9L784.0 169.9L781.7 172.8L782.8 172.8L783.6 173.2L784.0 173.5L784.4 174.6L784.4 175.3L784.0 176.4L783.2 177.2L782.1 177.5L780.9 177.5L779.8 177.2L779.4 176.7L779.1 176.1M792.2 171.0L791.4 170.2L790.3 169.9L788.8 169.9L787.7 170.2L786.9 171.0L786.9 171.7L787.3 172.4L787.7 172.8L788.4 173.2L790.7 173.9L791.4 174.2L791.8 174.6L792.2 175.3L792.2 176.4L791.4 177.2L790.3 177.5L788.8 177.5L787.7 177.2L786.9 176.4M772.0 241.9L776.1 241.9L773.9 244.8L775.0 244.8L775.8 245.2L776.1 245.5L776.5 246.6L776.5 247.3L776.1 248.4L775.4 249.2L774.2 249.5L773.1 249.5L772.0 249.2L771.6 248.7L771.2 248.1M782.8 241.9L779.1 247.0L784.7 247.0M782.8 241.9L782.8 249.5M792.2 243.0L791.4 242.2L790.3 241.9L788.8 241.9L787.7 242.2L786.9 243.0L786.9 243.7L787.3 244.4L787.7 244.8L788.4 245.2L790.7 245.9L791.4 246.2L791.8 246.6L792.2 247.3L792.2 248.4L791.4 249.2L790.3 249.5L788.8 249.5L787.7 249.2L786.9 248.4M772.0 314.9L776.1 314.9L773.9 317.8L775.0 317.8L775.8 318.2L776.1 318.5L776.5 319.6L776.5 320.3L776.1 321.4L775.4 322.2L774.2 322.5L773.1 322.5L772.0 322.2L771.6 321.7L771.2 321.1M783.6 314.9L779.8 314.9L779.4 318.2L779.8 317.8L780.9 317.4L782.1 317.4L783.2 317.8L784.0 318.5L784.4 319.6L784.4 320.3L784.0 321.4L783.2 322.2L782.1 322.5L780.9 322.5L779.8 322.2L779.4 321.7L779.1 321.1M792.2 316.0L791.4 315.2L790.3 314.9L788.8 314.9L787.7 315.2L786.9 316.0L786.9 316.7L787.3 317.4L787.7 317.8L788.4 318.2L790.7 318.9L791.4 319.2L791.8 319.6L792.2 320.3L792.2 321.4L791.4 322.2L790.3 322.5L788.8 322.5L787.7 322.2L786.9 321.4M772.0 387.9L776.1 387.9L773.9 390.8L775.0 390.8L775.8 391.2L776.1 391.5L776.5 392.6L776.5 393.3L776.1 394.4L775.4 395.2L774.2 395.5L773.1 395.5L772.0 395.2L771.6 394.7L771.2 394.1M784.0 389.0L783.6 388.2L782.5 387.9L781.7 387.9L780.6 388.2L779.8 389.3L779.4 391.2L779.4 393.0L779.8 394.4L780.6 395.2L781.7 395.5L782.1 395.5L783.2 395.2L784.0 394.4L784.4 393.3L784.4 393.0L784.0 391.9L783.2 391.2L782.1 390.8L781.7 390.8L780.6 391.2L779.8 391.9L779.4 393.0M792.2 389.0L791.4 388.2L790.3 387.9L788.8 387.9L787.7 388.2L786.9 389.0L786.9 389.7L787.3 390.4L787.7 390.8L788.4 391.2L790.7 391.9L791.4 392.2L791.8 392.6L792.2 393.3L792.2 394.4L791.4 395.2L790.3 395.5L788.8 395.5L787.7 395.2L786.9 394.4M772.0 459.9L776.1 459.9L773.9 462.8L775.0 462.8L775.8 463.2L776.1 463.5L776.5 464.6L776.5 465.3L776.1 466.4L775.4 467.2L774.2 467.5L773.1 467.5L772.0 467.2L771.6 466.7L771.2 466.1M784.4 459.9L780.6 467.5M779.1 459.9L784.4 459.9M792.2 461.0L791.4 460.2L790.3 459.9L788.8 459.9L787.7 460.2L786.9 461.0L786.9 461.7L787.3 462.4L787.7 462.8L788.4 463.2L790.7 463.9L791.4 464.2L791.8 464.6L792.2 465.3L792.2 466.4L791.4 467.2L790.3 467.5L788.8 467.5L787.7 467.2L786.9 466.4M772.0 532.9L776.1 532.9L773.9 535.8L775.0 535.8L775.8 536.2L776.1 536.5L776.5 537.6L776.5 538.3L776.1 539.4L775.4 540.2L774.2 540.5L773.1 540.5L772.0 540.2L771.6 539.7L771.2 539.1M780.9 532.9L779.8 533.2L779.4 534.0L779.4 534.7L779.8 535.4L780.6 535.8L782.1 536.2L783.2 536.5L784.0 537.2L784.4 538.0L784.4 539.1L784.0 539.7L783.6 540.2L782.5 540.5L780.9 540.5L779.8 540.2L779.4 539.7L779.1 539.1L779.1 538.0L779.4 537.2L780.2 536.5L781.3 536.2L782.8 535.8L783.6 535.4L784.0 534.7L784.0 534.0L783.6 533.2L782.5 532.9L780.9 532.9M792.2 534.0L791.4 533.2L790.3 532.9L788.8 532.9L787.7 533.2L786.9 534.0L786.9 534.7L787.3 535.4L787.7 535.8L788.4 536.2L790.7 536.9L791.4 537.2L791.8 537.6L792.2 538.3L792.2 539.4L791.4 540.2L790.3 540.5L788.8 540.5L787.7 540.2L786.9 539.4M772.0 605.9L776.1 605.9L773.9 608.8L775.0 608.8L775.8 609.2L776.1 609.5L776.5 610.6L776.5 611.3L776.1 612.4L775.4 613.2L774.2 613.5L773.1 613.5L772.0 613.2L771.6 612.7L771.2 612.1M784.0 608.4L783.6 609.5L782.8 610.2L781.7 610.6L781.3 610.6L780.2 610.2L779.4 609.5L779.1 608.4L779.1 608.1L779.4 607.0L780.2 606.2L781.3 605.9L781.7 605.9L782.8 606.2L783.6 607.0L784.0 608.4L784.0 610.2L783.6 612.1L782.8 613.2L781.7 613.5L780.9 613.5L779.8 613.2L779.4 612.4M792.2 607.0L791.4 606.2L790.3 605.9L788.8 605.9L787.7 606.2L786.9 607.0L786.9 607.7L787.3 608.4L787.7 608.8L788.4 609.2L790.7 609.9L791.4 610.2L791.8 610.6L792.2 611.3L792.2 612.4L791.4 613.2L790.3 613.5L788.8 613.5L787.7 613.2L786.9 612.4M775.0 677.9L771.2 683.0L776.9 683.0M775.0 677.9L775.0 685.5M781.7 677.9L780.5 678.3L779.6 679.5L779.2 681.7L779.6 683.9L780.5 685.1L781.7 685.5L782.9 685.1L783.8 683.9L784.2 681.7L783.8 679.5L782.9 678.3L781.7 677.9M792.2 679.0L791.4 678.2L790.3 677.9L788.8 677.9L787.7 678.2L786.9 679.0L786.9 679.7L787.3 680.4L787.7 680.8L788.4 681.2L790.7 681.9L791.4 682.2L791.8 682.6L792.2 683.3L792.2 684.4L791.4 685.2L790.3 685.5L788.8 685.5L787.7 685.2L786.9 684.4M775.0 750.9L771.2 756.0L776.9 756.0M775.0 750.9L775.0 758.5M780.1 752.4L781.0 752.0L782.1 750.9L782.1 758.5M792.2 752.0L791.4 751.2L790.3 750.9L788.8 750.9L787.7 751.2L786.9 752.0L786.9 752.7L787.3 753.4L787.7 753.8L788.4 754.2L790.7 754.9L791.4 755.2L791.8 755.6L792.2 756.3L792.2 757.4L791.4 758.2L790.3 758.5L788.8 758.5L787.7 758.2L786.9 757.4M19.0 748.4L19.8 748.0L20.1 746.9L20.1 746.1L19.8 745.0L18.7 744.3L16.8 743.9L15.0 743.9L13.6 744.3L12.8 745.0L12.5 746.1L12.5 746.5L12.8 747.7L13.6 748.4L14.7 748.8L15.0 748.8L16.1 748.4L16.8 747.7L17.2 746.5L17.2 746.1L16.8 745.0L16.1 744.3L15.0 743.9M18.6 752.2L19.0 753.0L20.1 754.2L12.5 754.2M20.1 758.7L12.5 760.1L20.1 761.5L12.5 762.9L20.1 764.4M91.0 748.4L91.8 748.0L92.1 746.9L92.1 746.1L91.8 745.0L90.7 744.3L88.8 743.9L87.0 743.9L85.6 744.3L84.8 745.0L84.5 746.1L84.5 746.5L84.8 747.7L85.6 748.4L86.7 748.8L87.0 748.8L88.1 748.4L88.8 747.7L89.2 746.5L89.2 746.1L88.8 745.0L88.1 744.3L87.0 743.9M92.1 753.8L91.7 752.5L90.5 751.6L88.3 751.3L86.1 751.6L84.9 752.5L84.5 753.8L84.9 755.0L86.1 755.9L88.3 756.2L90.5 755.9L91.7 755.0L92.1 753.8M92.1 758.7L84.5 760.1L92.1 761.5L84.5 762.9L92.1 764.4M165.1 748.0L165.1 744.3L161.8 743.9L162.2 744.3L162.6 745.4L162.6 746.5L162.2 747.7L161.5 748.4L160.4 748.8L159.7 748.8L158.6 748.4L157.8 747.7L157.5 746.5L157.5 745.4L157.8 744.3L158.3 743.9L158.9 743.5M162.6 756.0L161.5 755.6L160.8 754.9L160.4 753.8L160.4 753.4L160.8 752.2L161.5 751.5L162.6 751.1L162.9 751.1L164.0 751.5L164.8 752.2L165.1 753.4L165.1 753.8L164.8 754.9L164.0 755.6L162.6 756.0L160.8 756.0L158.9 755.6L157.8 754.9L157.5 753.8L157.5 753.0L157.8 751.9L158.6 751.5M165.1 758.7L157.5 760.1L165.1 761.5L157.5 762.9L165.1 764.4M238.1 748.0L238.1 744.3L234.8 743.9L235.2 744.3L235.6 745.4L235.6 746.5L235.2 747.7L234.5 748.4L233.4 748.8L232.7 748.8L231.6 748.4L230.8 747.7L230.5 746.5L230.5 745.4L230.8 744.3L231.3 743.9L231.9 743.5M238.1 753.0L237.8 751.9L237.0 751.5L236.3 751.5L235.6 751.9L235.2 752.6L234.8 754.1L234.5 755.3L233.8 756.0L233.0 756.4L231.9 756.4L231.3 756.0L230.8 755.6L230.5 754.5L230.5 753.0L230.8 751.9L231.3 751.5L231.9 751.1L233.0 751.1L233.8 751.5L234.5 752.2L234.8 753.4L235.2 754.9L235.6 755.6L236.3 756.0L237.0 756.0L237.8 755.6L238.1 754.5L238.1 753.0M238.1 758.7L230.5 760.1L238.1 761.5L230.5 762.9L238.1 764.4M311.1 748.0L311.1 744.3L307.8 743.9L308.2 744.3L308.6 745.4L308.6 746.5L308.2 747.7L307.5 748.4L306.4 748.8L305.7 748.8L304.6 748.4L303.8 747.7L303.5 746.5L303.5 745.4L303.8 744.3L304.3 743.9L304.9 743.5M311.1 756.4L303.5 752.6M311.1 751.1L311.1 756.4M311.1 758.7L303.5 760.1L311.1 761.5L303.5 762.9L311.1 764.4M383.1 748.0L383.1 744.3L379.8 743.9L380.2 744.3L380.6 745.4L380.6 746.5L380.2 747.7L379.5 748.4L378.4 748.8L377.7 748.8L376.6 748.4L375.8 747.7L375.5 746.5L375.5 745.4L375.8 744.3L376.3 743.9L376.9 743.5M382.0 756.0L382.8 755.6L383.1 754.5L383.1 753.8L382.8 752.6L381.7 751.9L379.8 751.5L378.0 751.5L376.6 751.9L375.8 752.6L375.5 753.8L375.5 754.1L375.8 755.3L376.6 756.0L377.7 756.4L378.0 756.4L379.1 756.0L379.8 755.3L380.2 754.1L380.2 753.8L379.8 752.6L379.1 751.9L378.0 751.5M383.1 758.7L375.5 760.1L383.1 761.5L375.5 762.9L383.1 764.4M456.1 748.0L456.1 744.3L452.8 743.9L453.2 744.3L453.6 745.4L453.6 746.5L453.2 747.7L452.5 748.4L451.4 748.8L450.7 748.8L449.6 748.4L448.8 747.7L448.5 746.5L448.5 745.4L448.8 744.3L449.3 743.9L449.9 743.5M456.1 755.6L456.1 751.9L452.8 751.5L453.2 751.9L453.6 753.0L453.6 754.1L453.2 755.3L452.5 756.0L451.4 756.4L450.7 756.4L449.6 756.0L448.8 755.3L448.5 754.1L448.5 753.0L448.8 751.9L449.3 751.5L449.9 751.1M456.1 758.7L448.5 760.1L456.1 761.5L448.5 762.9L456.1 764.4M529.1 748.0L529.1 744.3L525.8 743.9L526.2 744.3L526.6 745.4L526.6 746.5L526.2 747.7L525.5 748.4L524.4 748.8L523.7 748.8L522.6 748.4L521.8 747.7L521.5 746.5L521.5 745.4L521.8 744.3L522.3 743.9L522.9 743.5M529.1 754.9L524.0 751.1L524.0 756.8M529.1 754.9L521.5 754.9M529.1 758.7L521.5 760.1L529.1 761.5L521.5 762.9L529.1 764.4M601.1 748.0L601.1 744.3L597.8 743.9L598.2 744.3L598.6 745.4L598.6 746.5L598.2 747.7L597.5 748.4L596.4 748.8L595.7 748.8L594.6 748.4L593.8 747.7L593.5 746.5L593.5 745.4L593.8 744.3L594.3 743.9L594.9 743.5M601.1 751.9L601.1 756.0L598.2 753.8L598.2 754.9L597.8 755.7L597.5 756.0L596.4 756.4L595.7 756.4L594.6 756.0L593.8 755.3L593.5 754.1L593.5 753.0L593.8 751.9L594.3 751.5L594.9 751.1M601.1 758.7L593.5 760.1L601.1 761.5L593.5 762.9L601.1 764.4M674.1 748.0L674.1 744.3L670.8 743.9L671.2 744.3L671.6 745.4L671.6 746.5L671.2 747.7L670.5 748.4L669.4 748.8L668.7 748.8L667.6 748.4L666.8 747.7L666.5 746.5L666.5 745.4L666.8 744.3L667.3 743.9L667.9 743.5M672.3 751.5L672.7 751.5L673.3 751.9L673.8 752.3L674.1 753.0L674.1 754.5L673.8 755.3L673.3 755.7L672.7 756.0L671.9 756.0L671.2 755.7L670.1 754.9L666.5 751.1L666.5 756.4M674.1 758.7L666.5 760.1L674.1 761.5L666.5 762.9L674.1 764.4M747.1 748.0L747.1 744.3L743.8 743.9L744.2 744.3L744.6 745.4L744.6 746.5L744.2 747.7L743.5 748.4L742.4 748.8L741.7 748.8L740.6 748.4L739.8 747.7L739.5 746.5L739.5 745.4L739.8 744.3L740.3 743.9L740.9 743.5M745.6 752.2L746.0 753.0L747.1 754.2L739.5 754.2M747.1 758.7L739.5 760.1L747.1 761.5L739.5 762.9L747.1 764.4" stroke="#8a7e80" stroke-width="1" fill="none" shape-rendering="crispEdges"/>
<defs><linearGradient id="cb" x1="0" y1="1" x2="0" y2="0">
<stop offset="0" stop-color="#0000ff"/><stop offset="0.264" stop-color="#00ffff"/><stop offset="0.398" stop-color="#00ff00"/>
<stop offset="0.537" stop-color="#ffff00"/><stop offset="0.838" stop-color="#ff0000"/><stop offset="1" stop-color="#c40076"/></linearGradient></defs>
<rect x="32.5" y="160.5" width="48" height="608" fill="#fff" stroke="#000" stroke-width="1" shape-rendering="crispEdges"/>
<rect x="34" y="162" width="45" height="605" fill="url(#cb)" shape-rendering="crispEdges"/>
<path d="M88.5 154.9L93.7 154.9L90.8 158.5L92.2 158.5L93.2 159.0L93.7 159.4L94.1 160.7L94.1 161.6L93.7 162.9L92.7 163.9L91.2 164.3L89.8 164.3L88.5 163.9L87.9 163.4L87.5 162.5M100.1 154.9L98.6 155.4L97.5 156.9L97.0 159.6L97.5 162.3L98.6 163.8L100.1 164.3L101.6 163.8L102.7 162.3L103.2 159.6L102.7 156.9L101.6 155.4L100.1 154.9M88.0 309.1L88.0 308.7L88.5 307.8L89.0 307.3L89.9 306.9L91.8 306.9L92.8 307.3L93.2 307.8L93.7 308.7L93.7 309.6L93.2 310.5L92.2 311.8L87.5 316.3L94.1 316.3M97.3 309.1L97.3 308.7L97.8 307.8L98.3 307.3L99.2 306.9L101.1 306.9L102.1 307.3L102.5 307.8L103.0 308.7L103.0 309.6L102.5 310.5L101.5 311.8L96.8 316.3L103.4 316.3M88.8 460.8L89.9 460.3L91.3 458.9L91.3 468.3M102.4 458.9L97.8 458.9L97.2 463.0L97.8 462.5L99.1 462.0L100.5 462.0L102.0 462.5L103.0 463.4L103.4 464.7L103.4 465.6L103.0 466.9L102.0 467.9L100.5 468.3L99.1 468.3L97.8 467.9L97.2 467.4L96.8 466.5M89.8 610.9L88.5 611.3L87.9 612.3L87.9 613.1L88.5 614.0L89.4 614.5L91.2 615.0L92.7 615.4L93.7 616.2L94.1 617.2L94.1 618.5L93.7 619.4L93.1 619.9L91.8 620.3L89.8 620.3L88.5 619.9L87.9 619.4L87.5 618.5L87.5 617.2L87.9 616.2L88.9 615.4L90.4 615.0L92.2 614.5L93.1 614.0L93.7 613.1L93.7 612.3L93.1 611.3L91.8 610.9L89.8 610.9M90.8 762.9L89.3 763.4L88.2 764.9L87.7 767.6L88.2 770.3L89.3 771.8L90.8 772.3L92.3 771.8L93.4 770.3L93.9 767.6L93.4 764.9L92.3 763.4L90.8 762.9M38.3 135.7H35.3V150.2H38.3M73.6 135.7H76.8V150.2H73.6M41.5 139.5V147.4M41.5 141.2L43 139.8L44.5 139.5L45.7 140L46.2 141.5V147.4M46.2 141.3L47.7 139.8L49.2 139.5L50.3 140L50.8 141.5V147.4M61 135.3L51.6 150.4M68.8 141L68 140L66.5 139.5L65 139.5L63.8 140L63.3 141.2L63.8 142.4L65 143L67.3 143.7L68.5 144.3L69 145.3L68.5 146.6L67 147.4L65.3 147.4L63.8 146.8L63.1 145.8" stroke="#000" stroke-width="1" fill="none" shape-rendering="crispEdges"/>
<g font-family="Liberation Sans, sans-serif" font-weight="bold" font-size="25" fill="#808080">
<text x="7" y="49.5" textLength="381" lengthAdjust="spacingAndGlyphs">modelo GEFS-WAVE (NCEP)</text>
<text x="7" y="72.5" textLength="491" lengthAdjust="spacingAndGlyphs">forecast date: 2024-06-17 12:00:00</text>
<text x="42" y="94.5" textLength="446" lengthAdjust="spacingAndGlyphs">valid date: 2024-06-24 15:00:00</text>
</g>
</svg>
</body></html>
